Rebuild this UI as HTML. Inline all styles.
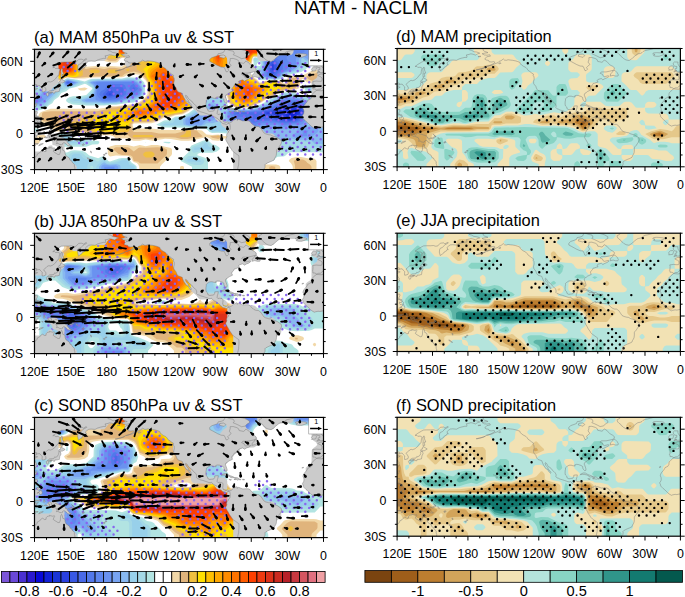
<!DOCTYPE html><html><head><meta charset="utf-8"><style>html,body{margin:0;padding:0;background:#fff;}svg{display:block;font-family:"Liberation Sans", sans-serif;}</style></head><body>
<svg width="685" height="597" viewBox="0 0 685 597">
<defs>
<clipPath id="ca"><rect x="34.5" y="49.3" width="289.00" height="120.30"/></clipPath>
<clipPath id="cb"><rect x="34.5" y="233.3" width="289.00" height="120.30"/></clipPath>
<clipPath id="cc"><rect x="34.5" y="417.4" width="289.00" height="120.20"/></clipPath>
<clipPath id="cd"><rect x="397.1" y="48.5" width="283.30" height="118.30"/></clipPath>
<clipPath id="ce"><rect x="397.1" y="233.2" width="283.30" height="118.30"/></clipPath>
<clipPath id="cf"><rect x="397.1" y="417.3" width="283.30" height="118.90"/></clipPath>
<path id="land" d="M1000 750l0-540 100 0 30 13 35 7 15 15 15 10 5 15 10 15 10 15-5 10 3 7-10 11-5 15-11 7 13 12 21 11-16 4-20-5-10 13-3 5 18 9 15 9 10-3-8-15 13 7 18 2 9-12 13-12-2-15 1-15 11 1 17 6 3 9-1 11-10 15-9 10 13 11 10 8 7 8 13 7 14-3 19 7 24 20 11 18 17 13 2 19 2 15 6 13-18 9-20-2-7 8-16 0 23 17 30 18 20 10 25 1 35 0 23 2 17-6 20 2 5 7 17 17 28 2 10-8 25 13 4-6-29-15-20-22-20-8-5-12-2-20 7-29 17 12 13 9 5 10 18 8 7 13 8-2-11 17 13 12 15 11 20 2 33-3 22 12 20 6 30 7 15-1 2 12-7 9 25 5 15 5 15-3 25-8 10 7 10 5 15 4-10 5-15 5-25 3-20 12-20 5-10 10-50 20-750 30zM1421 459l14 6-7 25 15 2-11 26 1 15-6 11-5-9-4-15 3-20-2-25zM1400 415l12 3 21 2 22 13-10 7-25 14-4-11-2-10-10-1-4-9zM1415 414l5-19-10-20-2-15-2-10-8-1-10-3-18 0-2-11-11 0-6 8-21 0-18-4-3 4 6 4 12 8 18 1 15 1 8 15 5-4 12 5 10 9 5 13-1 11 6 7zM1300 335l10 4 9-9-5-16-8-4-4 5-5 16zM1325 330l22 8-5 5-12-2-5-6zM1201 230l6-10 8 10 5 20-5 3-8-8zM1206 185l16 0 2-15-8-12 1-16 23-3 2-13-9 4-14 9-13-1 3 8-8 14 3 15zM1220 70l15 8 8 6 12 14 10-25-5-10-7-7-11 6-6 15-15-8zM1220 118l15-6 8 13 14-13-7-12-15-5-10 3-5 7zM1172 83l25 31-4-1-18-23zM1090 15l20 3 20 14 20 17 18 20 8-5 16-11-9-7-5-11 0-25 12-2-15-18-10-15-5-13-15 3-45 6-10 29zM1194-55l1 20-7 8 10 27 10 13 17-3 20 3 7 2-10-11-22 1-17-2 5-17 24 5-17-10 11-26-11-2-4 17-7 1 0-27zM1278 22l8-10-5-6 7-3-8-10-5 10 3 12zM1280-33l28-5-8 9-15 1zM1260-31l12-5-7-3zM1240-93l12 7 21 2-22-12-16-7zM1198-85l32 2-1-5-29-1zM1160-83l30 2 0-7-25-2zM1190-95l18-4-3-4-15 5zM1310-13l15 9 15-5 2-16 13-8 20 18 15-6 20-5 20-7 15-5 13-10 0-10 18-3-6-7 12-12 11-15 15-7-9-4-24 5-10 11-15 12-8 1-9-6 0-7-8-3-15 2-15 9-13-2 5 11-7 18-20 9-15 5-13 0-12 12 10 6-10 1-8 6zM1484-55l16 0 15 6 7 7 2-7-8-7-16-7-15 2zM1507-26l23-19-2-4-15 19zM1546-50l13-15-3-4-9 10zM1596-92l12-3-2-4-9 2zM1606-83l9-9-3-3-6 7zM1638-202l12-4 20-17-5-1-23 14zM1665-146l7-4 1-12-7 6zM1773-175l13 2-1-9-11 1zM1788-163l12 1-1-6-11 1zM1130-210l12-10 23 13 20 4 25 8 12 15 1 10 12 5 7 3 8 12 15 11 13-6 5-5 13 2 1 13 8 10 10 3 11 1-1 6 10-3 15-4 15 3 4-4-7-9-7-16 14-11 16-9 10-7 13 1 7 19 1 26 3 14 6 8 6-12 4-21 10-3 8-7 1-15 7-20 13-9 14-9 8-20 12-3 4-12 19-18 0-16 5-15-5-23-5-15-16-15-10-30-50-15-50 5-20 25-25 7-5 23-40 10-60-10-50-14-45-4-5 8 7 25-8 20-13 30-1 15 3 15zM1925 720l5-36 12-9 18-5 10-5-20-3-30-6 20-11 6 0 14-2 25 4 5-12-30-5-10-10-7-10 12-7 20-4 5-11 20-2 20 3 10-6-15-11-20-12-25-10-15-2 20 6 30 6 20 10 30 10 10 12 15 4 20 16 10-10 15-2 15 5 20-3 20-2 25-5 15-5 20-7 5-13 10-10 15-10 20-10 10-10 10-15 15-10 15-12 15-9-2-14 7-10 1-20-5-20 1-16 6-9 12-15 5-13 5-11 9-11 16-5 17-6 2-9 6-15 7-15 11-15 5-10 19-10 6-12 10-13 7-6 3 9-10 12-13 15-5 15-15 15-7 20 4 3 11-8 7-15 15-15 15-10 10-15 12-10 13-13 6-12 1-10-2-10 10-10 12-3 13-7 20-5 20-7 15-5 13-5 12-1 10 3 10-12 10-8 15-7 15-8 10-10 12-10 0-8 8-2 15-13 15-2 15-6 10 9 10 2 8-10 2-10 1-15-3-20-11-10-2-10-10-10-4-10-1-12 5-6-7-7-5-17 10-18 12-20 10-20 15-20 5-10 15-15 15-10 15-11 12-8 1-16 0-20-2-20-1-20-5-20-4-20-3-20-3-80 220 0-2 95 15 20 2 15-2 10 7 7 15 8 15 7 20 8 10 5 10 5 5 15 7 10 6 15 2 20 0 20 5 10 10 10 10 15 10 15 5 10 2 10-4 15-8 5-15 10-10 7-15 5-20 6-20 10-15 2-25 7-15 8-10 15-10 15-7 10-18 13-20 1-20 9-10 10-10 7-10 15-15 6-25 0-20-1-20 8-15 5-13-8 3 10-7 3-13-8-15-5-10-10-5-7-12-5-13 3-8 5-12-4-10 3-12 5-5 15 2 15 1 20-11 8-20 2-12-2-6 7 1 15 5 15 4 20-12 0-18-2-1-13-8-13-18-2-15-2-15 7-3 15-11 10-3 15 1 20 3 15-1 10 9 8 10 7 10 6 8 1 12 0 10-3 10-2 13-2-3 10 15 4 15-1 10-4 13-4 14-9 1-14 7-12 8-8 10 1 2 12-3 10-5 15-6 15 1 10 6 8 13 7 9 8 10 4 20 10-7 13 2 10 8 10 7 8 5 11 15 3 10 5 15 3 0 9-7 4 7 9 15 5 15 4 13-11 17 10 20 8 15 11-5 6-20-5-15-3-10 6-5 14-20 8 10 12 40 0 30 6 30 7 10 10 0 13-15 12-20 10-15 15-13 15-22 13-10-13-10-7-20 5-15 2-5 15-15 10-30 9-25-1 0-18-7-20 15-20-18-15-10-10 8-15-13-13-10 3-5 15-10 20-25 2-30 13-40 22-25 13 0 15 15 15 30 10 20 8 5 15 25 4 20 8 10 18 5 27zM3005 467l25 6 20-6 20 0 5 9-10 19-20 20-13 0-7-15-18-15 1-8zM2795 720l0-20 25-10 30-5 10-17-10-13 20-8 25-12 25-13 30 6 15 17 20 10 0 15-25 15-30 10-20 5 0 20zM2735 635l40-10 15 15-20 13-30-3zM3090 720l0-20-5-10-20-10 0-10 5-10 10-10 15-10 5-10 15-10 10-10 15-7 25-5 10 7 10 5 15 15 15 12 10 8 15 10 20 3 15 7 10 10 15 7 20 4 30 7 25 7 5 20zM2751 219l14 8 15 5 15-1 15-9 15-7 15-5 18-8-3-3-25-1-5 9-20 9-20 4-15 0-14-2zM2856 197l14 2 15-1 20-13 11-1-6-3-15 1-10-4-8 5-12-1-9 2 14 3 3 6zM2816 184l20-2-4-5-12 3zM2928 185l15-1 1-4-16 0zM3375 638l20-4 25 0 25 9 20 9-10 8-20 3-35 2-25-2-10-8 20-6-12-6zM3500 517l35 4 5 14 2 11-7 7-20-1-10-10-5-9 6-10zM3545 501l15 5 25 1 27 2 6 16-13 10-10 10-12 15-5 15 2 11-30 0-12-11 5-15 7-10 20-2-1-8 2-7-14-3-2-10 2-4 12-2-19-2zM3700 520l-90-10-10-13-15-4-2 4-21-9-9-4 5-6 17-6 13-10 0-17-5-11-18 0-25 2-30-4 3-12-1-15-1-13-4-5 5-3 0-14 18 0 7-6 8-4 12 7 18 1 10 8 8 9 7 5 2 10 18 15 30 15 50 0zM3544 359l-9-4-10-12-10-8-10-10-2-15 0-6-10-17-23-10-5-12-12-15-13-15-8-15-2-12 6-13 2-15-3-15-10-15 1-5 7-15-1-7 13-13 10-10 13-10 10-10 12-12 15-13 19-11 11 4 20 4 15-2 15 3 15 3 20 7 20 2 20-20 40-5 0 330-100-10-20-5zM2042 197l3 6 7-6-2-5-6-3zM2034 209l4 1 2-3-4-1zM2018 215l3 2 3-4-4 0zM1885 632l20 3 5-3-20-2zM2060 575l15 5 5-5-15-5zM1870 520l30 5 30 7 20 11-5-3-35-12-30-8zM3420 280l10 6 6-3-11-5z" vector-effect="non-scaling-stroke"/>
</defs>
<rect width="685" height="597" fill="#fff"/>
<text x="361.05" y="13.7" text-anchor="middle" font-size="18.8">NATM - NACLM</text>
<g clip-path="url(#ca)">
<rect x="34.5" y="49.3" width="289.00" height="120.30" fill="#ffffff"/>
<rect x="34.5" y="49.3" width="289.00" height="120.30" fill="#ffffff"/>
<g transform="scale(0.25)">
<path d="M126 185l211 0 0 70 2 8 6 4 42-3 30 3 23-3 48 3 31-30-4-5-27-1-9 6-4 6-5 5-6 2-24 0-23-6-9-7-4-5-4-24 0-23 666 0 0 23-5 6-16 12-6 2-24-1-4 5-6 34-5 6-9 6-2 6 15 11 8 12 15 11 12 13 24-8 47 1 12 1 6 3 6 5 6 1 4-4 8-23 12-3 47-3 48-23 23 3 24 0 0 54-71-3-7-2-17-15-6 5-7 28-4 6-7 3-17 4-30 1-12 3-31 18-28 11-24 16-46 19-31 3-24-2-19-7-9-11-7-24-6-11-30-29-34-23-13-6-12 3-12 5-8 15-3 12-1 28-12 24-2 17-3 6-18 15-24 13-30 4-24 9-23 1-24 15-24 7-71 1-5 5 5 15 71 0 48 6 71 0 30-4 23 2 30 4 18 16 23 2 24-2 24 6 47 0 2 1-2 9-47 0-12 6-12 3-24-2-11-8-12-5-54 13-17 2-30 0-42-7-23-1-48 8-29-5-24 5-24 0-12-3-12-6-47 0-11-9-13-4-53 0-48-5-41 0-17-8-13-4-47 2-24-20-24-1-23-26-24 0 0-10 24 0 9-17 8-5 36-12 190 0 24-3 23-7 24 0 77-10 24-12 12-10 13-16-2-47-5-8-24-23-24-3-24 3-15 8-8 2-119 1-30 4-41 0-30-4-12 5-11 10-54-9-29-18-12-27-24 0 0-86zM311 354l28-4 12 4-12 8-17 0-6-3-5-5zM169 539l4-1 12 7-5 6-13 6-5 6-7 11-5 4-24 0 0-36 24 0 19-3zM462 580l49 0 24 6 24-6 24 5 23-5 24 0 54 12 4 6 0 17-2 6-38 36-8 10 0 23-83 0 0-23-4-9-6-6-12-4-4-4-6-12-7-5-7-3-47-2-24 4-6-5-3-6 0-17 2-6 7-6 22-6zM1166 632l21-4 18 0 30 6 24 1 7 9 0 46-95 0 0-23-1-4-6-10-9-9 3-6 8-6zM1014 644l1-3 6 0 24 12 18 5 41 0 12 3 5 6 0 23-120 0 0-23 13-23zM720 667l5-3 6 0 5 3 0 23-16 0 0-23z" fill="#f2d8a8"/>
<path d="M126 185l205 0 0 70 3 11 5 8 6 2 18-4 24-1 30 5 23-5 18 0 30 5 12-7 11-11 12-7 7-14-4-5-15-3-23 0-11 3-13 11-24 1-6-2-10-5-7-8-8-21 0-23 655 0 0 23-6 6-13 10-6 2-24-1-6 7-7 29-4 6-13 11-1 6 8 10 12 13 17 11 18 16 6 0 18-9 47 1 12 3 12 12 6 1 7-6 11-20 6-5 23 1 6 7 3 11-6 12-10 12-16 4-24 1-18 4-12 5-17 13-24 8-24 18-24 8-23 12-30 3-24-2-11-5-12-11-4-6-5-23-6-12-9-7-18-18-36-23-11-5-12-1-18 6-6 6-3 7-4 18 0 23-5 14-8 9-2 6-3 17-4 6-12 10-21 13-9 3-24 3-24 7-23 1-24 16-30 6-65 1-10 10 4 23 6 6 71 0 30 6 65 0 24-6 12-7 18-3 33 4 4 6 19 17-9 3-53 8-24 0-24-6-24-1-35 1-36 6-23-3-24 3-24 0-11-5-13-11-47 2-24-6-47-1-54-8-41 0-16-5-14-12-41 0-6-2-21-21-27-2-7-9 0-6 3-18 4-3 30-4 184 0 30-6 23-9 24-1 24-4 23-1 30-5 24-10 29-27 3-5-5-47-9-15-18-20-6-3-24-6-35 9-12 10-119 1-71 6-30-4-12 4-11 8-48-5-33-19-14-29-24 0 0-82zM1255 296l4-3 47 0 0 38-29-1-18-3-24-9-11-11 11-6 20-5zM840 545l33-4 15 4-4 6-11 5-24-5-9-6zM457 592l7-3 47 0 7 3 17 14 18-14 6-2 24 1 47-2 24 2 14 7 0 17-3 6-35 33-65 0-6-1-6-6-18-3-5-17-7-5-12-2-23 0-15-5-20-17 4-6zM1185 638l27 0 11 6 6 7 12 8 5 8 0 23-65 0-1-29-5-17 10-6zM1077 667l10-3 14 3 0 23-24 0 0-23z" fill="#e0b47c"/>
<path d="M126 185l200 0-1 76 1 11 5 12 0 17-11 6-22 3-30-4-12 4-11 6-48-4-24-13-10-9-7-18-6-9-24 0 0-78zM425 185l636 0 0 23-10 10-12 6-18-2-6 1-3 3-5 6-4 17-5 11-19 18-1 6 14 18 6 6 17 10 14 12 10 7 9-1 15-8 47 1 7 1 5 9 6 6 12 5 12-5 6-15 6-6 18 0 5 3 2 3-16 12-5 12-34 2-24 6-12 7-5 8-33 11-10 12-9 6-21 6-22 12-30 4-28-5-19-18-4-28-3-12-5-5-12-3-12-16-12-5-35-19-12-3-18 3-6 2-10 11-4 24-1 23-4 11-12 12-5 23-11 12-24 14-6 3-24 3-24 6-23 1-24 15-24 5-23 3-48 0-12 8-4 6-2 23-6 6-23 0-24 6-24-4-47 0-15-2-56-17-24-1-6-3-9-8 3-6 6-6 24-1 6-3 17-19 6-2 18 0 30-7 47-17 24 0 24-8 23-1 48-11 12-6 12-13 11-7 6-7 4-8-7-47-3-5-23-34-24-13 0-41-4-5-26-5-29-1-18 5-6 5-24 0-8-4-7-24 0-23zM368 278l20 0 14 6-9 8-24 1-6-2-7-7 12-6zM440 278l24 0 10 6-10 9-24 0-6-2-6-7 12-6zM505 278l6-5 9 5-5 6-4 1-5-1-1-6zM746 522l18 0 0 23-15 4-18 0-14-4 20-8 6-6 3-9zM530 545l5-5 6 0 65 0 12 5-12 4-47 0-24 0-5-4zM866 545l10 0-3 3-7-3zM579 609l4-2 23-1 6 3 6 6 0 6-6 6-6 3-23 0-10-9 0-6 6-6z" fill="#f0c040"/>
<path d="M126 185l194 0-1 70-5 46-10 6-12 1-24-4-23 8-48-3-24-12-7-7-10-23-6-8-24 0 0-74zM442 185l113 0 0 23-2 8-4 4-8 3-53 1-14 2-10 3-6 0-8-3-5-6-3-12 0-23zM596 185l463 0 0 23-14 12-6 2-24-1-5 5-5 6-7 22-25 24 0 6 23 29 19 9 12 11 12 7 12-1 7-3 5-6 39 0 15 18 8 6-28 5-19 18-21 7-6 4-7 12-29 9-23 14-30 2-11-2-7-4-18-19-3-17 0-29-2-12-15-6-9-6-24 0-24-12-11-4-12-2-24 3-6 4-6 11-4 24-2 26-6 11-11 9-6 23-6 7-18 9-11 8-49 9-23 1-12 5-12 8-30 8-17 2-48 1-12 6-6 6-3 6-3 11-23 0-6 3-7 9-11 4-71-1-14-3-4-6-7-6-29-7-7-4 7-10 6-3 24-1 17-15 25-6 10-6 5-6 12-5 26-1 24-8 23-3 54-14 8-4 14-11 12-6 6-6 5-17-9-47-14-23-4-16-10-13 23-23 0-70z" fill="#ffe000"/>
<path d="M126 185l188 0-2 93-2 12-6 11-12 4-24-3-23 6-42-1-6-1-12-7-12-5-9-10-6-18-8-13-24 0 0-68zM449 185l98 0 0 23-6 7-12 5-65 3-6-3-6-6-3-6 0-23zM620 185l436 0 0 23-11 9-6 3-24-1-5 5-7 8-5 16-5 7-25 21-7 2-1 6 8 2 6 5 18 26 6 4 17 6 12 11 12 5 30 1 8 10-20 21-12 8-7 11-6 6-17 5-23 14-24 3-12-5-8-5-11-12-6-12-3-11 0-23 2-18 2-6-3-11-7-12-1 0-6 8-6 2-36 8-30-14-17-2-24 2-10 8-5 11-3 24-1 23-2 6-3 4-16 13-6 23-7 6-44 18-28 5-23 0-36 16-29 7-54 1-14 5-10 11-23-6-24 0-6-3-6-7 2-6 20-18 14-6 90-23 14-11 14-7 5-5 4-23-2-12-7-35-14-23-2-23 2-6 5-6 23-17 0-70z" fill="#ffc000"/>
<path d="M126 185l183 0-2 93-7 18-8 5-24-2-23 4-42 0-6-1-12-6-12-4-6-8-6-18-11-21-24 0 0-60zM456 185l83 0 0 23-10 8-18 4-29-1-18-3-8-8 0-23zM661 185l392 0 0 23-8 7-6 3-18-1-10 3-7 8-6 15-6 9-12 6-12 10-24 2-6 4-7 10-21 12-8 11-17 9-12 3-24-11-23-2-24 1-6 3-8 9-4 9-3 49-2 6-19 12-10 22-6 6-37 17-23 7-36 2-13 3-25 12-27 6-54 1-18 9-9-4-2-6-1-18 42-16 18-4 24-2 13-13 16-10 5-7 3-23-5-35-3-12-15-23 0-11 3-12 6-7 34-22 5-18 16-29 0-23zM954 296l14-5 9 10 9 17 6 7 23 8 12 9 24 6 10 6-7 11-15 10-12 16-35 23-24 2-6-3-21-19-7-11-1-6 0-23 5-15 10-9 1-23 1-6 4-5z" fill="#ffa800"/>
<path d="M126 185l177 0-1 93-4 11-6 5-47 4-48 0-24-9-4-5-12-35-7-12-24 0 0-52zM463 185l69 0 0 23-9 6-12 3-23 0-16-3-9-6 0-23zM851 185l43 0 0 47-3 29 0 40-3 6-15 7-15-7-4-6 0-40-3-29 0-47zM923 185l127 0 0 23-11 8-24 0-5 3-7 7-11 22-12 5-12 8-30-12-7-6-4-9-3-14-1-35zM699 214l8-6 18 1 6 4 6 11 8 31 4 6 11 6 6 5 6 12 12 6 6 6 3 5-2 6-7 9-2 9-4 54-6 5-12 4-12 18-29 21-30 13-12 3-23 0-18 3-30 13-41 7-18-1-24-7-5-6 7-5 10-4 24-7 24 2 5-3 10-12 22-17 3-6 1-23-3-41-4-11-11-10-5-8 2-11 3-7 12-11 12-8 22-9 47-47zM961 301l7-4 4 4 4 6 4 13 8 10 39 17 26 7-8 9-11 8-9 12-19 17-14 9-24 1-24-21-6-12 0-23 6-12 8-6 4-6 1-23 4-6z" fill="#ff8c00"/>
<path d="M126 185l171 0 0 93-2 6-9 6-18 3-65 0-30-6-4-9-9-35-10-18-24 0 0-40zM470 185l56 0 0 23-15 7-23 0-12-3-6-4 0-23zM857 185l31 0 0 47-3 12-6 17 0 40-6 7-6-7 0-40-10-29 0-47zM927 185l121 0 0 23-9 6-24 0-5 3-10 9-8 18-24 9-18-10-18-16-5-19 0-23zM723 249l8 5 6 13 6 5 12 5 6 13 6 6 11 5 3 6-4 23-2 47-3 2-16 4-10 5-6 6-3 6-25 23-9 6-20 8-29 1-30 4-18 11-23 1-24 8-14-4-12-6 5-5 21-7 24 5 11-2 6-6 7-14 11-8 8-9 3-6 0-17-1-53-4-12-5-5-13-6 2-6 10-6 12-16 42-10 35-18 16-2zM965 307l3-3 2 3 3 18 2 5 5 5 18 5 23 11 24 3-18 9-6 14-23 23-6 4-24-1-3-3-5-12-16-7-2-4 0-23 2-4 12-4 7-10 2-29z" fill="#ff7400"/>
<path d="M150 185l142 0 0 93-3 6-9 4-12 3-23-2-48-1-24-4-2-6-7-41-7-17-7-12 0-23zM477 185l43 0 0 23-9 4-23 0-11-4 0-23zM864 185l18 0 0 47-9 19-6-8-3-11 0-47zM931 185l114 0 0 23-6 4-24 0-5 2-9 6-9 19-24 6-24-15-9-10-4-12 0-23zM649 290l5-2 6 1 6 3 11 17 16 10 8 14 36 11 16 10-10 6-12 5-6 12-3 23-22 23-10 6-13 4-47 2-14-6 2-6 6-6 14-17 0-93 4-11 7-6zM981 348l11-3 19 9 0 23-19 18-12-6-5-12 0-23 6-6zM551 447l8-3 6 1 5 2 3 5-14 5-13-5 5-5z" fill="#ff5c00"/>
<path d="M166 185l120 0 0 93-4 6-14 4-23-4-48-1-24-4-2-42-5-29 0-23zM484 185l30 0 0 23-9 2-21-2 0-23zM870 185l6 0 0 47-3 6-3-6 0-47zM935 185l106 0 0 23-31 3-12 9-6 15-24 2-24-13-6-7-3-9 0-23zM654 301l6 2 9 16 14 8 9 15 24 12 2 5 1 18-3 11-5 12-4 5-13 7-5 5-2 6-10 4-41 1-6-2-1-3 17-11 4-12 0-93 4-6zM987 354l5-3 7 3 0 23-7 6-5-6 0-23z" fill="#ff4000"/>
<path d="M252 185l27 0 0 93-5 6-12 0-10-6 0-93zM939 185l72 0 0 23-12 6-5 6-2 7-24 0-24-9-2-4-3-6 0-23zM692 365l9-5 6 3 4 8 2 6-2 6-4 8-6 4-10-7-4-5-1-6 6-12z" fill="#ee3a10"/>
<path d="M264 185l9 0 0 93-5 2-4-2 0-93zM943 185l56 0 0 23-7 7-24 0-24-4-1-3 0-23zM699 377l2-3 4 3-4 4-2-4z" fill="#dd3018"/>
<path d="M1071 185l235 0 0 88-24 0-12-2-11-6-24 0-13 13-17 10-23 6-42 8-6 5-6 9-6 2-83 2-13-13-2-6 0-29-3-6-6-6-2-23 1-5 7-3 18 3 12-6 12-8 8-10 0-23zM1039 245l-11 10-2 6 1 2 12 1 3-3 1-6-4-10zM126 284l0-4 24 0 3 21 9 12 23 8 48 9 12 6 11-16 12-7 42 6 29 7 18-8 12-3 119-1 23-5 42 2 6 1 18 18 3 24 0 23-16 17-29 16-24 2-47 7-24 0-23 3-72 0-53-4-18-6-8-6-2-6 5-6 10-6 13-3 24 0 29-5 24-24 0-4-24-15-6-2-35 13-26 6-13 11-20 7-11 16-17 12-8 13-12 7-10 9-8 5-29 9-24 0 0-159zM822 325l4-1 11 6 6 8 23 16 31 31 6 10 9 28 9 6 23 5 48 0 23-5 36-15 30-17 23-11 24-13 12-4 36 2 35 11 24 3 71 0 0 224-142 0-12 4-12 11-6 2-24 1-7 5-10 12-6 0-6-6-6-17-8-6-22-6-30 1-5-2-6-5-7-11-17-12-6-12-12-12-5-11-13-8-71-6-24 1-11-4-12-12-6-1-71-4-95-1-29-11 29-16 6-2 17 0 24-14 30-3 24-12 23-17 6-6 3-6 1-17 7-23 0-29 2-6 5-11 7-7 13-5zM1233 342l73 1 0 28-71 0-6-2-6-4-6-11 6-9 10-3zM126 516l0-2 24 0 8 8-8 4-24 0 0-10zM231 539l14-4 23-1 12 5 12 12 6 2 47 0 24 9 24 2 5 4-5 9-24 1-24 9-100 0-6-3-6-6-9-27-1-6 8-6zM811 563l15-4 12 7 11 11 13 3 10 6 7 6-1 6-11 8-18 5-47 0-11 4-2 6 31 10 9 7 3 4 0 48-64 0 0-23-45-23 0-6 32-30 5-18 6-8 45-19zM581 568l4 0-2 2-2-2zM652 568l8-1 24 1-7 6-17-2-8-4zM284 603l14-2 30 2 14 6 15 13 36 11 12-6 12-1 17 18 6 2 36-12 12-2 23 0 7 6 8 12 15 10 6 7 0 23-315 0 2-46 4-23 3-6 4-3 5-2 18 0 16-7z" fill="#b2e4e2"/>
<path d="M1074 185l232 0 0 85-24 0-12-4-11-8-24-3-10 6-18 17-8 6-23 8-36 7-6 3-8 11-10 4-23 1-48-2-6-3-6-6-2-6 0-17 2-7 6-5 7-11 1-6-5-18 4-5 18-12 10-12 0-23zM1019 232l6 0 8 5-12 11-6-5 0-8 4-3zM507 313l28-1 18 4 6 3 11 11 5 12 2 12-1 23-5 7-12 10-24 13-24 1-47 8-24 0-23 3-72-1-29-6-24-1-11-5-3-6 14-8 24-1 29-6 12-8 12-14 4-9-4-6-12-7-11-11 6-5 11-6 30-3 95 0 19-3zM261 319l7-4 6 0 36 7 25 8-37 16-34 8-8 6-12 5-7 6-8 12-14 12-12 14-24 20-6 3-23 4-24 0 0-76 24 0 5-6 5-24 7-4 6-1 24 1 18 3 4 1 14 9 12 4 9-18 7-6zM815 330l11-3 6 3 6 10 21 14 3 5 11 9 18 20 6 4 4 8 5 23 3 4 6 4 20 4 33 2 24-1 29-7 36-15 25-14 58-28 24 1 71 18 71 0 0 208-142 0-30 6-24-10-17-3-24 6-24 0-30 6-29-28-23-31-19-11-23-5-72-1-11-6-6-9-6-4-24 2-77-6-65 0-6 0-15-6 15-10 29-3 10-10 8-5 24-2 12-4 23-11 26-19 6-12 1-17 5-29 0-23 4-10 6-4 7-10zM1231 348l4-2 71 1 0 17-71 0-6-4-6-6 8-6zM245 539l23 0 6 2 18 18 47 1 11 3 9 5-3 6-11 6-6 0-94-1-6-5-3-6-3-23 12-6zM810 568l16-4 7 4 10 13 21 11-1 6-14 6-47 1-24 6-6-1-4-7-2-5 1-6 6-6 23-8 14-10zM291 609l31 0 11 6 12 11 30 9 12 10 6 1 9-8 9-4 6-1 11 12 12 5 24-5 24-9 23 0 12 18 14 7 6 6 0 23-170 0 0-23-4-5-6 2-2 3 0 23-119 0 0-29 3-11 5-11 18-8 12-16 11-6zM750 627l5-3 23 1 30 10 5 3 5 6-4 9-6 5-6 2-24 0-29-9-12-7 1-6 12-11z" fill="#a4d8e6"/>
<path d="M1076 185l230 0 0 82-24 0-14-6-9-9-30-2-11 5-23 23-9 6-16 5-30 6-6 4-12 13-6 2-29 2-42-5-6-4-1-6 0-17 12-23 0-6-3-18 3-5 17-12 8-9 1-26zM265 319l9-2 36 7 13 6-31 15-18 4-18 1-3-2 0-18 4-5 8-6zM392 319l96 0 23-4 30 1 17 9 10 11 6 18-2 23-13 13-24 13-24 0-17 6-30 5-47 2-30-2-42 0-11-3-18-7-18 0-6-4 24-2 31-10 11-5 11-12 7-17-7-11-18-13 12-8 29-3zM187 330l16 0 18 16 12 3 17 1 2 4-19 8-4 3-3 12-46 46-7 4-47 2 0-57 24 0 16-18 7-15 14-9zM823 330l4 0 5 16 20 8 3 12 6 5 14 6 4 11 5 6 13 5 5 30 7 5 6 1 53 4 24-1 23-4 42-16 33-18 50-24 24 0 53 15 18 7 71 0 0 190-47 0-6-1-6-4-12-16-95-3-12 4-12 9-53 10-18 0-24 10-6 0-29-29-18-23-12-9-12-5-23-7-72 0-4-2-3-12-4-4-12-4-18 4-12 1-47-2-24-5-65 0-8-1 8-4 17 0 12-3 7-5 5-12 30-3 31-14 28-19 8-16 3-69 1-4 12-3 4-5 5-12zM1231 354l4-3 71 0 0 6-71 0-4-3zM243 545l25-1 4 1 8 17 12 4 47 1 7 1-7 5-89 0-5-2-2-3 0-23zM817 574l9-5 8 17 16 6-1 3-4 3-43 0-24 2-2-2 1-6 1-1 18-2 12-4 6-5 3-6zM297 615l19 0 9 6 3 6 6 6 11 4 18 2 9 5-15 8-6 7-2 8 0 23-79 0 0-23 10-17 8-29 9-6zM751 638l4-2 23 1 18 2 9 5-3 3-6 1-41-2-6-2 2-6zM407 644l10-4 11 10 12 4 30-5 18-8 23 0 6 17 6 4 12 3 3 2 0 23-153 0 0-23 4-6 18-17z" fill="#98d0ea"/>
<path d="M1078 185l228 0 0 79-24 0-7-3-16-15-36-4-12-11-6 6 0 18-3 6-18 17-9 6-35 8-7 4-11 12-12 5-23 2-36-6-5-2-2-6 0-17 9-23-2-24 3-5 15-10 7-8 2-6 0-23zM268 319l6-1 28 7 12 5-22 12-24 5-10-5-3-12 4-5 9-6zM508 319l27-1 12 5 16 13 6 12 2 6-3 23-9 9-24 13-24 0-18 7-29 5-47 2-30-3-42 0-14-4-5-6 33-12 7-5 8-12 6-17-7-12-16-12 9-5 27-4 95 0 20-2zM188 348l9-6 16 12 4 23-44 44-47 2 0-42 24 0 6-4 17-20 15-9zM1136 383l4-2 24 1 48 12 23 11 71 0 0 171-47 0-12-12-12-4-48 0-29-8-18 0-18 3-22 8-9 5-20 6-26 3-24 14-6 0-48-52-17-10-23-7-6-5-12-5-6-7-1-6-2-47 1-5 6-6 14-2 71 1 29-5 54-21 24-14 37-17zM1235 492l-5 7 5 3 7-3-7-7zM836 412l13-5 12 5 4 5 3 12 1 23 4 13 6 5 2 6-5 5-15 9-12 3-23 0-8 6-16 5-47-1-20-4-2-6 0-17 16-9 17-5 24-14 12-13 18 0 6-2 6-16 4-5zM414 650l3-1 11 7 12 2 24-2 12 3 4 2 2 6 0 23-86 0 0-23 10-11 8-6z" fill="#88b8f0"/>
<path d="M1081 185l225 0 0 75-24 0-7-5-5-9-5-4-6-3-24 0-24-14-6 1-8 6-2 5 0 18-3 6-18 17-10 6-30 7-14 16-10 4-23 2-30-5-4-1-3-6 0-17 7-23-2-24 3-5 16-12 5-6 2-6 0-23zM262 325l6-5 6 0 34 10-22 11-18 3-6-3-3-5-2-6 5-5zM382 325l153-3 16 8 14 17 2 7-3 23-5 5-24 11-24 0-12 7-11 4-24 4-47 2-30-4-42 0-8-6 26-6 6-4 5-7 9-29-8-15-13-9 7-3 13-2zM197 359l6 7 5 11-20 17-15 18-23 5-24 0 0-30 24 0 6-2 6-4 11-13 24-9zM1135 388l5-1 18 0 29 5 24 6 24 13 71 0 0 58-24 0-20 7-3 5-24-1-8 7-7 12 9 11 6 2 24-9 6 3 7 10 2 6-4 7-28 22-7 2-48 0-11-4-6-4 3-6 5-5 11-6 5-6-7-7-5-1-18 0-24 4-30-4-47 1-14 7-8 23-2 23-12 12-6 4-6 1-23-24-18-22-18-11-17-6-27-23-1-23-5-24 3-5 6-4 6-1 71 0 35-6 50-19 31-17 27-12zM848 417l1 0 6 5 3 7 0 23 3 24-12 7-23 1-6 2-12 13-6 2-47 0-10-2-3-6 0-17 12-6 30-8 18-7 24-1 8-13 6-18 8-6zM410 661l7-3 23 4 24-1 9 6 0 23-68 0 0-23 5-6z" fill="#78a4f2"/>
<path d="M1083 185l223 0 0 70-24 0 0-18-6-5-41 0 0-12-6-2-24 1-12 6-8 7-2 5 2 18-21 23-33 12-7 6-8 11-6 2-23 2-27-4-4-6 0-17 4-23-1-24 3-5 13-8 6-10 2-6 0-23zM264 325l4-3 6 0 28 8-22 10-12 2-6-5-3-7 5-5zM370 330l23-4 142-1 10 5 14 14 5 10-5 23-24 10-24 0-21 13-26 6-53 0-29-6 0-23 4-23-5-16-11-8zM126 394l0-1 47 0 1 7-8 6-16 5-24 0 0-17zM1135 394l5-1 18 0 29 3 24 7 24 14 71 0 0 41-24 0-23 9-24 4-9 5-15 20-6 3-43 0-22 10-12-2-18-8-66 0-5 3-6 20-3 46-9 9-6 1-12-15-11-9-16-20-25-12-13-12-16-11-1-23-9-24 5-5 27-4 54 0 35-5 48-17 29-17 25-10zM755 476l41 0 0 17-41 0 0-17zM1211 522l42 0-18 0-6 6 0 17-18 0 0-23zM417 667l41 0 0 23-41 0 0-23z" fill="#6a92f0"/>
<path d="M1086 185l68 0 0 23-8 24 5 11 17 12-4 8-12 8-5 7-22 12-15 17-17 2-24-2-7-6 1-64 4-5 11-6 4-6 4-12 0-23zM1170 185l48 0 0 23-7 3-24 5-9-2-8-6 0-23zM267 325l7-2 22 7-22 9-6 0-7-9 6-5zM384 330l9-1 142-1 26 26-2 8-6 7-9 8-9 4-24-1-23 15-24 7-47 1-12-3-12-12-3-5-2-6 2-29-3-12-3-6zM126 400l0-1 28 1-4 3-24 0 0-3zM1134 400l24-1 29 1 18 7 30 16 71 0 0 21-24 0-6 8-6 3-11 5-30 7-15 9-9 11-15 6-32 3-18 5-24-7-29-3-42 0-9 2-11 6-3 23-1 46-6 3-5-15-6-4-12-5-6-16-6-4-17-5-7-13-18-10-1-23-16-18-2-6 8-4 11-2 60-1 41-5 48-16 29-17 18-7z" fill="#5e86ee"/>
<path d="M1090 185l11 0 0 23 6 24 3 4 13 7 5 6 3 12 0 17-13 12-8 12-14 5-9 1-17-7-2-17 1-29 1-18 13-11 7-18 0-23zM264 330l4-4 6-1 16 5-16 7-6-1-4-6zM437 336l51 0 6 2 6 4 5 12 0 23-17 11-30 9-18 2-23-3-16-13-4-6 2-5 6-8 12-6 4-4 6-12 10-6zM533 336l2 0 10 12 8 6-18 18-12-6-6-12 6-12 10-6zM1135 406l29 1 23-2 24 11 24 16 18 4 8 5 3 6-4 5-25 7-23 11-13 13-12 6-47 5-53-10-42 0-12 2-18 6-9-5-8-14-6-5-48-1-15-15 15-4 48 0 47-4 24-9 25-6 47-23z" fill="#5278ea"/>
<path d="M1085 232l8-5 6 10 18 18 2 6 0 17-3 6-17 17-6 3-6 0-6-3-6-17 0-29 3-12 7-11zM266 330l2-2 6-1 10 3-10 4-6 0-2-4zM440 348l48 0 5 6 0 23-5 3-24 4-12 5-12 3-12-2-11-5-7-8 30-29zM535 348l6 6-6 5-6-5 6-6zM1137 412l27 6 12-5 11-1 24 11 24 21 5 3-4 5-25 12-18 17-11 5-42 3-30-5-23-7-72 2-8-15-9-7-6-1-48-1-3-3 98-3 24-9 30-6 30-17 14-5z" fill="#4a6ae8"/>
<path d="M1087 243l6 0 12 12 2 6 0 17-2 6-12 12-6 0-6-12-1-6 1-23 6-12zM268 330l10 0-4 2-6-2zM433 365l7-5 6 2 6 5 5 10-8 6-9 3-11-3-7-6 11-12zM1124 423l10-5 6 0 18 9 6 0 18-9 5 0 20 11 17 18-1 5-18 10-12 14-11 5-24 4-48-5-11-4-12-8-18 0-12-3-6-6-3-7 15-8 26-3 15-4 20-14z" fill="#3858e4"/>
<path d="M1092 255l3 6 0 17-2 6-7-6 1-19 5-4zM434 377l6-4 4 4-4 2-6-2zM1130 429l4-3 6-1 12 8 12 1 23-10 25 23-1 5-12 8-12 14-5 3-24 4-24-4-21-1-17-18-9-2-18 0-8-4 8-3 47-6 6-3 6-5 2-6z" fill="#2a40e0"/>
<path d="M1181 435l6-1 13 13 0 5-17 18-9 6-10 2-16-2-5-6 0-18 3-5 6-4 29-8z" fill="#1a35d8"/>
<path d="M1166 447l21-1 2 6-13 8-7 10-5 4-8-4 0-18 10-5z" fill="#1020d8"/>
</g>
<path d="M67.6 63.3h0M75.2 63.3h0M259.3 63.3h0M267.0 63.3h0M274.7 63.3h0M282.3 63.3h0M290.0 63.3h0M297.7 63.3h0M305.3 63.3h0M63.7 67.1h0M71.4 67.1h0M79.1 67.1h0M255.5 67.1h0M263.1 67.1h0M270.8 67.1h0M278.5 67.1h0M286.2 67.1h0M293.8 67.1h0M301.5 67.1h0M309.2 67.1h0M67.6 70.9h0M75.2 70.9h0M251.6 70.9h0M259.3 70.9h0M267.0 70.9h0M274.7 70.9h0M282.3 70.9h0M290.0 70.9h0M297.7 70.9h0M305.3 70.9h0M163.4 74.7h0M171.1 74.7h0M178.8 74.7h0M186.4 74.7h0M194.1 74.7h0M232.5 74.7h0M240.1 74.7h0M247.8 74.7h0M255.5 74.7h0M263.1 74.7h0M270.8 74.7h0M278.5 74.7h0M286.2 74.7h0M293.8 74.7h0M301.5 74.7h0M309.2 74.7h0M136.6 78.5h0M159.6 78.5h0M167.3 78.5h0M174.9 78.5h0M182.6 78.5h0M190.3 78.5h0M198.0 78.5h0M228.6 78.5h0M236.3 78.5h0M244.0 78.5h0M251.6 78.5h0M259.3 78.5h0M267.0 78.5h0M274.7 78.5h0M282.3 78.5h0M290.0 78.5h0M297.7 78.5h0M305.3 78.5h0M132.8 82.3h0M140.4 82.3h0M155.8 82.3h0M163.4 82.3h0M171.1 82.3h0M178.8 82.3h0M186.4 82.3h0M194.1 82.3h0M201.8 82.3h0M232.5 82.3h0M240.1 82.3h0M247.8 82.3h0M255.5 82.3h0M263.1 82.3h0M270.8 82.3h0M278.5 82.3h0M286.2 82.3h0M293.8 82.3h0M301.5 82.3h0M309.2 82.3h0M36.9 86.1h0M113.6 86.1h0M121.3 86.1h0M128.9 86.1h0M136.6 86.1h0M144.3 86.1h0M151.9 86.1h0M159.6 86.1h0M167.3 86.1h0M174.9 86.1h0M182.6 86.1h0M190.3 86.1h0M198.0 86.1h0M228.6 86.1h0M236.3 86.1h0M244.0 86.1h0M251.6 86.1h0M259.3 86.1h0M267.0 86.1h0M274.7 86.1h0M282.3 86.1h0M290.0 86.1h0M297.7 86.1h0M305.3 86.1h0M40.7 89.9h0M109.7 89.9h0M117.4 89.9h0M125.1 89.9h0M132.8 89.9h0M140.4 89.9h0M148.1 89.9h0M155.8 89.9h0M163.4 89.9h0M171.1 89.9h0M178.8 89.9h0M186.4 89.9h0M194.1 89.9h0M201.8 89.9h0M232.5 89.9h0M240.1 89.9h0M247.8 89.9h0M255.5 89.9h0M263.1 89.9h0M270.8 89.9h0M278.5 89.9h0M286.2 89.9h0M293.8 89.9h0M301.5 89.9h0M309.2 89.9h0M36.9 93.7h0M44.6 93.7h0M113.6 93.7h0M121.3 93.7h0M128.9 93.7h0M136.6 93.7h0M144.3 93.7h0M151.9 93.7h0M159.6 93.7h0M167.3 93.7h0M174.9 93.7h0M182.6 93.7h0M190.3 93.7h0M198.0 93.7h0M228.6 93.7h0M236.3 93.7h0M244.0 93.7h0M251.6 93.7h0M259.3 93.7h0M267.0 93.7h0M274.7 93.7h0M282.3 93.7h0M290.0 93.7h0M297.7 93.7h0M305.3 93.7h0M40.7 97.5h0M117.4 97.5h0M125.1 97.5h0M132.8 97.5h0M140.4 97.5h0M148.1 97.5h0M155.8 97.5h0M163.4 97.5h0M171.1 97.5h0M178.8 97.5h0M186.4 97.5h0M194.1 97.5h0M209.5 97.5h0M217.1 97.5h0M224.8 97.5h0M232.5 97.5h0M240.1 97.5h0M247.8 97.5h0M255.5 97.5h0M263.1 97.5h0M270.8 97.5h0M278.5 97.5h0M286.2 97.5h0M293.8 97.5h0M301.5 97.5h0M309.2 97.5h0M36.9 101.3h0M44.6 101.3h0M121.3 101.3h0M128.9 101.3h0M136.6 101.3h0M144.3 101.3h0M151.9 101.3h0M159.6 101.3h0M167.3 101.3h0M174.9 101.3h0M182.6 101.3h0M190.3 101.3h0M205.6 101.3h0M213.3 101.3h0M221.0 101.3h0M228.6 101.3h0M236.3 101.3h0M244.0 101.3h0M251.6 101.3h0M259.3 101.3h0M267.0 101.3h0M274.7 101.3h0M282.3 101.3h0M290.0 101.3h0M297.7 101.3h0M305.3 101.3h0M40.7 105.1h0M125.1 105.1h0M132.8 105.1h0M140.4 105.1h0M148.1 105.1h0M155.8 105.1h0M163.4 105.1h0M171.1 105.1h0M178.8 105.1h0M186.4 105.1h0M209.5 105.1h0M217.1 105.1h0M224.8 105.1h0M232.5 105.1h0M240.1 105.1h0M247.8 105.1h0M255.5 105.1h0M263.1 105.1h0M270.8 105.1h0M278.5 105.1h0M286.2 105.1h0M293.8 105.1h0M301.5 105.1h0M309.2 105.1h0M36.9 108.9h0M121.3 108.9h0M128.9 108.9h0M136.6 108.9h0M144.3 108.9h0M151.9 108.9h0M159.6 108.9h0M167.3 108.9h0M174.9 108.9h0M182.6 108.9h0M205.6 108.9h0M213.3 108.9h0M221.0 108.9h0M228.6 108.9h0M236.3 108.9h0M244.0 108.9h0M251.6 108.9h0M259.3 108.9h0M267.0 108.9h0M274.7 108.9h0M282.3 108.9h0M290.0 108.9h0M297.7 108.9h0M305.3 108.9h0M313.0 108.9h0M63.7 112.7h0M71.4 112.7h0M79.1 112.7h0M86.7 112.7h0M94.4 112.7h0M102.1 112.7h0M109.7 112.7h0M117.4 112.7h0M125.1 112.7h0M132.8 112.7h0M140.4 112.7h0M148.1 112.7h0M155.8 112.7h0M163.4 112.7h0M209.5 112.7h0M217.1 112.7h0M224.8 112.7h0M232.5 112.7h0M240.1 112.7h0M247.8 112.7h0M255.5 112.7h0M263.1 112.7h0M270.8 112.7h0M278.5 112.7h0M286.2 112.7h0M293.8 112.7h0M301.5 112.7h0M309.2 112.7h0M316.8 112.7h0M59.9 116.5h0M67.6 116.5h0M75.2 116.5h0M82.9 116.5h0M90.6 116.5h0M98.2 116.5h0M105.9 116.5h0M113.6 116.5h0M121.3 116.5h0M128.9 116.5h0M136.6 116.5h0M144.3 116.5h0M151.9 116.5h0M159.6 116.5h0M205.6 116.5h0M213.3 116.5h0M221.0 116.5h0M228.6 116.5h0M236.3 116.5h0M244.0 116.5h0M251.6 116.5h0M259.3 116.5h0M267.0 116.5h0M274.7 116.5h0M282.3 116.5h0M290.0 116.5h0M297.7 116.5h0M305.3 116.5h0M313.0 116.5h0M320.7 116.5h0M63.7 120.3h0M71.4 120.3h0M79.1 120.3h0M86.7 120.3h0M94.4 120.3h0M102.1 120.3h0M109.7 120.3h0M117.4 120.3h0M125.1 120.3h0M132.8 120.3h0M140.4 120.3h0M148.1 120.3h0M155.8 120.3h0M209.5 120.3h0M217.1 120.3h0M224.8 120.3h0M232.5 120.3h0M240.1 120.3h0M247.8 120.3h0M255.5 120.3h0M263.1 120.3h0M270.8 120.3h0M278.5 120.3h0M286.2 120.3h0M293.8 120.3h0M301.5 120.3h0M309.2 120.3h0M316.8 120.3h0M59.9 124.1h0M67.6 124.1h0M75.2 124.1h0M82.9 124.1h0M90.6 124.1h0M98.2 124.1h0M105.9 124.1h0M251.6 124.1h0M259.3 124.1h0M267.0 124.1h0M274.7 124.1h0M282.3 124.1h0M290.0 124.1h0M297.7 124.1h0M305.3 124.1h0M313.0 124.1h0M320.7 124.1h0M63.7 127.9h0M71.4 127.9h0M79.1 127.9h0M86.7 127.9h0M94.4 127.9h0M102.1 127.9h0M255.5 127.9h0M263.1 127.9h0M270.8 127.9h0M278.5 127.9h0M286.2 127.9h0M293.8 127.9h0M301.5 127.9h0M309.2 127.9h0M316.8 127.9h0M67.6 131.7h0M75.2 131.7h0M82.9 131.7h0M90.6 131.7h0M98.2 131.7h0M251.6 131.7h0M259.3 131.7h0M267.0 131.7h0M274.7 131.7h0M282.3 131.7h0M290.0 131.7h0M297.7 131.7h0M305.3 131.7h0M313.0 131.7h0M320.7 131.7h0M71.4 135.5h0M79.1 135.5h0M86.7 135.5h0M94.4 135.5h0M255.5 135.5h0M263.1 135.5h0M270.8 135.5h0M278.5 135.5h0M286.2 135.5h0M293.8 135.5h0M301.5 135.5h0M309.2 135.5h0M316.8 135.5h0M75.2 139.3h0M82.9 139.3h0M90.6 139.3h0M251.6 139.3h0M259.3 139.3h0M267.0 139.3h0M274.7 139.3h0M282.3 139.3h0M290.0 139.3h0M297.7 139.3h0M305.3 139.3h0M313.0 139.3h0M320.7 139.3h0M79.1 143.1h0M86.7 143.1h0M255.5 143.1h0M263.1 143.1h0M270.8 143.1h0M278.5 143.1h0M286.2 143.1h0M293.8 143.1h0M301.5 143.1h0M309.2 143.1h0M316.8 143.1h0M274.7 146.9h0M282.3 146.9h0M290.0 146.9h0M297.7 146.9h0M305.3 146.9h0M313.0 146.9h0M320.7 146.9h0M278.5 150.7h0M286.2 150.7h0M293.8 150.7h0M301.5 150.7h0M309.2 150.7h0M316.8 150.7h0M282.3 154.5h0M290.0 154.5h0M297.7 154.5h0M305.3 154.5h0M313.0 154.5h0M320.7 154.5h0" stroke="#8866ee" stroke-width="2.50" stroke-linecap="round" fill="none"/>
<path transform="scale(0.25)" d="M126 185l349 0 0 23-3 6-8 7-24 0-6 3-12 16-5 4-72 1-6 2-17 21-8-2-14-17-8-4-47 1-9 9-2 6 0 64-1 7-6 7-12 8-12 16-6 3-24-1-7-6-8-11-7-6-25 0 0-157zM499 185l482 0 0 47 5 8 13 9 5 6 1 6-1 47-6 7-6 3-48 0-6 4-10 14-13 10-6 7 0 24-3 6-9 7-71 0-6 3-7 7-1 23 2 6 6 6 6 3 47 0 6 4 6 10 0 34 107 0 6 3 12 16 5 4 24 1 6 2 18 21 24 1 6 2 5 5 6 10 18 14 3 9 0 18-2 6-19 15-9 14-14 10-9 13-16 11-3 6 0 23-120 0-1-94-1-4-4-6-16-12-2-6 0-46-6-8-12-8-6-7 0-12-12-1-6-3-12-16-6-5-47 0-7-4-11-14-12-9-12-15-17-14-3-6 0-23-5-6-15-12-4-5 0-24-3-5-16-12-8-12-17-14-12-15-12-9-12-15-6-3-95 0-6 4-13 17-5 3-4-3-6-5-2-6 0-70zM843 224l-6 8-1 23 2 6 6 5 5 3 48 0 10-8 2-6-1-23-11-11-48 0-6 3zM1029 185l145 0 0 23-4 7-6 5-48 1-6 2-17 20-6 2-42 0-7-2-6-6-3-5 0-47zM1252 249l7-4 47 0 0 265-47 0-9-5-9-14-12-8-6-7-1-24 2-5 17-14 5-10 0-93 7-9 12-8 4-6 1-6 0-17-2-6-20-17-1-6 5-6zM126 464l0-2 24 0 10 8 2 6 0 23-6 7-6 4-24 0 0-46zM191 539l6-4 24-1 9 5 9 13 17 15 2 7 0 41 2 6 20 17 8 12 15 11 4 6 0 23-181 0 0-84 47 0 6-3 14-17 4-3 6-1 6 0 3 16 9 7 6-2 5-5 1-6-5-6-7-4-11-2-1-12-6-7-14-10-2-6 4-6z" fill="#cbcbcb"/>
<use href="#land" transform="translate(-110.000 133.510) scale(0.120417 -0.120300)" fill="#cbcbcb" stroke="#777" stroke-width="0.45"/>
<path d="M37.5 57.4L39.7 52.5M49.9 56.7L53.4 52.6M62.9 57.4L68.2 51.6M74.9 57.7L79.7 52.2M116.7 57.2L117.6 54.2M246.6 57.1L247.2 51.9M295.8 55.5L300.0 55.9M42.2 65.6L45.1 63.0M53.3 65.4L59.7 63.4M99.2 64.4L97.9 65.8M110.0 63.4L107.5 65.3M124.3 64.0L120.9 64.2M138.6 63.9L133.3 64.1M151.3 64.4L147.5 64.5M160.6 62.8L160.8 67.1M174.7 64.0L174.1 66.3M191.1 64.7L186.6 64.4M203.9 63.8L199.0 64.0M213.6 65.3L211.8 65.6M226.5 64.7L228.3 67.2M239.3 63.1L240.7 66.9M251.3 67.4L252.5 65.4M296.0 66.3L288.9 65.7M302.3 64.0L308.2 65.9M35.8 77.7L39.3 74.4M48.0 76.5L52.1 73.9M61.7 77.9L67.2 73.9M93.0 73.9L90.6 76.2M107.5 73.7L102.1 78.4M118.6 75.1L112.4 77.8M133.8 73.9L128.5 75.4M143.6 73.9L139.7 77.4M156.7 72.6L156.2 79.3M168.0 71.5L168.2 77.0M183.3 75.1L179.8 76.8M197.2 75.2L194.9 77.2M217.5 73.8L220.9 77.0M230.6 71.9L234.0 76.4M242.5 73.1L248.2 76.9M262.8 77.9L257.6 71.4M276.0 77.5L270.0 74.3M313.5 74.6L309.3 75.0M41.9 86.9L45.9 83.4M54.5 88.1L59.6 85.2M67.9 85.7L71.4 84.4M96.3 87.9L97.4 86.6M110.6 85.6L108.0 87.0M149.1 82.6L149.2 90.5M162.7 81.5L163.3 88.9M173.3 84.5L174.5 89.2M199.8 84.4L202.8 86.2M211.7 83.2L215.8 86.2M223.9 83.0L229.0 88.1M235.6 84.2L242.3 88.1M269.2 87.0L261.0 86.2M321.0 86.1L312.9 86.2M34.4 98.7L38.9 96.7M61.4 96.8L67.3 94.4M77.0 97.3L80.1 97.5M90.0 97.2L93.1 95.0M103.6 97.8L105.3 97.0M116.6 97.0L118.0 95.5M127.3 97.7L131.8 93.4M139.4 97.8L142.7 97.6M154.4 93.0L156.2 100.2M165.4 94.3L168.9 99.8M210.4 97.0L207.8 98.1M221.8 94.4L220.8 97.4M233.4 93.2L232.9 98.0M245.8 96.3L244.7 97.5M263.1 95.7L257.9 95.7M328.5 96.9L320.6 97.1M41.6 107.6L45.7 107.9M57.5 108.3L59.0 107.4M68.4 106.8L71.4 106.7M82.2 105.7L83.8 107.4M95.9 104.8L97.3 106.7M106.6 108.3L110.1 106.2M120.3 111.2L125.6 105.6M131.5 109.9L137.1 104.3M146.7 104.3L151.0 110.2M157.6 104.0L163.5 109.2M171.1 106.7L176.3 109.1M191.6 107.3L184.5 108.6M205.4 105.9L198.4 107.6M322.9 105.6L315.6 106.2M127.3 119.8L133.9 115.2M139.4 118.5L145.6 116.7M150.7 116.4L156.9 119.8M164.8 116.3L169.9 119.3M184.6 116.4L179.8 118.5M198.2 114.6L191.4 119.2M211.0 115.4L203.9 118.7M222.0 113.5L221.4 118.8M235.8 116.8L230.6 119.5M250.8 117.1L245.4 119.7M264.3 115.1L258.0 118.5M315.6 117.0L309.3 116.9M327.2 116.9L321.9 117.2M133.3 129.4L140.3 126.5M145.3 128.0L150.6 127.9M158.3 127.9L163.4 128.2M172.9 128.2L175.5 128.1M215.6 126.7L210.4 128.5M227.3 126.8L227.5 129.3M254.9 127.4L252.4 130.1M268.8 126.1L262.3 127.6M281.6 127.7L273.8 127.8M297.5 127.1L289.5 127.0M305.9 125.9L301.5 129.1M320.2 127.5L314.9 127.2M126.2 139.8L129.8 139.6M155.5 138.5L155.6 140.1M193.8 137.8L194.3 140.9M205.3 137.9L207.1 140.5M221.5 134.8L221.7 140.1M232.2 135.3L234.0 139.3M245.9 135.0L245.5 139.3M260.2 137.5L256.4 141.2M276.7 139.0L271.1 139.0M287.6 139.2L282.7 140.2M300.2 136.4L296.9 139.7M311.4 137.2L309.9 138.6M42.2 150.5L45.6 148.0M55.3 150.2L59.7 147.4M67.0 148.6L72.0 147.7M82.8 149.4L84.9 149.4M96.6 148.8L99.6 148.7M107.9 148.5L112.2 150.8M121.7 148.0L125.9 151.0M161.5 147.1L161.8 150.5M174.8 146.8L177.3 149.1M186.4 149.2L189.3 149.9M201.4 148.5L202.7 151.3M213.2 146.2L213.8 149.6M227.5 147.4L227.3 151.9M239.9 146.7L239.9 151.2M251.2 148.7L252.3 150.6M266.2 146.9L265.6 148.7M282.4 148.6L278.9 149.0M292.8 148.1L289.3 148.8M306.5 149.3L303.3 149.6M320.2 149.4L317.5 149.4M37.6 161.6L39.7 159.0M48.8 160.7L51.2 158.3M62.5 159.9L64.8 157.4M79.0 159.8L74.1 159.8M92.4 160.5L89.8 160.8M103.4 157.3L105.2 159.1M128.5 157.8L129.2 159.3M154.4 157.8L155.3 159.5M166.2 157.4L167.8 159.9M179.1 158.1L181.7 158.8M193.7 158.3L196.7 159.1M207.3 157.9L208.8 160.5M218.2 157.4L220.5 160.9M231.8 158.4L233.7 161.5M299.2 159.6L297.4 159.5M312.4 159.0L310.2 159.0M303.7 81.2L295.6 81.5M198.9 120.2L191.0 122.8" stroke="#000" stroke-width="1.7" stroke-linecap="round" fill="none"/><path d="M256.9 49.5L261.7 55.7M267.2 53.5L275.9 54.0M279.5 54.3L287.7 54.2M67.9 67.5L74.0 62.2M79.3 69.5L84.5 64.4M264.5 69.9L268.2 63.2M277.2 69.2L281.3 62.5M291.2 76.7L284.3 75.4M303.3 76.0L296.1 76.1M284.8 85.6L276.1 85.1M297.6 85.3L288.8 85.9M311.4 86.3L302.7 86.8M276.9 96.1L268.2 97.4M291.1 95.2L282.1 97.5M304.8 95.9L296.1 96.1M315.2 96.3L307.3 96.0M219.0 106.9L212.0 107.9M232.1 106.0L225.2 108.1M243.7 106.1L236.3 108.7M257.7 106.2L250.1 107.8M270.6 106.8L263.2 108.9M286.1 106.0L276.7 109.1M296.6 105.9L287.9 108.1M308.9 106.8L300.7 106.9M32.4 118.2L41.1 118.8M47.2 119.4L55.6 117.9M59.0 118.9L66.5 115.8M71.4 117.9L78.5 115.6M84.4 118.2L91.7 116.3M98.1 118.0L105.1 115.9M111.2 120.6L117.5 116.4M278.5 116.8L271.2 117.0M289.5 117.8L281.2 118.3M302.7 117.2L295.0 117.3M37.0 130.7L50.8 127.2M49.0 133.1L64.2 126.5M60.4 130.7L78.3 128.5M71.1 126.9L88.2 127.9M86.8 127.4L101.5 127.1M100.0 129.7L114.2 128.6M115.2 127.6L127.0 127.5M193.7 128.5L184.1 129.4M206.4 127.5L196.0 127.4M30.9 139.0L40.0 138.9M46.2 141.3L54.5 138.8M57.4 139.4L68.8 139.3M69.3 138.8L80.7 139.5M82.5 138.8L94.1 138.5M94.5 137.8L106.0 138.0M111.9 139.6L119.4 139.4M273.3 49.4L281.0 49.1M276.7 81.3L269.3 81.5M291.1 80.7L282.5 80.8M283.0 91.8L275.2 92.7M295.7 91.5L288.4 91.3M310.6 92.1L302.3 92.4M279.4 100.3L270.8 103.6M289.5 101.0L281.8 104.1M302.5 101.2L294.3 103.7M285.5 112.1L277.5 112.9M298.3 110.4L289.8 112.0M29.5 122.9L41.2 123.7M45.4 123.7L55.6 120.6M56.1 125.5L68.8 120.8M68.9 124.4L83.1 123.7M82.5 123.0L92.5 122.6M97.3 123.0L106.2 122.2M110.5 124.1L118.5 122.2M38.7 133.8L50.1 132.4M51.7 135.9L61.7 132.9M64.1 133.3L76.1 131.9M74.7 133.7L88.2 134.2M88.7 133.9L100.5 133.0M103.8 133.5L113.9 132.8M116.1 134.0L124.8 133.7M26.7 126.0L37.8 126.6M41.4 126.1L52.4 123.7M52.0 131.1L66.6 124.1M63.2 126.3L77.4 124.3M77.3 125.0L90.8 124.9M91.7 124.2L103.7 124.2M104.0 125.1L116.4 124.7M59.6 136.0L73.0 135.1M72.0 135.2L85.7 134.8M87.5 136.2L98.3 136.0" stroke="#000" stroke-width="2.0" stroke-linecap="round" fill="none"/><path d="M263.1 57.5L260.4 56.0L262.3 54.5ZM278.7 54.2L275.4 55.4L275.5 52.6ZM290.2 54.2L287.2 55.5L287.2 52.9ZM75.8 60.6L74.4 63.5L72.8 61.6ZM86.0 62.9L85.0 65.5L83.4 63.9ZM269.3 61.2L269.0 64.2L267.0 63.0ZM282.5 60.4L282.1 63.5L280.0 62.2ZM282.3 75.0L284.9 74.4L284.5 76.5ZM294.1 76.2L296.6 75.0L296.7 77.2ZM273.4 85.0L276.6 83.8L276.5 86.5ZM286.1 86.1L289.2 84.5L289.4 87.3ZM300.0 87.0L303.1 85.4L303.3 88.2ZM265.5 97.8L268.5 96.0L268.9 98.7ZM279.2 98.2L282.2 95.9L282.9 98.8ZM293.4 96.1L296.6 94.7L296.6 97.4ZM304.9 95.9L307.8 94.7L307.7 97.2ZM209.9 108.2L212.3 106.7L212.6 108.9ZM223.2 108.7L225.4 106.9L226.0 109.0ZM234.0 109.4L236.3 107.3L237.2 109.7ZM247.8 108.3L250.3 106.6L250.9 108.9ZM261.0 109.5L263.3 107.6L264.0 109.9ZM273.7 110.1L276.7 107.4L277.6 110.4ZM285.2 108.8L288.0 106.6L288.7 109.4ZM298.2 106.9L301.2 105.6L301.2 108.2ZM43.8 118.9L40.5 120.1L40.7 117.4ZM58.2 117.5L55.4 119.3L54.9 116.7ZM68.7 114.9L66.5 117.2L65.5 114.9ZM80.6 114.9L78.4 116.9L77.7 114.6ZM93.8 115.7L91.5 117.6L90.9 115.3ZM107.2 115.3L105.0 117.2L104.3 115.0ZM119.3 115.1L117.7 117.6L116.4 115.7ZM269.0 117.1L271.6 115.8L271.7 118.1ZM278.7 118.4L281.6 117.0L281.8 119.5ZM292.8 117.3L295.5 116.1L295.5 118.5ZM55.4 126.1L50.8 129.6L49.7 125.1ZM69.4 124.2L64.8 129.1L62.7 124.2ZM84.2 127.8L78.1 131.3L77.4 125.9ZM94.1 128.2L87.5 130.5L87.8 125.1ZM106.5 127.0L101.0 129.4L100.9 124.7ZM119.0 128.3L113.9 131.0L113.6 126.4ZM130.9 127.4L126.5 129.3L126.5 125.6ZM181.1 129.6L184.5 127.8L184.7 130.8ZM192.7 127.4L196.6 125.8L196.5 129.1ZM42.9 138.8L39.6 140.3L39.5 137.4ZM57.1 138.0L54.4 140.3L53.7 137.6ZM72.6 139.2L68.4 141.1L68.3 137.4ZM84.5 139.7L80.1 141.3L80.4 137.6ZM97.9 138.4L93.7 140.3L93.6 136.6ZM109.8 138.0L105.5 139.8L105.6 136.1ZM121.6 139.4L118.9 140.6L118.9 138.3ZM283.3 49.0L280.5 50.3L280.4 47.9ZM267.2 81.5L269.8 80.3L269.9 82.6ZM279.8 80.8L283.0 79.4L283.0 82.1ZM272.9 92.9L275.6 91.4L275.8 93.8ZM286.3 91.2L288.9 90.2L288.9 92.5ZM299.7 92.5L302.7 91.1L302.8 93.7ZM268.1 104.6L270.7 102.1L271.8 104.8ZM279.4 105.0L281.7 102.7L282.7 105.1ZM291.7 104.5L294.4 102.3L295.1 104.9ZM275.1 113.1L277.9 111.6L278.2 114.1ZM287.2 112.5L290.0 110.6L290.5 113.2ZM45.1 123.9L40.6 125.5L40.8 121.8ZM58.9 119.6L55.6 122.4L54.7 119.1ZM73.1 119.2L69.1 123.0L67.5 118.9ZM87.9 123.5L82.7 126.0L82.4 121.5ZM95.6 122.5L92.0 124.2L91.9 121.1ZM109.0 121.9L105.9 123.6L105.6 120.8ZM120.9 121.6L118.3 123.6L117.7 121.1ZM53.8 131.9L49.8 134.3L49.4 130.6ZM64.9 131.9L61.7 134.6L60.7 131.4ZM80.0 131.4L75.8 133.8L75.3 130.0ZM92.7 134.3L87.6 136.3L87.8 132.0ZM104.4 132.7L100.2 134.9L99.9 131.1ZM117.2 132.6L113.5 134.4L113.3 131.2ZM127.5 133.7L124.3 135.1L124.3 132.4ZM41.4 126.8L37.2 128.3L37.4 124.8ZM56.0 122.8L52.4 125.5L51.6 122.0ZM71.7 121.7L67.3 126.7L65.0 122.0ZM82.3 123.7L77.3 126.7L76.6 122.1ZM95.4 124.9L90.3 127.1L90.3 122.8ZM107.8 124.3L103.2 126.2L103.3 122.3ZM120.5 124.6L115.9 126.7L115.8 122.8ZM77.5 134.7L72.6 137.2L72.3 132.9ZM90.3 134.6L85.2 137.0L85.1 132.6ZM101.8 135.9L97.9 137.7L97.8 134.3Z" fill="#000" stroke="#000" stroke-width="0.6" stroke-linejoin="round"/><path d="M39.1 53.8L39.5 52.8M52.4 53.7L53.1 52.9M67.2 52.8L68.0 51.9M78.6 53.4L79.4 52.5M117.4 54.9L117.5 54.6M247.0 53.3L247.2 52.3M298.9 55.8L299.6 55.8M44.4 63.7L44.8 63.3M58.2 63.9L59.4 63.5M98.1 65.6L98.1 65.5M108.1 64.9L107.8 65.1M121.7 64.2L121.3 64.2M134.7 64.0L133.7 64.1M148.4 64.5L147.9 64.5M160.7 66.0L160.7 66.7M174.2 65.9L174.2 66.0M187.8 64.5L187.0 64.5M200.3 63.9L199.4 64.0M212.1 65.5L212.2 65.5M227.9 66.6L228.1 66.8M240.4 65.9L240.6 66.5M252.3 65.8L252.3 65.7M290.5 65.8L289.3 65.7M306.7 65.4L307.9 65.8M38.4 75.3L39.0 74.6M51.0 74.6L51.8 74.1M65.9 74.8L66.9 74.1M91.2 75.6L90.9 75.9M103.3 77.4L102.4 78.2M113.9 77.2L112.8 77.7M130.0 75.0L128.9 75.3M140.7 76.4L140.0 77.1M156.3 77.7L156.3 78.9M168.2 75.4L168.2 76.6M180.7 76.4L180.2 76.6M195.4 76.8L195.2 77.0M220.0 76.1L220.6 76.7M233.1 75.1L233.8 76.1M246.8 76.0L247.8 76.7M258.6 72.7L257.8 71.7M271.4 75.0L270.4 74.5M310.4 74.9L309.7 75.0M44.8 84.4L45.6 83.7M58.2 86.0L59.3 85.4M70.5 84.7L71.0 84.5M97.2 86.7L97.1 86.9M108.6 86.7L108.4 86.8M149.2 88.9L149.2 90.1M163.2 87.3L163.2 88.5M174.2 87.9L174.4 88.8M202.1 85.8L202.5 86.0M214.6 85.4L215.4 86.0M227.9 87.0L228.7 87.8M240.9 87.3L242.0 87.9M262.6 86.4L261.4 86.3M314.5 86.2L313.3 86.2M37.7 97.3L38.6 96.9M65.8 95.0L67.0 94.6M79.4 97.5L79.7 97.5M92.3 95.5L92.8 95.2M105.1 97.1L104.9 97.2M117.8 95.8L117.7 95.8M130.6 94.5L131.5 93.7M141.9 97.7L142.3 97.7M155.8 98.7L156.1 99.8M168.0 98.4L168.7 99.5M208.3 97.8L208.2 97.9M221.1 96.7L221.0 97.0M233.0 96.7L233.0 97.6M244.8 97.3L245.0 97.2M259.3 95.7L258.3 95.7M322.2 97.1L321.0 97.1M44.6 107.8L45.3 107.8M58.8 107.5L58.7 107.6M70.7 106.7L71.0 106.7M83.5 107.1L83.5 107.1M97.0 106.3L97.1 106.4M109.2 106.7L109.8 106.4M124.5 106.7L125.3 105.9M136.0 105.4L136.8 104.6M150.0 108.9L150.7 109.9M162.3 108.1L163.2 108.9M174.8 108.4L175.9 108.9M186.1 108.3L184.9 108.5M199.9 107.2L198.8 107.5M317.2 106.1L316.0 106.1M132.6 116.1L133.6 115.4M144.1 117.1L145.3 116.8M155.5 119.0L156.6 119.6M168.6 118.5L169.6 119.1M181.1 118.0L180.1 118.4M192.7 118.3L191.7 119.0M205.3 118.1L204.2 118.6M221.6 117.3L221.5 118.4M232.1 118.8L231.0 119.3M246.8 119.0L245.8 119.5M259.4 117.7L258.3 118.3M310.9 116.9L309.7 116.9M323.3 117.1L322.3 117.2M138.8 127.1L140.0 126.6M149.1 127.9L150.2 127.9M162.0 128.1L163.0 128.2M175.0 128.1L175.1 128.1M211.9 128.0L210.8 128.4M227.5 128.8L227.5 128.9M253.0 129.4L252.7 129.8M263.9 127.3L262.7 127.5M275.4 127.8L274.2 127.8M291.1 127.0L289.9 127.0M302.7 128.2L301.9 128.9M316.3 127.3L315.3 127.3M128.9 139.7L129.4 139.6M155.5 139.9L155.5 139.7M194.2 140.2L194.2 140.5M206.7 139.9L206.9 140.2M221.7 138.6L221.7 139.7M233.5 138.2L233.8 138.9M245.6 138.2L245.5 138.9M257.5 140.1L256.7 140.9M272.7 139.0L271.5 139.0M284.0 139.9L283.0 140.1M297.8 138.8L297.2 139.4M310.1 138.4L310.2 138.4M44.7 148.6L45.3 148.2M58.5 148.2L59.4 147.6M70.6 147.9L71.6 147.8M84.6 149.4L84.5 149.4M98.9 148.7L99.2 148.7M111.0 150.2L111.9 150.6M124.8 150.2L125.6 150.8M161.8 149.7L161.8 150.1M176.7 148.5L177.0 148.8M188.7 149.8L189.0 149.8M202.4 150.7L202.6 151.0M213.6 148.8L213.7 149.2M227.3 150.7L227.3 151.5M239.9 150.0L239.9 150.8M252.1 150.3L252.1 150.2M265.7 148.5L265.7 148.4M279.7 148.9L279.3 149.0M290.1 148.6L289.6 148.7M304.0 149.5L303.7 149.6M318.0 149.4L317.9 149.4M39.2 159.6L39.5 159.3M50.6 158.9L50.9 158.6M64.3 158.0L64.5 157.7M75.4 159.8L74.5 159.8M90.3 160.7L90.2 160.7M104.8 158.8L104.9 158.8M129.1 159.1L129.0 158.9M155.2 159.2L155.1 159.1M167.4 159.3L167.6 159.5M181.2 158.6L181.3 158.7M196.0 158.9L196.3 159.0M208.5 159.9L208.6 160.2M219.9 160.0L220.3 160.6M233.3 160.8L233.5 161.2M297.6 159.5L297.8 159.5M310.6 159.0L310.6 159.0M297.2 81.4L296.0 81.5M192.5 122.3L191.4 122.7" stroke="#000" stroke-width="2.8" stroke-linecap="round" fill="none"/>
</g>
<rect x="308.8" y="49.60" width="14.7" height="16.30" fill="#fff" stroke="#777" stroke-width="0.5"/>
<text x="316.2" y="56.10" text-anchor="middle" font-size="7.2">1</text>
<path d="M310.1 60.40H319.0" stroke="#000" stroke-width="1.5"/>
<path d="M322.0 60.40L318.0 58.70L318.0 62.10Z" fill="#000"/>
<text x="34.10" y="42.50" font-size="16.6">(a) MAM 850hPa uv &amp; SST</text>
<rect x="34.50" y="49.30" width="289.00" height="120.30" fill="none" stroke="#000" stroke-width="1.2"/>
<path d="M30.20 169.60H34.50M323.50 169.60H327.80M32.30 157.57H34.50M323.50 157.57H325.70M32.30 145.54H34.50M323.50 145.54H325.70M30.20 133.51H34.50M323.50 133.51H327.80M32.30 121.48H34.50M323.50 121.48H325.70M32.30 109.45H34.50M323.50 109.45H325.70M30.20 97.42H34.50M323.50 97.42H327.80M32.30 85.39H34.50M323.50 85.39H325.70M32.30 73.36H34.50M323.50 73.36H325.70M30.20 61.33H34.50M323.50 61.33H327.80M32.30 49.30H34.50M323.50 49.30H325.70M34.50 169.60V173.90M46.54 169.60V171.80M58.58 169.60V171.80M70.62 169.60V173.90M82.67 169.60V171.80M94.71 169.60V171.80M106.75 169.60V173.90M118.79 169.60V171.80M130.83 169.60V171.80M142.88 169.60V173.90M154.92 169.60V171.80M166.96 169.60V171.80M179.00 169.60V173.90M191.04 169.60V171.80M203.08 169.60V171.80M215.12 169.60V173.90M227.17 169.60V171.80M239.21 169.60V171.80M251.25 169.60V173.90M263.29 169.60V171.80M275.33 169.60V171.80M287.38 169.60V173.90M299.42 169.60V171.80M311.46 169.60V171.80M323.50 169.60V173.90" stroke="#000" stroke-width="1" fill="none"/>
<text x="22.90" y="65.83" text-anchor="end" font-size="12.4">60N</text>
<text x="22.90" y="101.92" text-anchor="end" font-size="12.4">30N</text>
<text x="22.90" y="138.01" text-anchor="end" font-size="12.4">0</text>
<text x="22.90" y="174.10" text-anchor="end" font-size="12.4">30S</text>
<text x="34.50" y="191.60" text-anchor="middle" font-size="12.4">120E</text>
<text x="70.62" y="191.60" text-anchor="middle" font-size="12.4">150E</text>
<text x="106.75" y="191.60" text-anchor="middle" font-size="12.4">180</text>
<text x="142.88" y="191.60" text-anchor="middle" font-size="12.4">150W</text>
<text x="179.00" y="191.60" text-anchor="middle" font-size="12.4">120W</text>
<text x="215.12" y="191.60" text-anchor="middle" font-size="12.4">90W</text>
<text x="251.25" y="191.60" text-anchor="middle" font-size="12.4">60W</text>
<text x="287.38" y="191.60" text-anchor="middle" font-size="12.4">30W</text>
<text x="323.50" y="191.60" text-anchor="middle" font-size="12.4">0</text>
<g clip-path="url(#cb)">
<rect x="34.5" y="233.3" width="289.00" height="120.30" fill="#ffffff"/>
<rect x="34.5" y="233.3" width="289.00" height="120.30" fill="#ffffff"/>
<g transform="scale(0.25)">
<path d="M256 921l474 0 0 23 3 24 3 5 13 19 33 34 10 17-2 23-2 70-4 16-8 19-20 17-31 12-18 0-53-5-30 2-41 7-24-3-13 5-4 6 17 6 24-4 53 5 24-1 47-5 48 3 28-4 11-6 2-5 6-3 4 8 11 6 9 0 23-14 18-1 6 0 30 10 24 10 8 6 5 12 16 6 5 5 4 12 3 3 12 4 5 5 4 11 11 12 10 16 17 11 6 8 1 6-5 11-14 12-11 35-7 11 0 23-301 0 0-23-10-11-26-21-6-2-24-1-24-10-23-14-48-8-6-8-3-24-9-23-6-5-35-1-30-5-39-12-28-17-51-19-36-10-22-12-20-5-23-1-6-2-4-4 0-5 8-6 14-4 29-2 30 5 47-8 24-9 42-6 29-10 24 0 24-8 23-3 18-13 6-13 6-4 18-5 7-7-1-24-10-11-10-18-10-9-24 11-94 0-30 4-65 0-24 4-30-1-47 10-24-3-14-10-2-6 0-17 4-6 12-7 48-4 8-6 3-6 0-70zM949 921l135 0 0 23-3 9-6 7-12 4-24 3-6 4-13 20-5 16-11 11-12 4-12-7-12-3-3-4-7-23-8-17-1-47zM1164 1345l18-4 11 0 18 6 4 4 1 6-11 7-18 4-29-11-2-6 8-6zM1253 1374l6-3 4 3 2 6-6 6-8-6 2-6z" fill="#f2d8a8"/>
<path d="M266 921l461 0 0 23 6 29 16 23 34 36 6 11-3 93-8 21-23 21-24 11-48 4-29-2-71 8-24-1-18 5-5 3-3 6 11 5 15 5 24-5 23 3 48 1 53-5 48 2 47-6 24 3 14-3 9-6 24-4 36 12 15 9 11 12 19 11 7 12 7 7 12 7 27 38 19 12 5 6 0 6-4 8-17 15-8 29-4 8-9 9 0 23-249 0 0-23-9-10-6-3-18 0-13-10-34-19-34-4-14-12-12-7-17-3-48-4-2-3-4-24-10-23-8-7-29-1-30-6-25-9-16-15-18-4-48-18-31-9-27-18-13-3-30-3-2-5 8-2 42 2 24-2 29-6 24-10 24-5 24-2 23-10 24 0 47-12 12-6 24-21 18-9 8-10-3-24-12-11-13-23-10-7-24 11-47-2-77 5-65-2-24 7-36 1-41 5-24-2-7-5-1-6 4-11 4-5 48-9 18-15 3-6 0-70zM677 1332l-5 2 5 2 8-2-8-2zM952 921l126 0 0 23-3 7-12 8-32 9-7 5-9 16-17 18-6 3-18-3-6-1-2-4-12-34-2-47zM1181 1351l9 0 2 6-5 1-7-1 1-6z" fill="#e0b47c"/>
<path d="M298 921l425 0 0 23 4 24 3 5 15 24 33 33 9 13-4 93-5 14-35 25-18 7-42 6-29 0-107 8-15 4-6 6-1 6 10 7 24 6 24-4 23 2 48 0 53-5 48 3 47-6 24 3 17-2 30-9 30 9 13 7 13 12 21 14 18 20 9 6 27 35 17 11 7 7 0 6-2 5-21 18-4 23-3 7-17 16 0 23-193 0 0-23-4-3-6-3-23-6-13-11-11-7-30-2-28-14-1-6 38-17-9-6-24-3-23 4-71-3-12-2-12-6-24-1-2-13-11-23-11-10-23 0-30-6-15-7-3-9-6-8-6-6-10-6-25-1-24-6-32-10-6-6 0-18 3-1 35-14 24-5 24-1 9-8 14-5 36-2 35-10 60-38 9-14-4-24-4-5-13-9-12-23-12-7-24 11-23-3-24 0-24 3-53 1-48-5-17 0-6 1-12 7-12 4-24 0-47 3-24-1 0-7 6-2 24-2 18-4 10-14 28-23 11-23 4-24 0-23zM956 921l116 0 0 23-4 6-10 6-35 12-31 31-18 2-6-1-10-32-2-47z" fill="#f0c040"/>
<path d="M312 921l407 0 0 23 4 24 20 31 16 15 9 12 10 8 6 9-2 70-2 23-2 7-6 5-17 6-24 18-18 6-36 6-148 7-6 3-5 6-2 12 1 4 9 7 33 6 24-4 23 1 101-5 48 2 47-4 41 3 6-1 24-9 25 5 11 6 40 29 25 26 30 36 17 10 4 4 1 6-5 6-16 11-5 6-3 23-4 6-13 8-7 9 0 23-113 0 0-23-9-6-25-6-24-1-24-5-11-5-18-15-18-4-24-1-10-3 2-6 26-7 8-5 5-5-15-6-34-5-35 1-48-6-23 0-24-14-24-1-12-23-12-11-29-1-18-5-13-5 0-23-3-6-8-6-23-7-48-2-9-2-5-6 0-18 8-4 30-4 24-1 6-2 5-5 4-7 8-6 48-1 32-10 15-14 17-4 7-4 21-19 10-17-13-33-6-5-12-5-9-21-15-8-24 12-29-3-18 0-24 3-47 0-54-9-29 2-18 6-18 0-6-2-3-7 3-6 30-11 6-5 3-7 4-23 1-47zM960 921l107 0 0 23-10 8-42 16-23 20-18 6-6-1-6-25-2-47z" fill="#ffe000"/>
<path d="M394 921l322 0 0 29 2 18 2 5 11 13 12 20 12 7 11 18 12 7 3 5-2 70-2 23-5 5-17 2-18 17-17 11-25 7-18 3-23 0-24 3-47-1-24 3-12-3 2-24 42-40 5-6 2-6 4-17-10-12-9-26-6-5-18-5-3-16-3-6-18-14-2 8-6 6-16 7-23-4-24 0-24 4-23 0-53-7-7-6 5-6 12-6 19-4 8-7-5-23-2-47zM624 1088l-4 2 10 2 14-2-8-3-12 1zM964 921l97 0 0 23-16 10-41 12-12 9-18 4-6-4-1-7-3-24 0-23zM507 1159l4-1 7 1 3 6-10 9-10-9 6-6zM484 1200l4-2 6 4 4 10-10 10-6-4-6-6 2-6 6-6zM873 1217l24 4 40 25 36 35 8 12 11 9 10 14 21 12 0 6-2 2-6 6-11 5-9 10-1 17-2 7-12 2-12 7-95 0-24-6-23-11-24-6-24-1-11-9-3-6 0-17-15-6-60-9-35 1-48-10-23 0-18-8-30-3-12-23-12-10-23 0-29-8 5-13 6-5 18-3 23 0 24-6 24 1 24-3 23 0 101-5 48 1 47-3 30 3 17 4 12-7 12-5z" fill="#ffc000"/>
<path d="M401 921l311 0 0 35 3 17 4 8 11 10 7 18 18 11 2 12 3 3 12 5 5 3 1 36-6 45-17 5-15 19-20 17-19 8-24 4-47 3-24-3-23 0-12-4-7-8 1-6 3-6 9-7 20-10 9-9 8-20 4-5 36-8 6-4 0-24-6-2-6 11-6 3-36 7-12-16-11-32-14-5-3-6-7-21-12-14-1-23-11-6-2 6-1 29-5 17-6 6-10 4-29-5-18 0-30 5-23 0-21-4-5-6 30-17 3-6-13-24-4-23 0-23zM968 921l87 0 0 23-16 9-47 8-6-1-12-4-4-6-2-6 0-23zM870 1223l3-1 24 3 35 21 37 35 7 12 16 15 6 9 6 4 16 7 1 6-6 4-11 4-12 8-71 0-10 18-14 6-48 0-6-2-26-15-27-10-6-5-6-12-6-3-47-6-24-5-47 0-42-11-29-2-48-9-9-19-9-8-6-3-23 0-21-6 9-10 12-5 23 0 24-7 24 0 24-4 23 1 29-4 72-2 48 1 47-3 24 2 23 8 21-12z" fill="#ffa800"/>
<path d="M407 921l129 0 0 23-6 12-2 35-6 23-11 8-8-2-15-8-6-1-18 0-17 9-7 1-23 1-11-2-5-6 21-14 4-9-4-12-10-17-4-12-1-29zM565 921l37 0 0 70 4 4 8-4 0-70 94 0 2 58 3 8 12 7 0 10-30 20-12 4-6 5-2 10 2 3 30 8 48 2 17 5 1 5-1 9-15 26-4 12-8 11-4 12-10 11-21 18-27 8-53 3-24-5-23-1-9-5-1-6 10-9 23-6 6-5 8-26 4-4 6-4 24-3 9-7 5-5 0-24-2-7-6-5-6 1-12 13-12 7-18 2-6-1-3-4-6-11-8-24-16-17-2-6-6-23 0-70zM701 1082l-3 8 3 1 6 1 9-2-9-11-6 3zM992 921l58 0 0 23-11 6-24 2-12-2-11-6 0-23zM797 1229l29 1 23 7 9-2 15-8 24 1 30 18 15 12 23 23 9 17 23 24 20 6 0 6-2 1-11 2-12 5-71 0-18 20-6 4-48 0-11-6-12-10-30-10-11-12-13-6-41-4-30-6-47 0-24-8-47-5-42-8-6-2-10-19-8-6-6-2-23 0-13-4 13-9 23 0 24-8 24 0 24-5 23 0 24-5 167-2z" fill="#ff8c00"/>
<path d="M414 921l105 0 0 23 4 18 0 29-7 23-5 4-6-2-17-16-6-1-18 0-6 2-6 3-6 10-6 3-18-1-7-2 13-6 5-6 2-11-5-23-13-16-3-8 0-23zM578 921l12 0 0 70 4 8 12 3 15-5 5-6 0-70 76 0-1 40-28 41-13 41-9 6-15 16-6 4-18 0-6-1-14-36-10-12-3-6-1-23 0-70zM1009 921l34 0 0 23-4 2-18 1-12-3 0-23zM676 1066l1-3 6-2 9 5-6 24 3 2 12 6 24 2 8 7 3 6-4 23-5 6-20 19-7 4-23 5-47 1-24-7-17 0-6-3 0-2 23-3 16-14 4-6 1-17 3-7 24-2 12-9 10-11 0-24zM624 1235l12-2 184-1 29 7 12-2 12-5 24 0 12 8 12 5 17 13 23 23 4 12 8 11 7 15 6 5 13 4-3 6-4 0-71 0-24 24-48 0-10-7-13-13-24-4-12-9-12-6-47-4-30-7-47-1-24-7-83-12-12-4-6-14-12-9-6-2-28-1 5-3 23 0 24-9 24 0 24-6 23 0 18-5z" fill="#ff7400"/>
<path d="M429 921l52 0 0 23 5 6 25 1 7 17 1 23-8 20-23-23-12-6-8-14-4-4-24-6-11-14 0-23zM627 1002l3-1 6 0 10 7 4 12 0 17-2 6-18 17-18 0-6-3-8-25-6-12 0-6 8-4 27-8zM675 1101l2-2 6-1 29 9 7 4 2 2 1 6 0 17-22 23-13 6-10 2-41 1-14-3-6-6 18-17 8-14 18-12 15-15zM622 1241l14-5 18-1 166 0 29 6 24-4 24 0 6 4 18 7 6 4 30 29 0 18-1 3-6 5-29 11-6 16-18 17-24-3-24 0-23-20-24-3-12-8-12-3-47-3-30-7-41-1-30-7-71-9-18-6-6-6-6-11-12-6 18-7 24 0 24-7 23 0 16-3z" fill="#ff5c00"/>
<path d="M451 921l18 0 0 23-5 7-13-7 0-23zM482 968l6-5 23 1 3 9 0 18-3 8-11-17-15-9-3-5zM612 1014l18-2 6 4 2 4 0 17-2 6-6 4-18 0-6-3-4-24 4-4 6-2zM675 1113l8-5 26 5 1 23-22 23-11 4-41-1-8-3 14-8 4-3 5-12 24-23zM639 1241l21-3 160 0 29 5 48 0 12 5 12 3 6 4 11 14 16 12-1 6-3 7-6 5-31 5-3 6 2 18-3 6-12 11-12-3-12-5-24-1-17-12-39-14-62-3-24-6-41-2-30-6-30-3-23-6-24-1-6-2-6-11-12-6-6-6 6-2 24 0 24-8 29-1 27-6z" fill="#ff4000"/>
<path d="M675 1124l8-3 6 3 6 6 2 6-14 16-6 3-11-7-3-6 0-6 12-12zM636 1246l12-4 12-1 166 0 47 8 24 0 24 5 5 4 6 12 12 6 6 5-2 6-4 5-23 2-24 6-24 0-4 4-8 13-12 7-29-10-18-10-6-1-24-3-41 0-18-3-36-1-35-7-36-2-12-4-23-13-6-12 18-6 35-1 12-2 6-3zM887 1316l10-4 6 9 2 7-2 6-6 5-14-5-4-6 8-12z" fill="#ee3a10"/>
<path d="M676 1136l1-2 8 2-8 5-1-5zM645 1246l15-3 166 1 35 5 12 6 48 2 2 1 1 12 4 5 18 6-2 4-71 3-9 11-15 12-23-2-21-10-33-11-41 0-18 3-30 1-29-7-42-2-11-2-6-11-12-7-5-5 5-2 47-1 15-9zM893 1328l4-3 2 3-2 4-4-4z" fill="#dd3018"/>
<path d="M655 1246l165 0 29 3 12 3 9 6 0 23-15 18-6 4-6 0-17-3-12-5-18-5-18-10-6 0-41 0-24 8-30-1-35-11-6-6-3-12 9-6 13-6z" fill="#cc2a20"/>
<path d="M647 1252l13-3 160 0 29 2 16 7-1 23-15 15-11-2-18-7-18-2-18-8-12-2-41 0-30 9-24-1-31-13-7-12 8-6z" fill="#b82028"/>
<path d="M654 1252l172-1 23 2 11 5-2 23-9 9-11-3-12-8-24-1-24-8-47 0-30 8-18 0-29-9-6-5-4-6 10-6z" fill="#c83840"/>
<path d="M649 1258l11-4 166 0 23 1 7 3-4 23-3 3-6-2-7-7-10-4-24-1-30-5-41 0-30 5-18 0-23-4-6-2-5-6z" fill="#d45560"/>
<path d="M653 1258l24-1 174 1-2 8-6 1-17-5-54-2-89 2-23-1-7-3z" fill="#e27080"/>
<path d="M737 921l204 0 1 47 13 23 1 6-3 11-9 6-9 18-14 6-12 19-34 9-4 6-5 18 0 46 7 8 7-8 4-17 7-11 6-5 9 10 8 23 1 25 6 8 11 6 5 8 0 5-3 6-6 6-7 3-30-8-18-9-24-4-11 4-12 9-13-12-20-12-3-6 0-6 4-23 1-70 4-23-6-11-9-13-35-35-8-11-2-5-2-18 0-29zM1175 921l131 0 0 44-71 0-42-6-11-6-7-9 0-23zM1039 979l6-1 4 1 6 6 3 6-1 6-3 5-9 7-7-1-8-11 0-6 9-12zM1281 991l25-1 0 90-24 0-23-4-11-10-5-11-2-18 6-18 9-11 25-17zM126 1002l0-2 24 0 6 3 5 5 3 6 5 29 14 12 14 8 24 6 16-8 31-11 54 0 23 3 72-8 94 0 24-11 6 6 14 26-4 12-4 4-12 4-4 4-7 23-7 6-6 5-23 2-24 7-30 2-41 12-24 3-24 7-29 1-24 6-43-16-28-26-18 0-30 9-4 5-7 12-6 5-6 2-24 0 0-153zM339 1086l-3 4 3 1 8-1-2-3-6-1zM126 1183l0-5 24 0 13 10 28 9 21 15 9 2 24-7 35 9 50 19 38 11 10 6 15 13 24 6 23 8 71 2 8 23 2 24 2 6 4 5 8 5 18 5 36 15 19 10 6 6-22 23 0 23-435 0 0-139-1-6-6-6-24 0 0-92zM363 1366l-12 14 6 9 6 4 6-1 12-12 0-6-4-6-8-5-6 3zM440 1290l-7 14 1 8 6 10 24 0 18 13 6 2 3-3 2-6-5-12-7-6-5-11-6-6-6-3-24 0zM1282 1194l24 0 0 120-47 0-12 6-12 3-48 2-29-2-24-9-18 0-29 10-6 4-4 6-2 17 2 6 4 2 6 2 34 2 19 8 24 5 6 4 6 9 11 7 7 7 0 23-181 0 2-47 6-7 12-7 4-8 1-12 0-17-2-6-4-6-17-8-3-4-2-12-7-11 7-28 5-10 6-6 30-17 12-3 18-1 101 0 17 4 12 6 18-5 41-19 12-8zM615 1206l15-3 24-2 21 5 2 6-23 3-24 0-22-3 7-6z" fill="#b2e4e2"/>
<path d="M740 921l197 0 0 47 16 23-2 11-12 12-7 12-16 11-7 12-6 6-6 2-24 0-5 4-4 5-5 24 0 46 2 6 5 6 7 3 6-3 5-6 7-16 6-9 9 19 1 23 2 6 4 6 16 12 0 5-5 6-3 2-24-4-10-4-14-10-18-3-12 0-17 7-12-8-12-3-7-6-1-6 2-23 1-70 7-23-20-29-19-17-21-24-3-5-1-47zM1189 921l117 0 0 40-71 0-30-7-9-4-7-6 0-23zM1035 991l4-5 6 0 5 5-1 6-4 4-6 1-3-5-1-6zM1281 1002l25 0 0 69-24 0-15-5-8-4-9-13-2-6 1-6 5-11 11-12 16-12zM126 1008l25 0 6 6 2 6 2 23 4 6 27 17 0 47-7 6-18 9-10 14-7 6-24 0 0-140zM535 1037l5 6 11 23-4 8-12 8-8 8-8 23-8 7-23 1-24 8-24 1-12 2-35 11-24 2-24 8-29 1-18 4-6 0-11-5-19-8-11-9-18-17-12-18-6-5-5-6 17-11 8-13 21-10 12-4 54 1 23 4 24-5 53-5 89 1 24-11zM339 1079l-10 11 10 5 6-1 6-4-6-11-6 0zM126 1194l0-2 24 0 29 10 18 10 24 6 24-5 29 4 41 18 48 14 12 7 18 16 24 3 14 6-5 23 0 6 6 18 8 8 24 1 24 7 6-4 5-6 1-6-6-24 6-10 11-5 5 15 2 30 5 8 6 4 16 5 19 12 25 8 11 9-17 16-49 1-5 6 0 23-156 0 0-23 22-23 2-6 0-17-4-7-24-2-6 3-26 29 0 46-173 0-1-145-13-13-24 0 0-74zM464 1372l-3 2 0 6 3 1 24 0 23 3 5-4-5-8-47 0zM630 1206l30 0 4 6-10 1-32-1 8-6zM1068 1223l25-2 65 0 24 2 11 4 18 13 11 6 7 13 18 12 5 10 0 23-5 6-6 4-12 3-42 2-23-2-12-5-12-10-12-6-6-6-4-9-8-2-3 2-9 23-29 19-24 8-12-19-18-8-1-23 7-15 6-8 12-10 8-13 10-8 11-4zM1099 1374l11-5 6 0 10 5 5 6 0 46-60 0 0-23 4-10 6-5 12-7 6-7z" fill="#a4d8e6"/>
<path d="M743 921l190 0 0 47 3 5 11 12 4 6-1 7-23 28-12 7-12 16-6 4-12-1-12-5-12 6-7 13-2 24 0 46 3 14 6 5 6 2 6 1 12-3 6-7 6-17 2 5 3 35 7 8 12 4 0 6-24-1-6-5-6-11-12-5-24-1-23 2-24-4-3-5 1-93 2-7 6-4 6-12-4-6-8-4-18-24-12-9-25-27-3-5-1-47zM1203 921l103 0 0 36-71 0-12-2-20-11 0-23zM126 1014l24 0 3 6 1 23 4 12 4 3 18 8 0 47-18 8-4 3-4 12-4 5-24 0 0-127zM1280 1014l2-2 24 0 0 43-24 0-23-7-3-5 3-9 11-7 10-13zM530 1043l5-2 2 2 10 23-4 6-14 10-6 8-9 23-3 2-23 1-24 9-24 1-23 3-24 10-24 1-24 9-29 1-18 3-6 0-11-5-19-12-22-23-6-23 8-12 3-12 11-8 12-4 48 2 29 6 24-6 65-7 54 0 23 2 12-3 7-5zM339 1072l-17 18 17 8 6 0 10-8-9-18-7 0zM126 1206l0-2 24 0 23 2 23 11 25 5 24-4 23 1 12 4 23 12 42 12 18 7 7 4 11 12 12 9 26 2 1 6-1 23 3 24 6 9 12 5 48 3 12-4 5-7 2-6-1-24 1-6 4-3 3 33 3 12 6 4 19 7 5 9 6 4 30 5 5 5-5 4-48 0-5-4-5-12-8-6-6-2-47 0-7 3-8 5-3 6 2 6 16 6 24 0 17 6 8 5 4 6 0 23-132 0 0-23 22-23 2-6-1-23-3-7-12-7-24-1-12 4-5 5-6 12-12 7-6 6-3 10 0 46-154 0-1-145-20-20-24 0 0-55zM1072 1229l21-3 65 0 29 6 5 3 6 11 13 7 5 5 5 12 14 7 4 4 1 23-10 6-19 4-24 0-22-4-11-6-8-9-21-20-9-4-6 0-21 10-8 10-6 13-6 6-6 3-18-1-15-8 19-34 7-18 3-17 13-6zM1107 1380l3-3 6 0 3 3 0 46-36 0 0-23 4-4 13-7 7-12z" fill="#98d0ea"/>
<path d="M746 921l183 0 0 47 6 11 9 6 4 6 0 6-4 5-10 6-7 12-17 12-7 11-6 6-17-6-3-6 0-40-5-6-10 6-3 11-14 24-7 5-12 5-8-10-16-6-12-18-17-11-8-12-16-14-2-3-1-47zM1215 921l91 0 0 32-71 0-6-1-14-8 0-23zM532 1049l3-2 8 19-20 18-12 25-23 2-24 10-47 3-30 9-18 0-24 12-47 3-6-1-18-11-23-23-2-47 8-5 11-5 48 3 8 2 13 5-21 19-18 1-8 4 8 3 18 0 18 7 11 2 10-7 4-5-3-12-8-12 13-5 79-9 48 0 23 2 21-5zM126 1217l0-2 47 0 18 7 24 3 47-2 12 1 24 13 47 14 17 7 23 23 0 6-4 7-17 10-7 14-16 10-11 17-8 4-24 0-6 3-3 5-8 35-6 11 0 23-43 0 0-23-5-46 4-29-7-24-3-2-19-3-11-6-9-12-9-5-23-23-24 0 0-36zM1077 1235l16-3 65 0 16 3 0 23 2 3 17 14 8 12 15 12 5 5-16 4-18 0-11-3-3-1-28-29-11-8-18-5-23 3-9-1-7-6 0-23zM412 1386l5-3 17 0 29 9 25 0 6 2 12 9 0 23-110 0 0-23 16-17z" fill="#88b8f0"/>
<path d="M749 921l176 0 1 52 6 12 12 4 1 8-14 5-10 19-13 5-5 6-6 13-7-2-3-6 0-40-2-6-10-6-14 0-12 3-11 7-22 19-14 4-8-16-4-3-12-2-5-6-5-12-13-6-5-5-1-47zM1224 921l82 0 0 28-71 0-11-5 0-23zM434 1055l54-1 23 4 24-2 4 10-17 12-11 21-23 6-24 12-42 1-35 5-18 0-6 3-9 10-9 4-47 3-6-1-8-6-23-23 0-23-5-9-3-15 15-8 48 4 11 4-11 10-24 6-12 8 6 5 6 3 24 1 18 5 11 1 12-4 4-6 1-11-4-18 20-5 56-6zM126 1229l0-5 47 0 18 4 30 2 47-4 9 3 21 12 54 17 23 23-2 6-14 12-37 39-6 2-24 1-10 10-8 17-6 6-9 6-9 9-5-1-8-31 3-12 8-11-1-6-8-9-6-15-6-6-18-8-12-10-24-13-18-21-5-2-24 0 0-15zM410 1397l7-4 23 0 24 4 24 0 9 6 0 23-92 0 0-23 5-6z" fill="#78a4f2"/>
<path d="M755 921l166 0 0 93-24 0 0-35-36-3-7-3-5-4-6-1-88 0 0-47zM1235 921l71 0 0 23-71 0 0-23zM267 1061l7-2 43 7-25 10-18 11-6 1-6-8-5-14 10-5zM415 1061l25-4 48 0 35 5 9 4-9 4-6 6-6 14-23 8-24 15-95 0-6 2-21 21-44 1-6-3-21-21 3-8 42 0 29 4 18 0 6-2-1-41 25-4 22-1zM175 1235l70-1 23-5 6 2 18 12 50 15 9 12 14 11-22 23-27 26-42 2-29-19-4-9-2-11-6-4-12-2-15-12-31-17 0-23zM417 1403l65 0 0 23-65 0 0-23z" fill="#6a92f0"/>
<path d="M865 921l16 0 0 47-8 4-8-4 0-47zM431 1061l57-2 30 7-23 24-31 16-24 1-12-3-11-5-10-9-8-12-12-8-4-4 34-2 14-3zM261 1066l7-4 6 0 27 4-27 14-6 0-7-14zM288 1113l16-2 43 2-2 6-6 3-41 0-6-3-4-6zM261 1235l7-2 6 2 12 10 41 13 7 11 16 12-5 6-11 8-12 16-12 8-18 4-18-6-20-13-1-23-3-7-5-8-24 6-6-5-18-5-7-4 7-7 48-1 16-15z" fill="#5e86ee"/>
<path d="M265 1066l9-2 13 2-13 8-6-1-3-7zM421 1066l19-4 48 0 17 4-24 24-17 9-18 1-12-2-13-8 0-24zM263 1246l5-4 12 6 33 10 0 46-5 6-10 5-6 1-11-6-17-17-12-35 11-12z" fill="#5278ea"/>
<path d="M273 1066l2 0-2 0zM433 1066l7-1 52 1-4 5-13 7-6 12-5 3-6 0-18 0-7-3 0-24zM264 1258l4-4 6-1 27 5 0 46-3 3-6 1-4-4-7-11-13-9-4-26z" fill="#4a6ae8"/>
</g>
<path d="M102.1 234.3h0M109.7 234.3h0M117.4 234.3h0M98.2 238.1h0M105.9 238.1h0M113.6 238.1h0M102.1 241.9h0M109.7 241.9h0M117.4 241.9h0M98.2 245.7h0M105.9 245.7h0M113.6 245.7h0M167.3 245.7h0M102.1 249.5h0M109.7 249.5h0M117.4 249.5h0M163.4 249.5h0M171.1 249.5h0M98.2 253.3h0M105.9 253.3h0M113.6 253.3h0M159.6 253.3h0M167.3 253.3h0M174.9 253.3h0M102.1 257.1h0M109.7 257.1h0M117.4 257.1h0M155.8 257.1h0M163.4 257.1h0M171.1 257.1h0M178.8 257.1h0M98.2 260.9h0M105.9 260.9h0M113.6 260.9h0M121.3 260.9h0M128.9 260.9h0M151.9 260.9h0M159.6 260.9h0M167.3 260.9h0M174.9 260.9h0M102.1 264.7h0M109.7 264.7h0M117.4 264.7h0M125.1 264.7h0M148.1 264.7h0M155.8 264.7h0M163.4 264.7h0M171.1 264.7h0M178.8 264.7h0M98.2 268.5h0M105.9 268.5h0M113.6 268.5h0M121.3 268.5h0M128.9 268.5h0M144.3 268.5h0M151.9 268.5h0M159.6 268.5h0M167.3 268.5h0M174.9 268.5h0M102.1 272.3h0M109.7 272.3h0M117.4 272.3h0M132.8 272.3h0M140.4 272.3h0M148.1 272.3h0M155.8 272.3h0M163.4 272.3h0M171.1 272.3h0M178.8 272.3h0M98.2 276.1h0M105.9 276.1h0M113.6 276.1h0M136.6 276.1h0M144.3 276.1h0M151.9 276.1h0M159.6 276.1h0M167.3 276.1h0M174.9 276.1h0M94.4 279.9h0M102.1 279.9h0M109.7 279.9h0M117.4 279.9h0M132.8 279.9h0M140.4 279.9h0M148.1 279.9h0M155.8 279.9h0M163.4 279.9h0M171.1 279.9h0M178.8 279.9h0M75.2 283.7h0M82.9 283.7h0M90.6 283.7h0M98.2 283.7h0M105.9 283.7h0M113.6 283.7h0M121.3 283.7h0M128.9 283.7h0M136.6 283.7h0M144.3 283.7h0M151.9 283.7h0M159.6 283.7h0M167.3 283.7h0M174.9 283.7h0M221.0 283.7h0M71.4 287.5h0M79.1 287.5h0M86.7 287.5h0M94.4 287.5h0M102.1 287.5h0M109.7 287.5h0M117.4 287.5h0M125.1 287.5h0M132.8 287.5h0M140.4 287.5h0M148.1 287.5h0M155.8 287.5h0M163.4 287.5h0M171.1 287.5h0M178.8 287.5h0M217.1 287.5h0M224.8 287.5h0M75.2 291.3h0M82.9 291.3h0M90.6 291.3h0M98.2 291.3h0M105.9 291.3h0M113.6 291.3h0M121.3 291.3h0M128.9 291.3h0M136.6 291.3h0M144.3 291.3h0M151.9 291.3h0M159.6 291.3h0M167.3 291.3h0M174.9 291.3h0M221.0 291.3h0M228.6 291.3h0M86.7 295.1h0M94.4 295.1h0M102.1 295.1h0M109.7 295.1h0M117.4 295.1h0M125.1 295.1h0M132.8 295.1h0M140.4 295.1h0M148.1 295.1h0M155.8 295.1h0M163.4 295.1h0M171.1 295.1h0M178.8 295.1h0M217.1 295.1h0M224.8 295.1h0M232.5 295.1h0M240.1 295.1h0M247.8 295.1h0M255.5 295.1h0M263.1 295.1h0M270.8 295.1h0M278.5 295.1h0M286.2 295.1h0M293.8 295.1h0M82.9 298.9h0M90.6 298.9h0M98.2 298.9h0M105.9 298.9h0M113.6 298.9h0M121.3 298.9h0M128.9 298.9h0M136.6 298.9h0M144.3 298.9h0M151.9 298.9h0M159.6 298.9h0M167.3 298.9h0M174.9 298.9h0M221.0 298.9h0M228.6 298.9h0M236.3 298.9h0M244.0 298.9h0M251.6 298.9h0M259.3 298.9h0M267.0 298.9h0M274.7 298.9h0M282.3 298.9h0M290.0 298.9h0M297.7 298.9h0M86.7 302.7h0M94.4 302.7h0M102.1 302.7h0M109.7 302.7h0M117.4 302.7h0M125.1 302.7h0M132.8 302.7h0M140.4 302.7h0M148.1 302.7h0M155.8 302.7h0M163.4 302.7h0M171.1 302.7h0M178.8 302.7h0M217.1 302.7h0M224.8 302.7h0M232.5 302.7h0M240.1 302.7h0M247.8 302.7h0M255.5 302.7h0M263.1 302.7h0M270.8 302.7h0M278.5 302.7h0M286.2 302.7h0M293.8 302.7h0M301.5 302.7h0M36.9 306.5h0M44.6 306.5h0M52.2 306.5h0M59.9 306.5h0M67.6 306.5h0M75.2 306.5h0M128.9 306.5h0M136.6 306.5h0M144.3 306.5h0M151.9 306.5h0M159.6 306.5h0M167.3 306.5h0M174.9 306.5h0M182.6 306.5h0M190.3 306.5h0M198.0 306.5h0M205.6 306.5h0M213.3 306.5h0M251.6 306.5h0M259.3 306.5h0M267.0 306.5h0M274.7 306.5h0M282.3 306.5h0M290.0 306.5h0M297.7 306.5h0M305.3 306.5h0M40.7 310.3h0M48.4 310.3h0M56.1 310.3h0M63.7 310.3h0M71.4 310.3h0M79.1 310.3h0M132.8 310.3h0M140.4 310.3h0M148.1 310.3h0M155.8 310.3h0M163.4 310.3h0M171.1 310.3h0M178.8 310.3h0M186.4 310.3h0M194.1 310.3h0M201.8 310.3h0M209.5 310.3h0M255.5 310.3h0M263.1 310.3h0M270.8 310.3h0M278.5 310.3h0M286.2 310.3h0M293.8 310.3h0M301.5 310.3h0M309.2 310.3h0M36.9 314.1h0M44.6 314.1h0M52.2 314.1h0M59.9 314.1h0M67.6 314.1h0M75.2 314.1h0M82.9 314.1h0M136.6 314.1h0M144.3 314.1h0M151.9 314.1h0M159.6 314.1h0M167.3 314.1h0M174.9 314.1h0M182.6 314.1h0M190.3 314.1h0M198.0 314.1h0M205.6 314.1h0M213.3 314.1h0M259.3 314.1h0M267.0 314.1h0M274.7 314.1h0M282.3 314.1h0M290.0 314.1h0M297.7 314.1h0M305.3 314.1h0M48.4 317.9h0M56.1 317.9h0M63.7 317.9h0M71.4 317.9h0M79.1 317.9h0M86.7 317.9h0M94.4 317.9h0M140.4 317.9h0M148.1 317.9h0M155.8 317.9h0M163.4 317.9h0M171.1 317.9h0M178.8 317.9h0M186.4 317.9h0M194.1 317.9h0M201.8 317.9h0M209.5 317.9h0M217.1 317.9h0M263.1 317.9h0M270.8 317.9h0M278.5 317.9h0M286.2 317.9h0M293.8 317.9h0M301.5 317.9h0M309.2 317.9h0M52.2 321.7h0M59.9 321.7h0M67.6 321.7h0M75.2 321.7h0M82.9 321.7h0M90.6 321.7h0M98.2 321.7h0M144.3 321.7h0M151.9 321.7h0M159.6 321.7h0M167.3 321.7h0M174.9 321.7h0M182.6 321.7h0M190.3 321.7h0M198.0 321.7h0M205.6 321.7h0M213.3 321.7h0M221.0 321.7h0M267.0 321.7h0M274.7 321.7h0M282.3 321.7h0M290.0 321.7h0M297.7 321.7h0M305.3 321.7h0M48.4 325.5h0M56.1 325.5h0M63.7 325.5h0M71.4 325.5h0M79.1 325.5h0M86.7 325.5h0M94.4 325.5h0M102.1 325.5h0M148.1 325.5h0M155.8 325.5h0M163.4 325.5h0M171.1 325.5h0M178.8 325.5h0M186.4 325.5h0M194.1 325.5h0M201.8 325.5h0M209.5 325.5h0M217.1 325.5h0M224.8 325.5h0M270.8 325.5h0M278.5 325.5h0M286.2 325.5h0M293.8 325.5h0M301.5 325.5h0M309.2 325.5h0M52.2 329.3h0M59.9 329.3h0M67.6 329.3h0M75.2 329.3h0M82.9 329.3h0M90.6 329.3h0M98.2 329.3h0M151.9 329.3h0M159.6 329.3h0M167.3 329.3h0M174.9 329.3h0M182.6 329.3h0M190.3 329.3h0M198.0 329.3h0M205.6 329.3h0M213.3 329.3h0M221.0 329.3h0M274.7 329.3h0M282.3 329.3h0M290.0 329.3h0M297.7 329.3h0M305.3 329.3h0M63.7 333.1h0M71.4 333.1h0M79.1 333.1h0M178.8 333.1h0M186.4 333.1h0M194.1 333.1h0M201.8 333.1h0M209.5 333.1h0M217.1 333.1h0M224.8 333.1h0M59.9 336.9h0M67.6 336.9h0M75.2 336.9h0M182.6 336.9h0M190.3 336.9h0M198.0 336.9h0M205.6 336.9h0M213.3 336.9h0M221.0 336.9h0M63.7 340.7h0M71.4 340.7h0M186.4 340.7h0M194.1 340.7h0M201.8 340.7h0M209.5 340.7h0M217.1 340.7h0M224.8 340.7h0M98.2 344.5h0M105.9 344.5h0M113.6 344.5h0M121.3 344.5h0M182.6 344.5h0M190.3 344.5h0M198.0 344.5h0M205.6 344.5h0M213.3 344.5h0M221.0 344.5h0M102.1 348.3h0M109.7 348.3h0M117.4 348.3h0M125.1 348.3h0M186.4 348.3h0M194.1 348.3h0M201.8 348.3h0M209.5 348.3h0M217.1 348.3h0M224.8 348.3h0M98.2 352.1h0M105.9 352.1h0M113.6 352.1h0M121.3 352.1h0M128.9 352.1h0M182.6 352.1h0M190.3 352.1h0M198.0 352.1h0M205.6 352.1h0M213.3 352.1h0M221.0 352.1h0" stroke="#8866ee" stroke-width="2.50" stroke-linecap="round" fill="none"/>
<path transform="scale(0.25)" d="M126 921l325 0 0 23-5 8-14 10-10 14-5 4-48 1-8 4-14 17-8 3-41 0-6-1-18-20-6-3-23 1-9 9 0 6 20 17 1 6-5 6-13 9-4 8 5 6 15 12 3 5-4 6-15 11-12 16-6 3-95 0 0-181zM499 921l506 0 0 23-1 3-22 21 4 8 13 9 11 15 17 14 0 6-17 15-10 14-8 5-48 0-6 4-10 14-13 10-6 7 0 24-3 6-9 7-71 0-6 3-7 7-1 23 2 6 6 6 6 3 47 0 4 3 6 6 2 15 12 0 9 8 3 6 0 10 106 0 4 1 7 6 8 12 15 11 8 12 6 5 24 1 6 2 5 5 6 10 18 14 3 9 0 18-2 6-19 15-9 14-14 10-9 13-16 11-3 6 0 23-120 0 0-92-2-6-5-6-11-8-6-10 0-81-12-1-6-4-6-6 0-12-6-2-77 0-6-3-12-15-18-15-2-6-1-23-3-4-17-13-8-12-15-12-8-11-17-13-3-5 0-23-3-6-17-14-12-15-12-9-11-14-7-4-119 0-9-8-3-5 0-47zM843 960l-6 8 2 5 16 13 13 16 5 3 24 0 10-8 2-6-1-23-11-11-48 0-6 3zM1029 921l169 0 0 23-5 8-6 4-71 1-6 2-17 20-6 2-42 0-7-2-6-6-3-5 0-47zM1276 985l6-4 24 0 0 24-36 0 1-14 5-6zM1253 1008l6-3 6 0 5 3 0 21 36 0 0 217-47 0-9-5-9-14-12-8-6-7 0-76 6-7 12-8 5-8 0-47 7-9 12-8 4-6 1-6 0-5-11-3-7-3-5-6 1-6 5-6zM191 1275l6-4 24-1 9 5 9 13 17 15 2 7 0 41 2 6 20 17 8 12 15 11 4 6 0 23-181 0 0-84 47 0 6-3 14-17 4-3 6-1 6 0 3 16 9 7 6-2 5-5 1-6-5-6-7-4-11-2-1-12-6-7-14-10-2-6 4-6z" fill="#cbcbcb"/>
<use href="#land" transform="translate(-110.000 317.510) scale(0.120417 -0.120300)" fill="#cbcbcb" stroke="#777" stroke-width="0.45"/>
<path d="M36.6 236.5L40.4 240.4M129.3 240.4L131.1 238.5M168.8 239.0L166.3 238.8M204.3 238.5L211.6 238.4M214.9 237.6L222.4 239.9M230.6 236.7L236.4 242.1M243.3 235.7L248.3 240.7M261.1 238.9L255.7 239.0M274.8 237.8L268.9 237.6M289.2 238.8L281.3 238.7M301.8 237.7L298.5 237.5M55.0 246.5L58.2 249.7M73.5 247.1L70.8 248.7M112.9 248.8L104.7 248.3M126.0 248.7L119.1 247.7M134.0 246.2L136.9 249.4M149.1 245.3L149.1 251.1M177.1 247.5L175.7 249.3M188.3 249.4L185.9 249.7M199.5 247.5L200.3 250.4M212.1 246.2L217.1 249.2M223.1 247.9L228.8 251.1M239.3 248.0L239.1 249.8M308.0 249.6L303.5 249.6M41.8 259.4L36.6 258.8M49.7 256.8L52.3 260.1M66.7 258.8L63.1 260.4M131.7 255.6L130.2 261.3M141.1 255.8L141.7 263.3M156.4 257.3L156.5 262.7M168.1 256.6L168.2 259.8M194.5 259.4L196.1 261.5M204.4 257.6L207.0 260.4M218.7 258.7L219.8 260.0M230.9 257.8L233.6 258.8M247.6 257.8L244.1 260.2M290.1 260.7L283.9 259.1M299.8 262.3L297.8 258.4M311.6 259.9L310.8 258.4M57.5 268.6L57.8 270.0M73.1 268.8L68.5 269.7M84.4 268.1L81.2 272.4M112.3 270.1L110.9 269.0M136.7 266.1L136.6 272.6M147.8 267.9L150.3 273.2M162.9 266.9L163.1 271.6M187.9 268.3L188.7 269.9M201.0 267.7L202.0 270.6M213.5 267.9L214.1 269.4M239.2 268.4L240.1 270.1M291.1 271.6L292.8 267.5M305.0 272.7L304.7 267.3M38.6 280.0L40.3 280.1M49.2 278.7L50.7 279.7M76.9 279.1L76.7 281.8M88.6 281.2L91.5 282.0M99.7 282.8L105.5 280.7M114.9 284.1L120.2 279.5M127.3 283.1L131.7 280.1M141.2 279.9L145.1 281.5M152.7 278.5L156.6 280.6M166.7 280.6L169.4 280.5M195.3 278.6L195.4 280.5M207.0 278.3L206.3 280.4M233.0 281.0L235.6 281.3M242.7 279.0L247.0 281.4M255.3 279.6L260.7 279.4M268.0 281.7L273.3 280.8M281.2 281.2L286.6 278.2M296.1 283.2L298.9 278.0M312.4 282.6L312.5 280.2M41.5 291.6L47.4 291.4M55.2 291.1L58.7 290.6M70.3 290.5L72.7 289.7M82.0 292.1L86.9 291.4M93.5 292.4L99.0 290.4M106.9 292.2L111.6 288.8M118.1 293.5L124.4 290.3M132.7 292.8L138.8 288.7M146.1 291.8L153.8 291.1M157.8 292.7L165.1 289.7M172.4 291.6L177.9 289.6M188.7 292.0L187.1 292.2M202.9 290.4L201.7 291.5M226.2 290.7L228.3 290.9M237.7 291.5L242.6 291.6M250.7 291.6L256.0 291.2M261.9 293.0L267.3 290.8M275.1 293.0L281.9 289.8M288.7 294.0L294.4 290.6M304.4 294.6L307.0 289.9M315.9 291.5L317.3 291.3M136.8 302.6L145.1 301.1M152.6 302.5L160.6 300.3M164.7 303.2L172.4 300.1M196.5 299.5L191.6 302.1M207.2 299.9L206.2 303.5M232.1 301.0L233.1 302.6M243.5 303.4L247.9 301.5M255.5 301.9L260.0 300.1M269.8 304.2L276.4 301.5M283.2 302.1L289.4 300.2M294.3 300.8L300.4 300.4M307.3 301.8L313.3 302.2M322.8 302.4L326.7 302.5M170.4 312.0L178.3 312.3M217.4 312.6L211.2 312.7M230.3 313.1L226.6 312.8M264.5 312.4L268.2 312.6M276.5 311.3L281.9 311.4M289.4 313.0L294.8 312.9M301.2 311.0L306.7 310.8M39.6 322.1L34.9 322.2M180.3 319.8L184.3 324.8M192.7 319.7L196.1 326.9M206.1 320.3L211.2 326.3M222.6 321.7L216.8 322.8M230.8 321.9L234.3 321.6M246.3 321.5L246.2 324.9M259.9 320.6L259.8 323.6M271.9 320.7L273.7 322.8M281.1 321.7L286.5 321.3M297.5 322.6L300.2 324.1M310.6 320.6L312.1 323.0M322.7 321.2L324.8 323.4M34.5 332.3L32.8 332.3M56.3 333.5L59.6 332.7M67.2 334.4L72.5 332.0M79.7 333.6L87.2 331.8M106.5 333.4L113.3 333.5M131.9 334.1L140.2 333.5M145.6 333.8L154.0 333.6M169.7 332.6L177.9 333.1M186.1 330.9L191.0 337.0M196.8 330.2L202.2 335.9M212.6 331.8L216.9 336.0M226.0 331.1L227.0 333.8M240.1 331.6L240.7 334.7M251.7 331.0L251.7 334.4M264.4 330.6L265.6 333.4M275.7 331.2L279.0 334.3M289.6 332.3L293.5 335.7M61.9 345.6L63.9 343.5M75.6 345.4L80.1 342.3M85.9 343.2L93.8 343.4M97.8 343.9L105.6 344.3M112.7 344.1L120.1 344.0M126.5 342.8L134.4 342.4M136.7 343.6L144.6 343.7M151.2 343.0L159.1 343.4M162.7 343.8L170.6 343.4M218.8 340.2L223.7 344.9M233.1 342.7L234.9 343.9M271.5 342.6L274.5 345.3M281.9 342.3L285.7 346.2M298.4 343.1L300.2 344.6M114.1 253.3L105.8 253.7" stroke="#000" stroke-width="1.7" stroke-linecap="round" fill="none"/><path d="M87.9 250.2L79.9 250.2M103.1 249.1L95.7 249.4M257.7 247.8L250.6 248.7M271.2 249.7L262.9 250.0M283.8 249.9L275.4 249.8M298.5 248.9L290.1 249.4M83.4 259.8L74.9 260.0M96.0 257.8L89.2 260.0M110.3 260.1L101.5 260.4M120.3 259.8L112.5 261.0M264.9 258.7L257.4 258.3M277.5 259.9L270.2 259.6M30.1 302.5L40.5 302.7M44.9 300.1L54.1 300.5M57.3 302.1L67.6 302.8M73.1 302.4L81.7 302.5M84.9 301.0L92.6 300.9M97.3 300.5L104.5 300.3M110.4 301.9L117.7 300.4M124.2 300.3L131.1 300.9M35.7 310.9L50.5 311.7M47.8 312.1L62.6 311.3M60.3 312.8L74.9 311.7M74.8 313.6L89.0 312.6M88.0 313.2L102.4 312.2M101.6 311.3L116.2 312.3M114.3 311.1L126.3 311.3M128.8 312.2L137.9 312.4M144.3 313.2L153.1 313.1M155.5 312.6L164.2 312.1M193.3 311.9L184.8 311.8M206.1 311.7L198.1 311.6M45.7 321.5L53.4 322.0M57.0 323.2L68.5 322.9M71.0 321.5L82.6 321.3M84.7 323.2L93.8 322.5M96.0 323.3L105.1 322.9M110.3 322.4L119.6 322.0M122.3 322.4L131.3 322.4M137.2 321.3L146.0 321.7M149.4 323.2L158.2 322.7M163.0 322.1L171.8 321.4M91.1 332.0L98.4 332.1M119.8 332.9L126.9 332.6M156.8 331.9L164.0 332.4M176.5 341.8L183.5 343.5M188.6 341.4L195.7 343.7M203.1 339.1L208.6 344.4M102.8 253.0L95.6 253.4M28.6 307.4L41.3 308.2M42.8 307.5L53.5 308.0M58.5 306.4L68.3 305.6M71.2 307.1L81.2 306.7M81.3 308.1L93.3 307.8M94.2 307.4L106.0 307.2M109.6 306.8L119.3 305.4M123.6 307.8L130.7 307.2M51.5 316.6L63.2 317.0M65.0 318.2L75.9 317.7M75.9 317.2L86.2 316.9M89.1 317.1L99.1 317.0M103.6 317.9L112.5 317.7M115.4 317.2L125.5 316.5M130.8 318.2L137.8 318.0M144.7 316.8L152.3 316.3M155.5 316.1L163.5 316.2M188.6 348.2L197.0 347.9M204.4 346.6L210.8 351.7M27.8 309.8L40.7 310.4M38.3 309.7L51.0 309.0M55.0 308.1L65.9 308.4M64.4 310.2L77.6 310.1M80.2 308.1L92.8 308.8M92.0 310.0L102.8 309.9M103.9 310.6L117.4 309.7M59.0 320.9L70.8 320.4M72.9 318.5L82.9 318.9" stroke="#000" stroke-width="2.0" stroke-linecap="round" fill="none"/><path d="M77.5 250.2L80.4 248.9L80.4 251.4ZM93.6 249.5L96.2 248.2L96.3 250.5ZM248.6 249.0L251.0 247.6L251.3 249.7ZM260.3 250.1L263.3 248.7L263.4 251.3ZM272.8 249.7L275.9 248.4L275.8 251.1ZM287.6 249.6L290.6 248.1L290.7 250.7ZM72.3 260.1L75.4 258.6L75.5 261.3ZM87.2 260.7L89.3 258.8L90.0 260.9ZM98.8 260.5L102.0 259.0L102.1 261.7ZM110.1 261.3L112.8 259.7L113.1 262.1ZM255.2 258.2L257.9 257.1L257.8 259.5ZM268.1 259.5L270.7 258.5L270.6 260.8ZM43.9 302.8L40.0 304.4L40.1 301.1ZM57.0 300.7L53.6 302.0L53.7 299.1ZM70.9 303.0L67.0 304.4L67.2 301.1ZM84.4 302.5L81.2 303.8L81.2 301.1ZM94.8 300.8L92.1 302.1L92.0 299.7ZM106.7 300.3L104.1 301.5L104.0 299.2ZM119.8 300.0L117.4 301.7L117.0 299.4ZM133.2 301.0L130.6 301.9L130.7 299.7ZM55.6 311.9L49.9 314.0L50.2 309.3ZM67.7 311.0L62.3 313.7L62.0 309.0ZM80.0 311.4L74.6 314.1L74.3 309.4ZM93.8 312.3L88.7 314.9L88.3 310.3ZM107.3 311.8L102.1 314.5L101.7 309.9ZM121.2 312.6L115.5 314.6L115.9 309.9ZM130.2 311.3L125.7 313.2L125.8 309.4ZM140.8 312.4L137.4 313.8L137.5 310.9ZM155.8 313.1L152.6 314.5L152.6 311.8ZM167.0 311.9L163.8 313.5L163.7 310.7ZM182.2 311.7L185.4 310.4L185.3 313.1ZM195.7 311.5L198.6 310.3L198.6 312.8ZM55.8 322.2L52.9 323.2L53.0 320.8ZM72.2 322.8L68.0 324.8L67.9 321.1ZM86.4 321.2L82.2 323.1L82.1 319.4ZM96.7 322.3L93.4 324.0L93.2 321.1ZM107.9 322.7L104.6 324.3L104.5 321.5ZM122.6 321.9L119.2 323.5L119.1 320.6ZM134.1 322.4L130.8 323.8L130.8 321.0ZM148.7 321.8L145.4 323.1L145.6 320.3ZM160.9 322.5L157.7 324.1L157.6 321.3ZM174.5 321.2L171.4 322.9L171.2 320.1ZM100.5 332.2L97.8 333.3L97.9 331.0ZM129.0 332.5L126.4 333.7L126.4 331.5ZM166.1 332.5L163.4 333.5L163.5 331.2ZM185.5 344.0L182.7 344.4L183.2 342.3ZM197.7 344.4L194.8 344.6L195.5 342.4ZM210.3 345.9L207.5 344.9L209.1 343.1ZM93.5 253.5L96.0 252.2L96.2 254.4ZM45.5 308.4L40.6 310.1L40.9 306.1ZM57.0 308.2L53.0 309.7L53.1 306.3ZM71.5 305.4L68.0 307.2L67.7 304.1ZM84.4 306.6L80.8 308.3L80.7 305.1ZM97.3 307.8L92.9 309.8L92.8 305.9ZM109.8 307.2L105.5 309.1L105.4 305.4ZM122.4 305.0L119.0 307.0L118.6 304.0ZM132.8 307.1L130.3 308.4L130.1 306.2ZM67.0 317.2L62.6 318.9L62.7 315.2ZM79.5 317.5L75.5 319.4L75.3 316.0ZM89.5 316.8L85.8 318.6L85.7 315.3ZM102.3 317.0L98.6 318.6L98.6 315.5ZM115.3 317.7L112.1 319.2L112.0 316.3ZM128.8 316.3L125.2 318.1L124.9 314.9ZM139.9 318.0L137.4 319.1L137.3 317.0ZM154.6 316.2L151.9 317.5L151.7 315.2ZM165.9 316.2L163.0 317.4L163.0 314.9ZM199.6 347.8L196.5 349.2L196.5 346.6ZM212.7 353.3L209.6 352.4L211.2 350.4ZM45.0 310.6L40.1 312.4L40.3 308.3ZM55.2 308.8L50.6 311.1L50.4 307.0ZM69.4 308.5L65.3 310.1L65.4 306.7ZM82.1 310.1L77.1 312.3L77.1 308.0ZM97.0 309.1L92.2 310.8L92.4 306.8ZM106.3 309.8L102.3 311.6L102.3 308.1ZM121.9 309.4L117.0 311.9L116.7 307.6ZM74.8 320.2L70.4 322.3L70.2 318.5ZM86.0 319.0L82.3 320.4L82.4 317.3Z" fill="#000" stroke="#000" stroke-width="0.6" stroke-linejoin="round"/><path d="M39.3 239.3L40.1 240.1M130.7 238.9L130.8 238.8M166.8 238.9L166.7 238.9M210.0 238.4L211.2 238.4M220.9 239.4L222.0 239.8M235.2 241.0L236.1 241.8M247.1 239.6L248.0 240.4M257.2 239.0L256.1 239.0M270.5 237.6L269.3 237.6M282.9 238.7L281.7 238.7M299.3 237.6L298.9 237.5M57.3 248.9L57.9 249.5M71.4 248.4L71.1 248.5M106.3 248.4L105.1 248.3M120.7 247.9L119.5 247.7M136.1 248.6L136.6 249.1M149.1 249.5L149.1 250.7M175.9 249.0L175.9 249.0M186.4 249.6L186.3 249.6M200.1 249.8L200.2 250.0M215.7 248.4L216.8 249.0M227.4 250.3L228.4 250.9M239.1 249.6L239.1 249.4M304.7 249.6L303.9 249.6M38.0 258.9L36.9 258.8M51.6 259.2L52.1 259.8M64.0 260.0L63.5 260.3M130.6 259.7L130.3 260.9M141.5 261.7L141.6 262.9M156.5 261.2L156.5 262.3M168.1 259.1L168.2 259.4M195.8 261.1L195.9 261.2M206.4 259.7L206.8 260.1M219.6 259.9L219.5 259.7M233.0 258.6L233.2 258.7M245.0 259.6L244.4 260.0M285.5 259.5L284.3 259.2M298.3 259.4L298.0 258.8M310.9 258.5L311.0 258.7M57.8 269.9L57.7 269.6M69.8 269.4L68.9 269.6M82.1 271.2L81.4 272.1M111.1 269.2L111.2 269.3M136.7 271.0L136.6 272.2M149.6 271.8L150.1 272.8M163.1 270.3L163.1 271.2M188.6 269.7L188.6 269.6M201.8 270.0L201.9 270.3M214.1 269.2L214.0 269.0M240.0 269.9L239.9 269.8M292.4 268.6L292.7 267.9M304.8 268.8L304.8 267.7M40.1 280.1L39.9 280.1M50.5 279.6L50.4 279.5M76.7 281.3L76.7 281.4M90.9 281.8L91.1 281.9M104.0 281.3L105.1 280.9M119.0 280.6L119.9 279.8M130.5 280.9L131.4 280.3M144.1 281.1L144.8 281.4M155.6 280.1L156.3 280.4M168.8 280.5L169.0 280.5M195.4 280.2L195.4 280.1M206.4 280.0L206.4 280.0M235.1 281.3L235.2 281.3M245.9 280.7L246.7 281.2M259.2 279.4L260.3 279.4M271.8 281.1L272.9 280.9M285.2 279.0L286.2 278.4M298.2 279.4L298.7 278.4M312.5 280.6L312.5 280.6M45.8 291.5L47.0 291.4M57.9 290.7L58.3 290.6M72.2 289.8L72.3 289.8M85.6 291.6L86.5 291.5M97.5 290.9L98.6 290.5M110.3 289.7L111.3 289.0M123.0 291.1L124.0 290.5M137.4 289.6L138.4 288.9M152.2 291.2L153.4 291.1M163.6 290.3L164.7 289.8M176.4 290.2L177.5 289.7M187.2 292.2L187.5 292.2M201.9 291.4L202.0 291.2M228.0 290.8L228.0 290.8M241.3 291.5L242.2 291.5M254.6 291.3L255.6 291.2M265.8 291.4L267.0 290.9M280.5 290.5L281.5 289.9M293.0 291.4L294.0 290.8M306.3 291.2L306.8 290.3M317.2 291.3L316.9 291.4M143.5 301.4L144.7 301.2M159.0 300.8L160.2 300.4M170.9 300.7L172.0 300.2M192.9 301.4L191.9 301.9M206.5 302.6L206.3 303.1M232.9 302.4L232.9 302.3M246.7 302.0L247.6 301.7M258.8 300.6L259.7 300.3M274.9 302.1L276.0 301.6M287.9 300.7L289.0 300.3M298.8 300.5L300.0 300.4M311.7 302.1L312.9 302.2M325.8 302.5L326.3 302.5M176.7 312.3L177.9 312.3M212.8 312.7L211.6 312.7M227.5 312.9L227.0 312.8M267.3 312.5L267.8 312.5M280.4 311.4L281.5 311.4M293.3 313.0L294.4 312.9M305.2 310.9L306.3 310.9M36.2 322.2L35.3 322.2M183.3 323.6L184.1 324.5M195.4 325.4L195.9 326.5M210.1 325.1L210.9 326.0M218.4 322.5L217.2 322.7M233.4 321.7L233.9 321.7M246.2 324.1L246.2 324.5M259.9 323.0L259.9 323.2M273.3 322.3L273.4 322.5M285.0 321.4L286.1 321.4M299.6 323.8L299.9 323.9M311.8 322.5L311.9 322.7M324.4 322.9L324.6 323.1M33.0 332.3L33.2 332.3M58.8 332.9L59.2 332.8M71.1 332.7L72.2 332.2M85.7 332.2L86.9 331.9M111.7 333.5L112.9 333.5M138.6 333.6L139.8 333.5M152.4 333.6L153.6 333.6M176.3 333.0L177.5 333.1M190.0 335.7L190.7 336.7M201.1 334.7L201.9 335.6M215.7 334.9L216.6 335.7M226.8 333.2L226.8 333.4M240.6 334.0L240.6 334.3M251.7 333.6L251.7 334.0M265.4 332.8L265.5 333.0M278.1 333.5L278.7 334.0M292.4 334.8L293.2 335.5M63.5 343.9L63.6 343.8M78.8 343.1L79.7 342.5M92.2 343.4L93.4 343.4M104.0 344.2L105.2 344.3M118.5 344.0L119.7 344.0M132.8 342.5L134.0 342.4M143.0 343.7L144.2 343.7M157.5 343.3L158.7 343.4M169.0 343.5L170.2 343.4M222.5 343.8L223.4 344.6M234.6 343.7L234.5 343.7M273.8 344.6L274.2 345.0M284.6 345.1L285.4 345.9M299.9 344.3L299.9 344.3M107.4 253.6L106.2 253.7" stroke="#000" stroke-width="2.8" stroke-linecap="round" fill="none"/>
</g>
<rect x="308.8" y="233.60" width="14.7" height="16.30" fill="#fff" stroke="#777" stroke-width="0.5"/>
<text x="316.2" y="240.10" text-anchor="middle" font-size="7.2">1</text>
<path d="M310.1 244.40H319.0" stroke="#000" stroke-width="1.5"/>
<path d="M322.0 244.40L318.0 242.70L318.0 246.10Z" fill="#000"/>
<text x="34.10" y="226.50" font-size="16.6">(b) JJA 850hPa uv &amp; SST</text>
<rect x="34.50" y="233.30" width="289.00" height="120.30" fill="none" stroke="#000" stroke-width="1.2"/>
<path d="M30.20 353.60H34.50M323.50 353.60H327.80M32.30 341.57H34.50M323.50 341.57H325.70M32.30 329.54H34.50M323.50 329.54H325.70M30.20 317.51H34.50M323.50 317.51H327.80M32.30 305.48H34.50M323.50 305.48H325.70M32.30 293.45H34.50M323.50 293.45H325.70M30.20 281.42H34.50M323.50 281.42H327.80M32.30 269.39H34.50M323.50 269.39H325.70M32.30 257.36H34.50M323.50 257.36H325.70M30.20 245.33H34.50M323.50 245.33H327.80M32.30 233.30H34.50M323.50 233.30H325.70M34.50 353.60V357.90M46.54 353.60V355.80M58.58 353.60V355.80M70.62 353.60V357.90M82.67 353.60V355.80M94.71 353.60V355.80M106.75 353.60V357.90M118.79 353.60V355.80M130.83 353.60V355.80M142.88 353.60V357.90M154.92 353.60V355.80M166.96 353.60V355.80M179.00 353.60V357.90M191.04 353.60V355.80M203.08 353.60V355.80M215.12 353.60V357.90M227.17 353.60V355.80M239.21 353.60V355.80M251.25 353.60V357.90M263.29 353.60V355.80M275.33 353.60V355.80M287.38 353.60V357.90M299.42 353.60V355.80M311.46 353.60V355.80M323.50 353.60V357.90" stroke="#000" stroke-width="1" fill="none"/>
<text x="22.90" y="249.83" text-anchor="end" font-size="12.4">60N</text>
<text x="22.90" y="285.92" text-anchor="end" font-size="12.4">30N</text>
<text x="22.90" y="322.01" text-anchor="end" font-size="12.4">0</text>
<text x="22.90" y="358.10" text-anchor="end" font-size="12.4">30S</text>
<text x="34.50" y="375.60" text-anchor="middle" font-size="12.4">120E</text>
<text x="70.62" y="375.60" text-anchor="middle" font-size="12.4">150E</text>
<text x="106.75" y="375.60" text-anchor="middle" font-size="12.4">180</text>
<text x="142.88" y="375.60" text-anchor="middle" font-size="12.4">150W</text>
<text x="179.00" y="375.60" text-anchor="middle" font-size="12.4">120W</text>
<text x="215.12" y="375.60" text-anchor="middle" font-size="12.4">90W</text>
<text x="251.25" y="375.60" text-anchor="middle" font-size="12.4">60W</text>
<text x="287.38" y="375.60" text-anchor="middle" font-size="12.4">30W</text>
<text x="323.50" y="375.60" text-anchor="middle" font-size="12.4">0</text>
<g clip-path="url(#cc)">
<rect x="34.5" y="417.4" width="289.00" height="120.20" fill="#ffffff"/>
<rect x="34.5" y="417.4" width="289.00" height="120.20" fill="#ffffff"/>
<g transform="scale(0.25)">
<path d="M286 1658l448 0 0 46 3 13 6 10 12 14 8 15 15 12 7 11-3 24 0 92 2 12 6 7 18 5 18 9 23-5 6 4 12 3 30 1 12 4 12 16 9 3 6 5 6 12 14 4 6 4 6 18 12 8 12 21 11 9 8 11 18 18 1 6-3 11-12 14-12 33-6 11 0 23-301 0 0-23-22-23-23-12-21-21-24-8-23-11-42-6-12-3-9-9-9-14-23 5-24-1-77-4-42-4-6-4-17-16-30-10-3-4 9-5 89-13 17-5 6-23-8-23 5-6 51-14 18-10 12-3 23 5 12-3 5-4 4-18 3-7 24-5 47 0 24-3 11-8 3-12 10-1 23-1 6-2 7-7-7-7-6-2-37 9-4 7-18 5-12 2-12-2-11-5-7-7-17-8-18-40-6-7-12-7-12-4-94 0-42 6-7 2-8 6-3 5 0 24-4 17-2 6-12 9-23 5-48-1-6-4-6-9 6-6 12-6 6-11 0-24-6-9-6-1-8 5-10 13-5 5-24 0-24-4-12-11-29-21 5-6 12-3 77-1 12-3 18-8 6-8 0-69zM731 1930l-30 8-8 4 9 6 55 0 10-6-7-8-9-4-20 0zM1061 1721l2-4 6 2 3 8-3 8-6 1-3-3-2-6 3-6zM1140 2081l24-5 89 0 12 1 17 5 24 0 0 40-24 0-6 6-10 11 0 23-137 0 0-23-7-9-15-14 2-6 13-11 12-14 6-4z" fill="#f2d8a8"/>
<path d="M292 1658l39 0 0 69 14 15 42 0 6-1 8-8 2-6 0-69 326 0 0 46 3 17 5 16 18 16 5 10 18 10 3 6-3 24-1 98-5 9-17 0-24 6-24 10-24 6-11 10 12 6 23 2 42 1 25-3 14-6 0-17 8-3 6 0 4 3 4 5 10 5 6 0 23-7 12 3 30 3 12 3 18 18 7 4 9 12 22 12 8 17 12 12 12 17 34 35 1 6-3 5-12 18-10 29-12 17 0 23-273 0 0-23-15-9-22-20-25-11-17-18-7-5-41-13-54-8-12-8-12-19-47 6-107-10-12-2-11-12-12-7-29-9 100-17 17-6 10-23-1-6-8-17 6-4 47-13 24-14 23 8 27-1 8-6-11-10 0-14 24-2 47 0 24-5 12-6 12-11 6-2 17 0 12-3 6-5 4-11-4-12-12-7-17 8-60 15-47-19-12-32-6-10-6-5-24-9-47-1-53 1-48 4-6 3-6 6-3 11-1 24-2 5-14 18-15 5-42 0-6-2-2-3 14-8 4-15 1-24-5-9-6-4-6-2-8 4-15 15-42-1-6-2-7-6-17-9-11-9 6-6 5-1 83-2 18-4 12-7 6-9 0-69zM1157 2087l7-2 95 1 11 7 0 17-2 6-19 17-3 6 0 23-96 0 0-23-23-23 3-6 17-17 10-6z" fill="#e0b47c"/>
<path d="M442 1658l184 0 0 69 4 3 10-3 3-11 11-23 6 3 6 14 4 11 7 35 6 10 66 0 11 7 12 3 5 3-5 11-89 0-11 15-24 11-18 5-18 2-6 1-12-4-35-16-12-37-6-7-16-10 19-17 3-6 0-17-4-6-8-1-3 1-15 15-12 4-17 3-19-5-11-7-13-16-3-17 0-23zM292 1739l6-3 18 0 6 2 12 11 3 7-1 23-2 7-6 6-12 6-10 16-8 5-6-2-3-9-2-34-3-6-7-6-9-2-7 2-16 10-42 0-30-12-5-4 5-4 6-1 66 0 17-2 21-4 9-6zM651 1861l9-5 53 1 18 6 8 9 1 6 0 17-6 6-27 13-30 3-12 8-17 17 13 6 46 4 48 1 48-5 23-6 23-9 30 2 18 3 6 4 30 29 21 12 11 17 10 12 12 17 34 35 0 6-15 23-8 25-17 21 0 23-241 0 0-23-33-17-24-18-27-11-14-15-11-8-42-10-54-7-12-9-12-20-23 2-24 5-24-4-29-1-30-3-30-6-6-3-8-8-9-6-21-6 32-4 60-13 18-6 15-23 0-6-4-17 42-13 18-14 23 12 24 0 12-2 19-7 17-15 29-8 29-12 10-5zM1162 2104l2 0 6 4 3 8-9 9-6-2-7-7 3-6 8-6z" fill="#f0c040"/>
<path d="M447 1658l108 0 0 23-2 8-6 5-12 3-47 21-12-6-24-18-5-13 0-23zM572 1658l42 0 0 69 8 6 8 2 18-1 6-3 6 3 15 34 2 11-5 16-6 8-30 13-30 3-12-4-11-10-19-8-5-10-5-25-3-6 0-6 17-17 4-6 0-69zM285 1750l13-2 18 0 6 3 3 5-2 23-18 12-7 14-3-2-2-24-4-17-3-3-11-3 10-6zM178 1756l85 0-18 4-24 0-24-1-19-3zM648 1872l12-4 47 1 6 3 3 6 0 17-9 7-30 3-29 14-26 23 13 6 72 6 48 1 59-5 12-2 23-10 24-1 24 5 31 29 22 13 36 48 31 32 0 6-17 23-8 26-10 3-6 6-3 11 0 23-64 0 0-23-12-7-12 7 0 23-121 0 0-23-57-29-18-11-29-12-18-17-6-3-47-9-54-7-12-10-12-20-23 0-24 8-24-5-23-1-24-3-36-7-6-4-12-11-8-4 32-8 36-6 26-9 13-17 9-6 4-6 0-17 31-10 6-5 12 6 11 2 36-1 29-4 12-6 12-12 30-8 18-15z" fill="#ffe000"/>
<path d="M452 1658l95 0 0 23-6 7-18 10-35 12-24-14-9-9-3-6 0-23zM605 1733l25 6 18 3 6 3 15 23 3 11-6 15-8 9-28 11-24 1-12-6-11-10-13-8-7-12 2-15 4-8 20-19 16-4zM652 1890l2-2 6 0 6 7-6 7-6 1-6-2-2-6 6-5zM532 1936l3-2 10 8 14 6 47-1 125 11 77-3 18-2 35-13 12-2 12 3 12 5 27 25 14 7 14 10 32 47 29 29 0 6-19 23-2 9-71 1-6 7-12 8-24 6-6 2-6 6-7 7 0 23-48 0 0-23-10-6-47-12-36-13-18-13-29-11-12-8-7-6-13-6-105-15-12-11-12-20-23-1-24 9-24-6-23 0-30-5-18-3-12-6-11-12 5-2 18-5 36-6 23-8 5-2 13-14 12-6 6-2 50-1 12-6 6-6z" fill="#ffc000"/>
<path d="M458 1658l81 0 0 23-10 9-12 6-29 7-12-5-15-11-3-6 0-23zM595 1745l11-6 30 6 12 5 12 13 6 11 1 5-7 14-10 10-20 7-24 1-12-7-17-16-8-9 4-11 22-23zM863 1942l10-2 21 8 25 23 13 6 16 11 33 47 28 29 0 6-17 18-71 0-12 14-12 8-12-2-12-5-6 3-20 22-9 4-12 2-48-23-23-1-30-6-21-17-27-7-23-17-60-9-35-3-24-4-12-12-12-19-23 0-24 8-24-7-23-1-42-8-12-4-11-10 17-5 38-6 15-5 19-7 11-10 12-6 24 0 47-6 24 3 47-1 125 9 47-2 24 2 24-2 37-16z" fill="#ffa800"/>
<path d="M463 1658l69 0 0 23-9 8-12 6-23 3-12-6-13-11 0-23zM599 1750l7-5 24 3 9 2 18 18 4 6 1 5-8 13-12 11-12 4-24 0-30-28 1-5 4-6 18-18zM857 1948l16-6 14 6 28 23 17 8 13 9 6 6 9 18 26 34 19 18 0 6-13 13-71 0-9 4-15 15-12-5-12-12-24-1-7 9-1 23-7 6-8 4-12-6-12-10-12-5-12-2-29-1-24-5-18-17-30-6-12-10-11-5-60-8-35-2-24-4-9-10-15-21-23 0-24 7-24-7-53-7-18-5-11-8 11-3 48-8 32-12 15-10 24 0 47-8 30 3 41-2 125 8 47-1 24 3 24-2 23-9 8-5z" fill="#ff8c00"/>
<path d="M470 1658l56 0 0 23-15 10-23 3-18-13 0-23zM602 1756l4-4 24 0 8 4 16 16 3 7-24 24-27 0-12-14-12-10 2-5 18-18zM864 1948l9-3 8 3 16 11 13 12 17 7 17 12 37 56 20 18 0 6-9 8-77 1-7 2-11 13-7-7-5-8-6-4-6-3-24 0-15 15-4 6 0 17-2 6-2 2-6-4-6-10-7-5-23-4-53-2-6-4-6-12-6-4-12-3-18-1-23-13-30-2-30-5-41-2-24-4-24-31-23 0-24 7-24-9-53-7-23-9 53-8 27-9 20-10 24 0 23-7 24-2 48 2 23-3 95 4 30 3 47 0 24 4 18-1 6 0 23-9 15-10z" fill="#ff7400"/>
<path d="M477 1658l43 0 0 23-9 6-23 2-11-8 0-23zM606 1762l6-2 18 0 15 14 3 5-18 17-18 0-6-2-14-15 3-5 11-12zM872 1948l2 0 23 15 8 8 26 12 14 11 17 34 12 13 5 11 17 12 0 6-4 3-71 0-15-3-9-10-48 0-23 23-6 1-65 0-12-4-5-5-6-11-7-4-42 0-23-10-30 1-24-4-47-2-18-3-6-1-18-25-6-5-29 0-18 5-24-9-23-5-24-2-20-6 44-5 47-17 24-1 23-7 72 0 29-4 89 3 30 4 47-1 24 5 24 0 23-9 23-14z" fill="#ff5c00"/>
<path d="M484 1658l30 0 0 23-3 2-23 1-4-3 0-23zM606 1774l6-2 18 0 6 7-6 5-18 0-6-2-2-3 2-5zM873 1954l30 18 24 10 16 12 11 23 5 18 10 6 6 17 5 4 8 2-14 4-53 0-7-4-8-12-9-4-48 0-11 5-12 18-6 1-65 0-6-3-6-11-5-6-7-3-48-1-23-3-30 4-24-5-47-1-24-5-18-24-6-5-29 0-18 3-24-9-23-6-24-1-8-2 32-2 47-16 24-2 23-6 72 0 23-5 95 2 30 4 41 0 30 5 24-1 23-6 24-13z" fill="#ff4000"/>
<path d="M864 1965l9-5 12 7 36 14 17 11 12 25-1 12-5 7-47 0-6 3-18 2-213 0-30 5-24-5-47 0-24-5-17-24-7-5-47 1-43-14 43-14 47-8 72 0 29-6 89 1 30 5 41 0 30 4 18 0 31-5 13-6z" fill="#ee3a10"/>
<path d="M599 1971l13-2 89 0 30 6 41 0 30 4 18 0 29-5 24-7 8 4 40 11 9 6 8 6 1 12 7 11-2 7-47 0-6 8-18 6-213 0-30 5-24-5-47 0-24-4-15-22-9-7-47-1-31-10 37-12 41-7 72 0 16-4z" fill="#dd3018"/>
<path d="M588 1977l24-5 89 0 30 6 41 0 30 3 18 0 23-3 30-6 48 12 14 10-3 16-5 5-30 1-11 13-13 6-213 0-30 5-24-5-47 0-24-4-13-19-11-8-41-2-25-8 34-11 32-5 77-1z" fill="#cc2a20"/>
<path d="M605 1977l96-1 30 5 41 0 48 2 53-7 48 10 11 8-3 12-7 6-25 0-12 13-12 7-213 0-30 4-24-4-47 0-24-3-12-19-6-6-6-2-35-2-19-6 31-11 23-2 72 0 22-4z" fill="#b82028"/>
<path d="M593 1983l19-3 89 0 30 4 89 2 53-6 48 8 9 6-3 8-6 6-24 0-15 15-9 5-213 1-30 3-24-3-47 0-24-3-12-20-6-4-6-2-29-1-16-5 22-8 23-2 82-1z" fill="#c83840"/>
<path d="M487 1988l24-1 72 0 29-3 89 0 30 3 89 1 53-4 48 6 6 4-6 10-24 0-4 2-20 19-213 1-30 2-24-2-71-2-9-18-8-6-30-2-16-4 15-6z" fill="#d45560"/>
<path d="M605 1988l215 3 53-3 48 3 4 3-4 6-24 0-6 2-6 4-6 11-6 5-213 1-30 1-95-3-6-17-6-5-12-2-23 0-10-3 10-3 117-3z" fill="#e27080"/>
<path d="M484 1994l128-2 261 0 49 2-1 2-24 0-16 4-4 6-4 13-243 1-95-2-1-12-5-9-12-2-33-1z" fill="#f0a0a4"/>
<path d="M126 1658l148 0 0 69-5 6-7 4-17 6-72 0-23 6-24 0 0-91zM742 1658l331 0 0 23-16 12-27 11-8 6-7 9-9 26-8 10-6 3-17-8-31-1-7 7-5 8-15 10-8 14-12 7-6 6-1 71 3 6 16 10 4 7 0 6-4 18-6 4-30 4-8-2-16-13-23 3-24-7-10-7-2-6 0-121-6-12-12-12-13-23-10-10-5-7-2-6 0-46zM1145 1658l161 0 0 44-119 0-23-4-12-6-4-5-3-6 0-23zM126 1768l0-5 24 0 22 16 24 24 10 23 0 23-22 23 7 6 12 3 24-2 13-7 10-9 18-6 48 0 29-5 29-26 1-29 6-17 18-8 18-4 47-2 47 2 12 6 12 10 4 7 14 35-6 19-3 4-9 4-6 10-6 17-6 7-6 3-23-3-101 29-20 3-6 6 2 6 6 7 18 0 6 4 2 6-1 17-3 6-22 4-53 4-24 7-12 8 12 12 28 11 14 16 11 6 96 2 23 1 24 7 23-9 6 12 6 6 48 12 12 11 6 3 17 3 11 6 3 6 20 17 8 10 11 7 5 6 0 23-338 0 0-23-4-4-6-1-5 5 0 23-185 0 0-394zM267 1779l3 0 1 18-1 6-2 1-4-1 3-24zM1282 1930l24 0 0 96-24 0-23 24-149 1-23 5-12 8-12 11-18 8-6-7-2-12-4-8-18-15-2-12-3-5-17-7-3-23 11-23 14-8 24-1 24-22 6 1 7 7 11 4 77 1 12 3 11 6 24 1 9 8 15 6 24 1 6-7 6-23 11-18zM1033 2110l6-2 6 2 7 6 11 6 6 6 4 11 0 23-60 0 0-23 3-23 5-5 12-1z" fill="#b2e4e2"/>
<path d="M126 1658l142 0 0 69-6 7-17 7-72 0-23 5-24 0 0-88zM746 1658l314 0 0 23-9 7-36 18-15 33-6 6-2 1-48-2-6 3-11 13-13 8-11 15-17 14-3 6 0 69 2 6 5 6 15 11 1 6-10 18-23 6-10-6-8-10-6-3-23 2-24-4-6-5-2-4 0-121-4-13-12-12-16-28-14-11-2-6 0-46zM1154 1658l152 0 0 40-119 0-11-2-12-5-10-10 0-23zM126 1774l0-5 24 0 37 34 5 23 0 23-23 23 4 7 6 3 18 5 24 1 16-4 8-3 11-11 12-6 48 0 33-9 32-29 0-23 6-14 8-10 16-6 53-4 24 3 23 0 12 7 12 12 6 12 5 23-17 29-8 23-5 6-5 3-23-3-24 7-24 5-23 8-54 12-6 3-3 6 2 11 7 13 12 6 6 6 2 4-3 6-64 5-24 7-16 11 10 12 6 5 18 6 18 19 17 12 42 0 13 4 5 4 3 8 1 23 2 6 17 11 6 12 18 11 4 6 1 6 0 23-125 0 0-23-10-12-6 0-13 12 0 23-147 0 0-118-1-3-5-5-24 0 0-262zM1057 1959l6-5 6 0 24 6 71 1 23 13 24 1 35 13 12 12 11 6 7 11-17 19-72 2-53-3-10-6-6-12-8-2-7 2-11 24-8 5-21 13-18 3-6-5-6-9-9-7 1-24 4-23 28-35zM502 2052l9-3 6 9 6 3 33 9 27 26 7 3 7 5 5 12 0 46-85 0 0-69-3-6-3-3-23 0-6-1-6-4-6-9 0-6 6-5 26-7z" fill="#a4d8e6"/>
<path d="M126 1658l138 0 0 69-4 6-15 6-72 0-23 4-24 0 0-85zM751 1658l298 0 0 23-16 11-18 9-11 21-12 15-18 3-30-1-12 3-4 3-7 12-14 5-10 19-12 3-6 6-3 13 1 75 6 12 14 5 2 6-2 3-12 7-4 8-8 2-3-2-3-9-6-6-12-4-23 1-24-2-3-4 1-116-3-17-6-17-7-6-6-3-9-20-3-3-11-4-4-5 0-46zM1162 1658l144 0 0 36-124-1-12-5-8-7 0-23zM455 1774l9-1 24 3 23 0 24 22 2 5 2 23-9 17-13 35-6 5-23-1-24 6-24 4-23 7-24 2-36 13-8 5-3 6 2 17 3 11 5 6 11 6-1 6-50 2-30 9-14 12 8 12 7 6 21 11 14 17 23 20 42 0 6 2 4 8 0 17 3 12 5 5 12 6 11 18 12 5 5 6 0 23-106 0 0-23-17-19-6 0-22 19 0 23-126 0-1-122-5-10-6-4-6-2-24 0 0-249 24 0 4 4 5 12 14 7 5 5 2 46-7 7-10 5-4 5-2 6 4 6 12 13 6 2 42 2 24-3 8-2 7-6 8-12 48-1 35-12 24-19 12-14 0-23 6-9 14-15 10-3 23 0 15-2zM1067 1965l97 3 18 13 29 2 24 8 5 3 7 13 12 6 4 4-4 7-48 0-24 6-29-6-18 0-6-3-9-9-9-5-23-1-6 2-9 9-5 24-4 4-6 3-18-1-7-6 1-10 17-43 3-17 4-5 4-1zM485 2064l26-4 12 6 12 1 7 3 5 8 15 9 9 14 14 9 5 6 0 46-61 0-1-75-5-9-6-4-6-2-23 0-4-2 1-6z" fill="#98d0ea"/>
<path d="M126 1658l134 0 0 69-5 6-10 4-72 0-23 3-24 0 0-82zM853 1658l39 0-1 51-6 11-6 3-6 2-6-1-6-3-6-8-2-9 0-46zM924 1658l116 0 0 23-7 6-18 10-5 5-11 19-7 8-12 5-12 3-30-4-9-6-5-40 0-29zM1170 1658l136 0 0 32-119 0-9-3-8-6 0-23zM445 1779l19-2 24 6 23 0 20 20 0 23-6 11-8 35-3 6-3 2-23-1-24 6-30 4-17 5-24 1-18 8-24 8-12 6-41 0-5 2-1 6 13 5 5 6 4 12 0 17-3 6-25 8-20 15 14 18 25 17 17 21 17 18 18 10 8 15 16 9 4 8 1 6-5 11-12 6-24 1-23-22-6 0-18 15-20 12 0 23-74 0-1-69 2-12 4-11 12-12 11-17-5-7-30-1-6-4-9-12-20-9-12-23-24 0 0-30 24 0 12-23 14-7 9-17 6-3 12-2 65 0 6-4 6-13 6-5 12-2 18 0 18-10 25-8 21-18 16-17 0-23 10-12 11-9 28-3zM239 2017l-1 6 7 4 6-10-6-3-6 3zM126 1884l0-5 24 0 17 16 2 6-3 6-4 6-6 3-30 1 0-33zM1115 1983l43-1 18 7 35 2 11 3-5 7-12 8-7 8-11 4-14-4-9-10-24-1-12-5-27-7 4-6 10-5z" fill="#88b8f0"/>
<path d="M126 1658l130 0 0 69-6 6-5 2-72 0-23 2-24 0 0-79zM863 1658l19 0 0 46-3 6-6 5-7-5-3-6 0-46zM930 1658l103 0 0 23-23 15-18 26-24 10-12-2-9-3-3-3-12-31-2-12 0-23zM1178 1658l128 0 0 27-119 0-9-4 0-23zM448 1785l16-3 24 10 23 0 10 11 0 23-7 46-3 5-23-1-24 6-30 3-17 3-24 1-12 4-12 8-30 7-46-1-7-5 1-7 5-5 30-3 15-15 25-6 7-3 33-31 3-6 0-23 6-7 7-5 30-6zM126 1890l0-2 24 0 7 7 0 6-7 7-24 0 0-18zM199 1913l75 0 5 6 6 11 13 9 6 8 0 18-3 6-21 7-24 16-2 6-4 3-17 5-12 6-24 2-19-10-11-8-15-27 15-29 32-29zM264 2012l4-3 17 14 13 7 6 5 12 18 18 22 16 12 7 12 16 11 2 6-6 6-24 2-10-8-9-12-4-3-6 1-18 17-23 9-21 11 0 23-39 0-2-52 1-23 38-46 12-29z" fill="#78a4f2"/>
<path d="M126 1658l126 0 0 69-7 5-119 2 0-76zM936 1658l91 0 0 23-21 11-14 24-24 8-11-8-17-24-4-11 0-23zM1187 1658l119 0 0 23-119 0 0-23zM455 1791l9-1 24 12 20 1 3 5 0 41-1 17-2 6-20 1-24 6-47 4-48 0-6 1 0 11-18 0 0-17 18 0 30-28 18-1 4-12 2-35 17-8 21-3zM197 1925l6-2 65 1 2 12 4 8 18 4 2 17-4 6-34 13-11 10-18 0-6 2-12 8-12 3-22-13-14-23 12-23 14-12 10-11zM273 2035l1-2 18 0 10 8 8 17 8 12 3 17-29 26-24-3-41 0 0-17 18 0 5-6 0-17 18 0 3-29 2-6z" fill="#6a92f0"/>
<path d="M126 1658l121 0 0 69-2 2-119 1 0-72zM942 1658l78 0 0 23-17 6-6 5-5 17-24 2-12-18-12-6-2-6 0-23zM431 1803l9-4 18-1 6 0 8 5 23 23 0 23-22 23-9 3-71 1-6-2-2-2 8-6 24-1 7-4 4-5 3-7 0-46zM195 1942l2-3 6-1 42 0 6 4 11 16 12 7 2 6-26 5-17 9-18 4-18 9-7-4-5-9-12-8-3-6 3-8 12-8 10-13zM290 2041l3 0 5 5 5 24 0 17-5 8-6 1-4-3-1-6 0-41 3-5z" fill="#5e86ee"/>
<path d="M451 1814l7-5 6 0 17 17 0 23-17 18-12-4-5-8-2-6 0-23 6-12zM218 1954l9-1 6 4 6 8 0 6-8 6-10 3-12-4-4-5 1-6 3-6 9-5z" fill="#5278ea"/>
<path d="M457 1826l7-5 5 5 0 23-5 6-7-6 0-23zM217 1971l4-6 6 6-6 2-4-2z" fill="#4a6ae8"/>
</g>
<path d="M148.1 431.9h0M155.8 431.9h0M163.4 431.9h0M144.3 435.7h0M151.9 435.7h0M159.6 435.7h0M148.1 439.5h0M155.8 439.5h0M163.4 439.5h0M113.6 443.3h0M121.3 443.3h0M144.3 443.3h0M151.9 443.3h0M159.6 443.3h0M109.7 447.1h0M117.4 447.1h0M125.1 447.1h0M148.1 447.1h0M155.8 447.1h0M163.4 447.1h0M105.9 450.9h0M113.6 450.9h0M121.3 450.9h0M128.9 450.9h0M151.9 450.9h0M159.6 450.9h0M102.1 454.7h0M109.7 454.7h0M117.4 454.7h0M125.1 454.7h0M98.2 458.5h0M105.9 458.5h0M113.6 458.5h0M121.3 458.5h0M128.9 458.5h0M102.1 462.3h0M109.7 462.3h0M117.4 462.3h0M125.1 462.3h0M36.9 466.1h0M44.6 466.1h0M52.2 466.1h0M213.3 466.1h0M221.0 466.1h0M40.7 469.9h0M48.4 469.9h0M56.1 469.9h0M209.5 469.9h0M217.1 469.9h0M224.8 469.9h0M36.9 473.7h0M44.6 473.7h0M52.2 473.7h0M59.9 473.7h0M205.6 473.7h0M213.3 473.7h0M221.0 473.7h0M40.7 477.5h0M48.4 477.5h0M56.1 477.5h0M63.7 477.5h0M36.9 481.3h0M44.6 481.3h0M52.2 481.3h0M59.9 481.3h0M67.6 481.3h0M75.2 481.3h0M113.6 481.3h0M121.3 481.3h0M128.9 481.3h0M136.6 481.3h0M144.3 481.3h0M151.9 481.3h0M159.6 481.3h0M167.3 481.3h0M174.9 481.3h0M182.6 481.3h0M259.3 481.3h0M267.0 481.3h0M40.7 485.1h0M48.4 485.1h0M56.1 485.1h0M63.7 485.1h0M71.4 485.1h0M79.1 485.1h0M109.7 485.1h0M117.4 485.1h0M125.1 485.1h0M132.8 485.1h0M140.4 485.1h0M148.1 485.1h0M155.8 485.1h0M163.4 485.1h0M171.1 485.1h0M178.8 485.1h0M186.4 485.1h0M255.5 485.1h0M263.1 485.1h0M270.8 485.1h0M36.9 488.9h0M44.6 488.9h0M52.2 488.9h0M59.9 488.9h0M67.6 488.9h0M75.2 488.9h0M82.9 488.9h0M105.9 488.9h0M113.6 488.9h0M121.3 488.9h0M128.9 488.9h0M136.6 488.9h0M144.3 488.9h0M151.9 488.9h0M159.6 488.9h0M167.3 488.9h0M174.9 488.9h0M182.6 488.9h0M190.3 488.9h0M259.3 488.9h0M267.0 488.9h0M274.7 488.9h0M40.7 492.7h0M48.4 492.7h0M56.1 492.7h0M63.7 492.7h0M71.4 492.7h0M79.1 492.7h0M86.7 492.7h0M94.4 492.7h0M102.1 492.7h0M109.7 492.7h0M117.4 492.7h0M125.1 492.7h0M132.8 492.7h0M140.4 492.7h0M148.1 492.7h0M155.8 492.7h0M163.4 492.7h0M171.1 492.7h0M178.8 492.7h0M186.4 492.7h0M194.1 492.7h0M201.8 492.7h0M209.5 492.7h0M217.1 492.7h0M224.8 492.7h0M263.1 492.7h0M270.8 492.7h0M278.5 492.7h0M286.2 492.7h0M293.8 492.7h0M301.5 492.7h0M309.2 492.7h0M316.8 492.7h0M36.9 496.5h0M44.6 496.5h0M52.2 496.5h0M59.9 496.5h0M67.6 496.5h0M75.2 496.5h0M82.9 496.5h0M90.6 496.5h0M98.2 496.5h0M105.9 496.5h0M113.6 496.5h0M121.3 496.5h0M128.9 496.5h0M136.6 496.5h0M144.3 496.5h0M151.9 496.5h0M159.6 496.5h0M167.3 496.5h0M174.9 496.5h0M182.6 496.5h0M190.3 496.5h0M198.0 496.5h0M205.6 496.5h0M213.3 496.5h0M221.0 496.5h0M267.0 496.5h0M274.7 496.5h0M282.3 496.5h0M290.0 496.5h0M297.7 496.5h0M305.3 496.5h0M313.0 496.5h0M320.7 496.5h0M40.7 500.3h0M48.4 500.3h0M56.1 500.3h0M63.7 500.3h0M71.4 500.3h0M79.1 500.3h0M86.7 500.3h0M94.4 500.3h0M102.1 500.3h0M109.7 500.3h0M117.4 500.3h0M125.1 500.3h0M132.8 500.3h0M140.4 500.3h0M148.1 500.3h0M155.8 500.3h0M163.4 500.3h0M171.1 500.3h0M178.8 500.3h0M186.4 500.3h0M194.1 500.3h0M201.8 500.3h0M209.5 500.3h0M217.1 500.3h0M224.8 500.3h0M270.8 500.3h0M278.5 500.3h0M286.2 500.3h0M293.8 500.3h0M301.5 500.3h0M309.2 500.3h0M316.8 500.3h0M59.9 504.1h0M67.6 504.1h0M75.2 504.1h0M82.9 504.1h0M90.6 504.1h0M98.2 504.1h0M105.9 504.1h0M121.3 504.1h0M128.9 504.1h0M136.6 504.1h0M144.3 504.1h0M151.9 504.1h0M159.6 504.1h0M167.3 504.1h0M174.9 504.1h0M182.6 504.1h0M190.3 504.1h0M198.0 504.1h0M205.6 504.1h0M213.3 504.1h0M221.0 504.1h0M267.0 504.1h0M274.7 504.1h0M282.3 504.1h0M290.0 504.1h0M297.7 504.1h0M305.3 504.1h0M313.0 504.1h0M63.7 507.9h0M71.4 507.9h0M79.1 507.9h0M86.7 507.9h0M94.4 507.9h0M102.1 507.9h0M125.1 507.9h0M132.8 507.9h0M140.4 507.9h0M148.1 507.9h0M155.8 507.9h0M163.4 507.9h0M171.1 507.9h0M178.8 507.9h0M186.4 507.9h0M194.1 507.9h0M201.8 507.9h0M209.5 507.9h0M217.1 507.9h0M224.8 507.9h0M270.8 507.9h0M278.5 507.9h0M286.2 507.9h0M293.8 507.9h0M301.5 507.9h0M309.2 507.9h0M59.9 511.7h0M67.6 511.7h0M75.2 511.7h0M82.9 511.7h0M90.6 511.7h0M98.2 511.7h0M105.9 511.7h0M128.9 511.7h0M136.6 511.7h0M144.3 511.7h0M151.9 511.7h0M159.6 511.7h0M167.3 511.7h0M174.9 511.7h0M182.6 511.7h0M190.3 511.7h0M198.0 511.7h0M205.6 511.7h0M213.3 511.7h0M221.0 511.7h0M267.0 511.7h0M274.7 511.7h0M282.3 511.7h0M290.0 511.7h0M297.7 511.7h0M305.3 511.7h0M63.7 515.5h0M71.4 515.5h0M79.1 515.5h0M86.7 515.5h0M94.4 515.5h0M102.1 515.5h0M178.8 515.5h0M186.4 515.5h0M194.1 515.5h0M201.8 515.5h0M209.5 515.5h0M217.1 515.5h0M224.8 515.5h0M59.9 519.3h0M67.6 519.3h0M75.2 519.3h0M82.9 519.3h0M90.6 519.3h0M98.2 519.3h0M105.9 519.3h0M182.6 519.3h0M190.3 519.3h0M198.0 519.3h0M205.6 519.3h0M213.3 519.3h0M221.0 519.3h0M63.7 523.1h0M71.4 523.1h0M79.1 523.1h0M86.7 523.1h0M94.4 523.1h0M102.1 523.1h0M186.4 523.1h0M194.1 523.1h0M201.8 523.1h0M209.5 523.1h0M217.1 523.1h0M224.8 523.1h0M67.6 526.9h0M75.2 526.9h0M82.9 526.9h0M90.6 526.9h0M98.2 526.9h0M105.9 526.9h0M113.6 526.9h0M182.6 526.9h0M190.3 526.9h0M198.0 526.9h0M205.6 526.9h0M213.3 526.9h0M221.0 526.9h0M71.4 530.7h0M79.1 530.7h0M86.7 530.7h0M94.4 530.7h0M102.1 530.7h0M109.7 530.7h0M117.4 530.7h0M186.4 530.7h0M194.1 530.7h0M201.8 530.7h0M209.5 530.7h0M217.1 530.7h0M224.8 530.7h0M75.2 534.5h0M82.9 534.5h0M90.6 534.5h0M98.2 534.5h0M105.9 534.5h0M113.6 534.5h0M182.6 534.5h0M190.3 534.5h0M198.0 534.5h0M205.6 534.5h0M213.3 534.5h0M221.0 534.5h0" stroke="#8866ee" stroke-width="2.50" stroke-linecap="round" fill="none"/>
<path transform="scale(0.25)" d="M126 1658l349 0 0 23-3 6-8 6-24 1-6 3-12 15-5 5-172 2-9 8-2 6 0 93-3 6-10 6-95 0 0-180zM499 1658l482 0 0 46 5 9 13 8 11 15 17 14 2 6 0 18-2 7-6 6-6 3-48 1-7 6-8 11-14 10-9 14-14 10-9 13-9 7-71 0-6 3-7 7-1 23 2 6 6 6 6 3 71 0 10 9 2 6 0 33 83 0 6 3 12 16 5 4 24 1 6 3 18 20 24 1 6 2 5 6 6 9 18 14 3 9 0 18-2 6-19 15-9 14-14 10-9 13-16 11-3 6 0 23-120 0 0-92-2-6-5-6-11-8-6-9 0-82-36-1-7-4-11-15-6-4-71-1-6-2-6-7-2-6-1-47-4-6-16-11-8-12-15-11-8-12-15-12-5-5 0-47-2-6-5-5-8-3-23-1-6-5-11-15-7-3-119 0-9-8-3-6 0-46zM843 1697l-6 7-1 23 2 6 5 6 6 3 24-1 4-2 14-18 15-11 2-6-11-10-48 0-6 3zM1029 1658l145 0 0 23-4 7-6 4-48 2-9 4-14 18-6 2-18 0-7-2-14-18-16-11-3-6 0-23zM1252 1721l7-3 47 0 0 264-47 0-9-5-9-14-12-8-6-7 0-76 6-7 12-8 5-8 1-48 6-8 11-8 5-6-4-9-12-8-6-6-1-23 1-6 5-6zM126 1959l0-1 24 0 9 7 3 6-6 8-6 3-24 0 0-23zM191 2012l6-5 24-1 9 6 9 13 17 14 2 7 0 41 2 6 20 17 8 12 15 11 4 6 0 23-181 0 0-108 71 0 6-3 5-5 1-5-4-6-16-12-2-6 4-5z" fill="#cbcbcb"/>
<use href="#land" transform="translate(-110.000 501.540) scale(0.120417 -0.120200)" fill="#cbcbcb" stroke="#777" stroke-width="0.45"/>
<path d="M154.6 423.2L156.6 420.9M182.6 423.3L179.4 423.3M255.9 421.0L259.8 424.7M269.3 420.0L273.3 423.2M282.9 421.9L286.5 423.5M299.9 420.3L299.8 422.5M52.9 431.6L60.1 433.2M104.6 431.6L111.9 433.5M119.2 435.0L125.0 429.9M134.5 436.3L136.6 428.5M250.9 432.6L253.1 434.5M263.5 430.9L266.4 435.3M277.1 429.7L280.8 434.8M289.1 431.0L294.0 436.5M38.4 443.2L38.4 445.7M48.9 442.2L53.0 445.2M59.4 443.2L67.6 444.8M86.2 441.1L92.9 446.2M102.1 441.1L104.8 446.4M114.7 441.5L117.4 447.1M126.1 443.0L131.8 445.9M160.3 444.4L153.7 444.0M171.7 444.8L163.6 444.3M183.6 442.6L180.5 442.8M196.8 442.6L194.3 444.7M208.8 443.8L204.0 444.4M218.1 443.5L223.5 445.3M232.3 441.5L236.1 443.2M245.5 442.0L248.1 443.5M257.5 440.8L258.5 444.5M272.4 440.1L274.0 445.3M284.5 441.8L288.5 446.1M294.8 442.8L299.5 444.8M326.8 443.7L323.3 443.8M44.1 452.2L44.9 454.2M83.7 451.8L82.9 453.8M120.3 452.9L122.0 453.2M136.1 452.6L135.5 455.3M178.8 453.8L170.5 453.9M190.1 453.7L188.2 454.9M203.0 453.4L198.0 456.0M223.5 453.5L228.1 456.6M237.5 451.5L240.5 455.0M250.8 451.4L251.9 454.9M265.6 452.3L265.5 455.2M278.6 454.1L279.4 455.4M289.3 452.2L294.0 454.1M319.8 453.3L314.7 453.3M39.6 462.6L39.6 464.1M53.1 465.1L50.7 466.2M104.8 466.0L102.5 465.7M117.1 466.1L115.3 465.6M131.8 465.6L130.3 465.8M146.3 465.7L139.9 465.5M183.4 464.6L179.8 464.7M196.0 462.7L192.6 464.6M209.9 464.6L203.6 464.8M234.6 462.9L235.0 468.0M247.4 462.1L247.1 465.8M259.3 461.4L259.0 466.1M311.8 464.6L309.1 465.4M325.8 464.7L323.1 464.8M32.0 471.6L33.1 477.1M43.6 472.3L43.5 476.4M59.4 475.2L56.7 475.8M73.0 475.0L68.1 474.8M88.4 474.0L81.8 474.2M100.9 474.9L95.2 476.6M113.0 473.6L106.5 476.9M124.0 472.2L121.4 476.2M136.1 475.6L133.6 476.0M153.2 474.6L145.3 474.7M190.8 474.8L186.7 474.5M202.8 476.2L199.0 476.3M226.8 474.4L226.8 477.1M240.4 472.6L240.7 476.6M253.5 473.2L253.4 477.5M266.2 473.8L267.0 476.5M304.4 474.8L305.6 476.7M35.5 482.6L41.6 487.8M102.5 486.5L106.4 486.5M118.0 485.0L114.4 485.0M130.9 484.5L125.7 484.5M143.5 485.2L139.3 485.0M157.4 485.0L152.5 484.6M168.6 485.8L166.5 486.0M186.0 485.6L180.3 485.3M197.6 485.4L192.6 485.8M206.8 485.5L205.8 486.7M220.2 484.5L219.3 487.0M234.3 484.1L233.7 486.7M246.8 483.4L246.4 486.3M259.0 483.9L259.2 486.1M271.6 484.6L275.1 484.6M283.2 486.9L286.2 486.1M298.0 486.8L301.1 486.5M311.8 485.0L313.4 485.1M192.6 497.2L184.3 497.0M217.4 495.5L210.4 495.6M228.8 495.8L224.5 495.9M242.6 495.6L239.3 495.9M255.9 495.1L252.7 495.1M264.4 495.9L266.6 494.7M277.1 497.5L281.6 495.9M288.7 496.9L295.8 494.2M301.3 497.1L308.9 497.0M314.4 495.1L319.5 494.9M32.8 506.1L40.9 506.7M46.7 508.1L54.5 505.9M190.2 507.7L198.1 507.6M204.5 507.8L212.2 507.2M220.6 503.7L222.5 506.9M233.1 504.7L233.0 510.1M245.4 504.6L245.4 510.0M259.6 503.9L261.4 507.3M270.8 504.6L273.1 506.3M283.5 504.5L285.3 506.2M294.1 507.7L299.5 507.5M311.3 507.1L313.3 507.1M70.0 515.3L72.3 516.6M81.5 517.4L85.6 516.0M93.6 517.8L99.7 516.0M106.2 518.9L112.0 517.8M118.6 515.8L124.2 517.5M133.3 515.5L138.9 518.1M145.1 517.7L151.3 517.7M159.6 518.5L165.5 518.1M172.1 517.5L178.7 517.7M182.6 515.9L190.5 516.3M196.7 516.6L204.1 517.7M213.5 513.6L216.7 518.3M226.4 514.9L227.8 520.0M239.6 515.9L242.5 520.2M250.7 514.0L254.0 518.1M264.5 515.8L267.9 519.8M276.6 516.5L280.6 517.9M287.1 517.7L294.1 518.3M301.8 516.2L307.3 516.2M38.1 526.6L38.1 528.9M64.0 524.6L64.1 529.8M76.1 526.4L76.1 529.9M90.4 526.3L91.5 528.6M102.1 526.4L103.7 528.0M141.1 527.8L144.3 528.1M151.5 529.0L156.4 528.1M165.7 527.9L170.7 527.0M176.6 526.6L184.8 527.2M217.6 523.7L221.2 529.2M230.2 524.3L233.6 528.5M244.6 525.8L245.9 529.2M258.4 524.8L259.9 528.3M270.5 526.2L273.4 528.8M284.6 527.8L287.3 528.6M295.6 528.6L297.8 528.6M173.1 470.1L165.3 470.1M204.5 532.1L211.9 535.6" stroke="#000" stroke-width="1.7" stroke-linecap="round" fill="none"/><path d="M58.9 421.8L67.0 424.5M73.1 419.4L79.1 425.4M111.4 427.9L116.8 421.1M127.7 428.6L132.0 421.2M138.5 426.7L144.3 421.5M66.6 430.0L74.6 433.4M77.7 432.1L85.3 435.5M93.8 431.7L100.8 434.3M146.8 437.3L150.3 430.1M73.5 441.3L80.1 444.7M155.4 453.3L147.7 453.5M166.2 452.8L158.5 453.1M68.9 464.0L60.8 463.5M84.3 464.8L75.7 465.2M94.3 465.2L87.3 464.7M161.4 465.3L153.8 464.7M172.7 463.4L165.3 464.0M168.5 475.9L160.5 475.3M179.6 475.1L172.1 475.2M46.8 483.8L53.6 485.8M56.4 486.4L66.4 486.9M72.3 484.3L79.5 484.6M83.9 486.3L93.3 486.9M39.4 496.9L48.8 497.1M49.1 496.3L61.7 495.6M60.2 495.3L75.0 495.4M72.4 496.8L88.6 497.1M85.0 497.8L102.8 496.9M99.0 497.7L117.0 496.9M111.6 498.2L129.4 496.8M126.0 494.8L140.6 495.3M138.0 495.4L152.7 496.2M152.4 496.5L167.0 495.6M170.7 496.1L179.3 496.4M206.3 495.6L198.3 495.6M58.6 509.1L66.1 504.0M72.6 509.6L80.8 505.8M83.3 509.2L91.9 505.9M98.2 509.0L106.6 507.1M111.2 507.4L120.1 507.4M123.1 507.0L132.0 507.5M136.2 506.9L145.4 506.6M147.9 505.9L157.4 506.0M163.0 507.7L171.8 507.5M175.5 508.1L182.9 507.6M189.1 528.4L197.3 528.5M202.2 524.3L208.9 527.9M67.6 413.8L73.5 418.5M119.5 423.1L122.8 415.7M132.7 420.8L137.7 414.8M72.5 425.4L78.3 429.5M154.2 459.0L147.0 459.2M70.1 470.7L61.8 471.0M82.6 470.6L74.9 471.1M47.3 490.6L55.7 491.5M57.3 490.5L69.2 489.8M70.9 490.3L81.3 489.6M83.4 490.8L94.1 490.4M98.6 489.5L107.7 490.2M111.8 491.0L120.9 491.3M137.8 492.1L146.3 492.1M52.9 501.2L61.8 500.1M64.7 501.3L74.9 500.0M75.7 501.3L88.0 500.9M89.5 501.9L101.2 500.2M102.0 500.5L115.8 501.2M116.1 501.9L127.0 502.0M130.8 500.5L140.3 500.4M141.2 501.9L152.5 502.2M154.5 501.9L165.2 501.1M170.5 501.5L178.2 500.9M188.2 532.0L195.6 531.6M54.2 494.7L66.0 493.9M65.7 494.1L76.8 494.7M78.2 492.5L92.4 492.6M89.7 495.1L106.2 494.2M103.4 493.0L115.9 493.1M116.1 492.8L129.9 493.2M86.6 504.8L96.6 502.4M100.3 503.6L111.9 503.2M113.2 502.7L124.7 503.5" stroke="#000" stroke-width="2.0" stroke-linecap="round" fill="none"/><path d="M69.5 425.3L66.1 425.6L67.0 423.1ZM81.0 427.3L77.8 426.0L79.7 424.1ZM118.5 419.0L117.6 422.3L115.4 420.6ZM133.3 419.0L132.9 422.3L130.6 421.0ZM146.1 420.0L144.8 422.8L143.1 420.9ZM77.1 434.4L73.6 434.4L74.7 431.9ZM87.7 436.5L84.4 436.5L85.4 434.1ZM102.8 435.1L99.9 435.2L100.7 433.1ZM151.4 427.9L151.3 431.1L149.0 430.0ZM82.0 445.6L79.1 445.4L80.1 443.4ZM145.4 453.6L148.1 452.3L148.2 454.7ZM156.1 453.2L158.9 451.9L159.0 454.3ZM58.3 463.4L61.4 462.3L61.2 464.8ZM73.1 465.3L76.2 463.8L76.3 466.5ZM85.2 464.5L87.8 463.6L87.7 465.8ZM151.5 464.5L154.4 463.6L154.2 466.0ZM163.2 464.2L165.8 462.8L165.9 465.1ZM158.0 475.1L161.1 474.1L160.9 476.6ZM169.8 475.2L172.5 474.0L172.6 476.4ZM55.5 486.4L52.8 486.7L53.4 484.6ZM69.6 487.1L65.8 488.5L66.0 485.3ZM81.7 484.7L79.0 485.7L79.1 483.5ZM96.3 487.1L92.7 488.3L92.9 485.4ZM51.8 497.2L48.3 498.6L48.3 495.6ZM65.9 495.4L61.3 497.7L61.1 493.7ZM80.0 495.4L74.5 497.8L74.5 493.0ZM94.2 497.2L88.1 499.7L88.2 494.4ZM108.8 496.6L102.5 499.7L102.2 494.3ZM123.0 496.7L116.6 499.7L116.4 494.3ZM135.4 496.3L129.1 499.5L128.7 494.2ZM145.5 495.4L140.0 497.6L140.1 492.9ZM157.7 496.5L152.0 498.6L152.3 493.8ZM172.1 495.2L166.7 498.0L166.4 493.2ZM181.9 496.5L178.7 497.7L178.8 495.0ZM195.9 495.6L198.8 494.3L198.8 496.8ZM68.4 502.4L66.5 505.4L64.9 503.1ZM83.3 504.6L80.9 507.2L79.7 504.7ZM94.5 504.8L91.9 507.4L90.9 504.7ZM109.2 506.5L106.4 508.5L105.8 505.9ZM122.8 507.4L119.6 508.8L119.6 506.0ZM134.7 507.7L131.4 508.9L131.6 506.1ZM148.3 506.5L144.9 508.1L144.8 505.2ZM160.5 506.1L156.9 507.5L157.0 504.5ZM174.5 507.5L171.3 508.9L171.3 506.2ZM185.1 507.5L182.5 508.8L182.3 506.5ZM199.8 528.6L196.8 529.8L196.8 527.2ZM211.0 528.9L207.9 528.7L209.0 526.6ZM75.3 420.0L72.4 419.2L73.9 417.3ZM123.8 413.5L123.7 416.7L121.4 415.7ZM139.1 413.0L138.3 416.0L136.4 414.4ZM80.0 430.7L77.2 430.1L78.5 428.3ZM144.9 459.3L147.4 458.1L147.5 460.3ZM59.2 471.1L62.2 469.7L62.3 472.3ZM72.6 471.2L75.3 469.8L75.4 472.2ZM58.3 491.8L55.1 492.8L55.4 490.2ZM73.2 489.6L68.8 491.7L68.6 487.9ZM84.6 489.4L80.9 491.2L80.7 488.0ZM97.6 490.3L93.7 492.1L93.5 488.7ZM110.5 490.4L107.1 491.6L107.3 488.7ZM123.8 491.4L120.4 492.7L120.5 489.8ZM149.0 492.0L145.8 493.4L145.8 490.7ZM64.6 499.7L61.5 501.5L61.2 498.7ZM78.2 499.6L74.6 501.7L74.2 498.5ZM92.2 500.7L87.6 502.9L87.5 498.9ZM105.1 499.6L101.0 502.1L100.5 498.4ZM120.5 501.4L115.2 503.4L115.5 498.9ZM130.5 502.1L126.4 503.8L126.5 500.3ZM143.3 500.4L139.8 501.9L139.8 498.9ZM156.2 502.4L152.0 504.0L152.1 500.4ZM168.7 500.8L164.8 502.8L164.6 499.4ZM180.5 500.8L177.8 502.2L177.6 499.8ZM197.8 531.5L195.2 532.8L195.1 530.5ZM70.0 493.6L65.7 495.8L65.4 492.0ZM80.5 494.9L76.3 496.4L76.4 492.9ZM97.3 492.7L91.9 494.9L92.0 490.4ZM112.0 493.9L105.9 496.9L105.6 491.5ZM120.1 493.2L115.4 495.1L115.5 491.1ZM134.6 493.4L129.3 495.4L129.5 491.0ZM99.8 501.6L96.5 504.1L95.7 500.9ZM115.8 503.1L111.5 505.1L111.4 501.3ZM128.5 503.7L124.1 505.3L124.3 501.6Z" fill="#000" stroke="#000" stroke-width="0.6" stroke-linejoin="round"/><path d="M156.2 421.4L156.3 421.2M180.1 423.3L179.8 423.3M258.7 423.7L259.5 424.4M272.2 422.3L273.0 422.9M285.6 423.1L286.2 423.3M299.8 422.1L299.8 422.1M58.6 432.8L59.8 433.1M110.3 433.1L111.5 433.4M123.8 430.9L124.7 430.1M136.2 430.0L136.5 428.9M252.6 434.1L252.8 434.2M265.6 434.1L266.2 434.9M279.9 433.5L280.6 434.4M292.9 435.3L293.7 436.2M38.4 445.2L38.4 445.3M51.9 444.4L52.7 445.0M66.0 444.5L67.2 444.7M91.6 445.2L92.5 445.9M104.1 445.0L104.7 446.0M116.7 445.7L117.2 446.8M130.4 445.2L131.4 445.7M155.2 444.1L154.0 444.0M165.2 444.4L164.0 444.4M181.2 442.8L180.9 442.8M194.9 444.2L194.6 444.4M205.3 444.2L204.4 444.4M222.0 444.8L223.1 445.2M235.1 442.8L235.8 443.0M247.6 443.1L247.8 443.3M258.2 443.6L258.4 444.1M273.5 443.9L273.9 444.9M287.4 444.9L288.2 445.8M298.2 444.3L299.1 444.7M324.1 443.7L323.7 443.8M44.8 453.8L44.7 453.8M83.0 453.5L83.0 453.4M121.8 453.2L121.6 453.1M135.7 454.7L135.6 454.9M172.1 453.9L170.9 453.9M188.5 454.7L188.5 454.7M199.4 455.3L198.4 455.8M226.8 455.7L227.7 456.4M239.7 454.0L240.2 454.6M251.7 454.1L251.8 454.6M265.5 454.6L265.5 454.8M279.3 455.3L279.2 455.1M292.7 453.6L293.6 453.9M316.1 453.3L315.1 453.3M39.6 464.0L39.6 463.7M51.2 466.0L51.1 466.0M102.9 465.7L102.9 465.7M115.6 465.7L115.7 465.7M130.4 465.7L130.7 465.7M141.5 465.5L140.3 465.5M180.7 464.7L180.2 464.7M193.4 464.1L192.9 464.4M205.2 464.7L204.0 464.8M234.9 466.6L234.9 467.6M247.2 464.9L247.1 465.4M259.1 464.8L259.0 465.7M309.7 465.2L309.5 465.3M323.7 464.8L323.5 464.8M32.8 475.5L33.0 476.7M43.6 475.4L43.6 476.0M57.3 475.7L57.1 475.7M69.4 474.8L68.5 474.8M83.4 474.1L82.2 474.2M96.7 476.1L95.6 476.5M108.0 476.1L106.9 476.7M122.1 475.1L121.6 475.8M134.1 475.9L134.0 476.0M146.9 474.7L145.7 474.7M187.7 474.6L187.1 474.5M199.9 476.3L199.4 476.3M226.8 476.6L226.8 476.7M240.6 475.6L240.7 476.2M253.4 476.4L253.4 477.1M266.8 476.0L266.9 476.2M305.4 476.4L305.4 476.4M40.4 486.7L41.3 487.5M105.4 486.5L106.0 486.5M115.3 485.0L114.8 485.0M127.1 484.5L126.1 484.5M140.4 485.0L139.7 485.0M153.8 484.7L152.9 484.6M166.8 486.0L166.9 486.0M181.9 485.4L180.7 485.3M194.0 485.7L193.0 485.8M205.9 486.6L206.1 486.4M219.4 486.5L219.4 486.6M233.8 486.2L233.7 486.4M246.5 485.7L246.5 485.9M259.2 485.7L259.2 485.7M274.3 484.6L274.7 484.6M285.5 486.3L285.8 486.2M300.4 486.6L300.7 486.6M313.2 485.1L313.0 485.1M185.9 497.1L184.7 497.1M212.0 495.5L210.8 495.5M225.6 495.9L224.9 495.9M240.1 495.8L239.7 495.8M253.4 495.1L253.1 495.1M266.2 495.0L266.2 494.9M280.4 496.3L281.2 496.0M294.3 494.7L295.5 494.3M307.3 497.0L308.5 497.0M318.1 495.0L319.1 495.0M39.4 506.6L40.5 506.7M53.0 506.4L54.1 506.0M196.5 507.7L197.7 507.6M210.6 507.3L211.8 507.2M222.0 506.1L222.2 506.5M233.1 508.6L233.0 509.7M245.4 508.5L245.4 509.6M260.9 506.4L261.2 506.9M272.6 506.0L272.8 506.1M285.0 505.9L285.0 505.9M298.0 507.6L299.1 507.6M313.0 507.1L312.9 507.1M71.9 516.4L72.0 516.4M84.5 516.4L85.2 516.2M98.2 516.5L99.3 516.1M110.4 518.1L111.6 517.9M122.7 517.1L123.8 517.4M137.4 517.4L138.5 517.9M149.7 517.7L150.9 517.7M163.9 518.2L165.1 518.2M177.1 517.7L178.3 517.7M188.9 516.2L190.1 516.2M202.5 517.5L203.7 517.6M215.8 517.0L216.5 518.0M227.4 518.6L227.7 519.6M241.7 519.0L242.2 519.9M253.1 517.0L253.7 517.8M266.9 518.7L267.6 519.5M279.6 517.6L280.3 517.8M292.5 518.1L293.7 518.2M305.7 516.2L306.9 516.2M38.1 528.5L38.1 528.5M64.1 528.3L64.1 529.4M76.1 529.0L76.1 529.5M91.3 528.2L91.3 528.2M103.4 527.7L103.4 527.7M143.6 528.0L143.9 528.1M155.0 528.4L156.0 528.2M169.3 527.3L170.3 527.1M183.2 527.1L184.4 527.2M220.4 527.9L221.0 528.9M232.7 527.3L233.3 528.2M245.6 528.4L245.8 528.9M259.5 527.4L259.8 527.9M272.7 528.2L273.1 528.6M286.7 528.4L286.9 528.5M297.4 528.6L297.4 528.6M166.9 470.1L165.7 470.1M210.5 535.0L211.6 535.5" stroke="#000" stroke-width="2.8" stroke-linecap="round" fill="none"/>
</g>
<rect x="308.8" y="417.70" width="14.7" height="16.30" fill="#fff" stroke="#777" stroke-width="0.5"/>
<text x="316.2" y="424.20" text-anchor="middle" font-size="7.2">1</text>
<path d="M310.1 428.50H319.0" stroke="#000" stroke-width="1.5"/>
<path d="M322.0 428.50L318.0 426.80L318.0 430.20Z" fill="#000"/>
<text x="34.10" y="410.60" font-size="16.6">(c) SOND 850hPa uv &amp; SST</text>
<rect x="34.50" y="417.40" width="289.00" height="120.20" fill="none" stroke="#000" stroke-width="1.2"/>
<path d="M30.20 537.60H34.50M323.50 537.60H327.80M32.30 525.58H34.50M323.50 525.58H325.70M32.30 513.56H34.50M323.50 513.56H325.70M30.20 501.54H34.50M323.50 501.54H327.80M32.30 489.52H34.50M323.50 489.52H325.70M32.30 477.50H34.50M323.50 477.50H325.70M30.20 465.48H34.50M323.50 465.48H327.80M32.30 453.46H34.50M323.50 453.46H325.70M32.30 441.44H34.50M323.50 441.44H325.70M30.20 429.42H34.50M323.50 429.42H327.80M32.30 417.40H34.50M323.50 417.40H325.70M34.50 537.60V541.90M46.54 537.60V539.80M58.58 537.60V539.80M70.62 537.60V541.90M82.67 537.60V539.80M94.71 537.60V539.80M106.75 537.60V541.90M118.79 537.60V539.80M130.83 537.60V539.80M142.88 537.60V541.90M154.92 537.60V539.80M166.96 537.60V539.80M179.00 537.60V541.90M191.04 537.60V539.80M203.08 537.60V539.80M215.12 537.60V541.90M227.17 537.60V539.80M239.21 537.60V539.80M251.25 537.60V541.90M263.29 537.60V539.80M275.33 537.60V539.80M287.38 537.60V541.90M299.42 537.60V539.80M311.46 537.60V539.80M323.50 537.60V541.90" stroke="#000" stroke-width="1" fill="none"/>
<text x="22.90" y="433.92" text-anchor="end" font-size="12.4">60N</text>
<text x="22.90" y="469.98" text-anchor="end" font-size="12.4">30N</text>
<text x="22.90" y="506.04" text-anchor="end" font-size="12.4">0</text>
<text x="22.90" y="542.10" text-anchor="end" font-size="12.4">30S</text>
<text x="34.50" y="559.60" text-anchor="middle" font-size="12.4">120E</text>
<text x="70.62" y="559.60" text-anchor="middle" font-size="12.4">150E</text>
<text x="106.75" y="559.60" text-anchor="middle" font-size="12.4">180</text>
<text x="142.88" y="559.60" text-anchor="middle" font-size="12.4">150W</text>
<text x="179.00" y="559.60" text-anchor="middle" font-size="12.4">120W</text>
<text x="215.12" y="559.60" text-anchor="middle" font-size="12.4">90W</text>
<text x="251.25" y="559.60" text-anchor="middle" font-size="12.4">60W</text>
<text x="287.38" y="559.60" text-anchor="middle" font-size="12.4">30W</text>
<text x="323.50" y="559.60" text-anchor="middle" font-size="12.4">0</text>
<g clip-path="url(#cd)">
<rect x="397.1" y="48.5" width="283.30" height="118.30" fill="#b2e2dc"/>
<rect x="397.1" y="48.5" width="283.30" height="118.30" fill="#b4e4dc"/>
<g transform="scale(0.25)">
<path d="M1688 222l5-3 6-1 64 0 5 1 8 9-2 6-14 11-15 18-6 2-17 0-8-3-14-17-15-11-1-6 4-6zM2656 222l8-4 10 10-2 6-8 7-6-3-5-4-1-6 4-6zM2047 314l24-2 5 7 2 6-7 11-7 6-7 12-10 5-5-4-5-7 0-23 3-6 7-5zM2238 336l19 0 6 2 4 10 6 23-3 5-7 7-35 0-2 5 0 28-2 6-29 23-25 3-11-3-2-6 1-1 19-16 0-6-2-2-5-6-6-1-18 0-8 4-5 5-2 6 0 17-4 6-10 4-23 5-26-9-6-6 19-17 9-11 15-12 8-11 15-12 7-10 5-5 6-1 47 1 17 20 6 2 10-1 0-34 4-6 8-6zM2451 336l21 0 6 4 11 14 19 17-1 4-16 13-10 11-9 8-47-1-10-13 1-22 27-30 8-5zM1897 382l11-5 17 0 6 0 10 5 7 11 3 29 3 8 5-8 5-23 4-6 4-2 29-8 23 0 6 3 6 7 7 23-1 7-6 9-35 17-28 7-19 22-23 0-23 3-47 11-9-1-14-6-23-1-18 7-29 5-23 0-17-5-12-6-74-17-24-17-5-6 10-8 23 0 47-23 23-1 11 3 10 12 26 19 5 1 70-1 23-16 18 0 6-2 4-13 1-23 7-11zM2095 508l69 2 99 1 10 2 42 20 17 2 24-2 10 3-2 6-8 7-47 0-15 4-14 2-23-1-18-4-11-1-2 10-10 12-6 3-27 8-13 13-6-2-9-11-1-23-8-13-6-3-23 1-8 4-7 11 14 34 7 8 1 9-7 10-6 0-3 2-2 13-6 6-6 3-23-1-10-10 10-7 23-5 12-1 2-4 0-6-3-5-11-4-14-13-1-6 4-23-6-8-6-2-24 0-46-5-23 5-29-6-41 0-23 5-24 1-23-6-52-1-2 0-3-6 11-1 162-1 12-6 12-17 117-3zM2210 528l-7 8 7 9 6 4 10-1-1-12-3-5-6-5-6 2zM2438 513l11-3 7 3-7 6-11-6zM2534 536l8-4 5 2 3 2 0 12-3 1-14-1 1-12zM1751 553l12-3 5 1 2 2 7 35 0 5-3 3-29-5-6-3-3-6 3-23 6-5 6-1zM2488 553l42-4 3 4 0 6-6 6-19 6-30 2-6-2-6-6 0-6 22-6zM2550 553l3-4 18 1 13 9 1 6-3 6-6 4-5 3-6 0-6-3-6-7-3-15zM2350 576l6-3 5 3 5 6-3 6-7 2-6-2-5-6 5-6zM2631 582l9-4 24 1 6 3 0 6-6 2-24 0-7-2-2-6zM1875 593l10-3 23-1 46 7 24 0 11 6 6 7 0 24-11 12-6 4-53 2-17-1-23-6-12-11-6-23 0-5 2-6 6-6zM1777 599l3-3 6 0 30 9 2 5-3 6-23 25-6 1-8-9-1-34zM2393 599l9-3 12 5 24 32-1 11-12 1-10 11 0 23-24 0 0-23-6-23 0-23 2-5 6-6zM1644 605l2-2 24 2 14 5 18 18 3 5-12 11-23-1-24-25-4-8 2-5zM2307 645l2-1 6 4 5 8 0 23-23 0 0-23 3-6 7-5zM2438 645l34-1 6 3 8 9 0 23-48 0 0-34zM1620 650l9 1 7 5 0 23-24 0 0-23 8-6zM2612 650l28 0 11 6 0 23-47 0 0-23 8-6z" fill="#88d4c4"/>
<path d="M2445 365l4-4 5 1 6 6 1 3-1 3-6 7-5 1-8-6-2-5 6-6zM1903 393l5-4 23 1 4 3 7 23 2 29 10 9 4 8-1 6-3 2-23 0-70 13-23-10-29-1-22 7-14 12-28 1-7-1-16-12-56-11-7-6 0-17 11-8 23-6 6 2 12 12 5 3 23 0 29 12 64 0 6-1 23-11 24 0 6-3 6-6 4-17 2-29zM1994 393l7-2 6 2 10 6 7 7 6 10-2 6-45 23-5 1-8-1-2-6 5-23 5-9 16-14zM2093 433l7 0 6 6-5 6-9 0-5-6 6-6zM1975 531l3-5 6-1 63 0 6 3 7 8-13 5-46-2-23 2-10-5 7-5zM2159 531l5-4 6 0 5 5 7 10 19 17-8 7-23 5-6-7-3-16-6-12 4-5zM2254 531l9-5 23 6 9 4-9 7-23 0-13-7 4-5zM2492 559l12 0-9 4-3-4zM2564 559l8 0-1 5-6-3-1-2zM2094 576l7 6-1 4-6 2-3-6 3-6zM1893 599l15-3 46 8 24 0 6 6-2 23-4 5-24 0-23 5-23-5-23-2-3-3-3-5-1-18 3-5 4-3 8-3zM2402 605l7 5 4 23-11 9-4-9-1-5 0-18 5-5z" fill="#5cb4a6"/>
<path d="M1925 411l6-3 3 8-3 14-6-3-4-5-1-6 5-5zM1998 411l3-3 10 8-4 6-6 3-7-3-2-6 6-5zM1691 456l8 0 17 4 23 0 7 2 7 6-8 8-6 0-17-6-29-1-4-1-4-6 6-6zM1902 456l6-1 8 7-3 6-5 1-47 3-10-4 5-6 5-2 24 0 17-4zM1905 605l26 1 12 4 0 18-5 5-7 3-8-3-26-23 8-5z" fill="#30958a"/>
<path d="M1577 182l82 0 0 23-7 10-6 3-23 0-6 4-11 16-6 3-23 0 0-59zM1895 182l71 0 0 23 3 6 9 7 69 0 6 2 12 16 13 9 5 6-1 5-17 14-12 16-6 3-46 1-17 18-6 4-24 0-23 6-13 7-10 11-47 0-13 12 0 11-33 1-23 5-13 6-11 11-5 1-18 0-6 3-11 11-6 3-29 2-47 23-23 0-23 12-23 0 0-77 46 0 18-5 29-3 13-4 4-6 19-17 0-23 3-6 6-5 7-2 41 0 5-2 16-19 13-10 10-13 8-4 93 0 8-7 2-6-4-6-12-8-6-7-1-25zM2249 182l24 0 0 23-3 6-7 6-6-2-8-10 0-23zM2509 182l71 0 0 23-4 6-29 29-5 1-24-1-6-6-3-6 0-46zM2302 222l7-4 47 0 6 4 5 6 0 6 0 40-1 5-5 6-15 11-2 6 1 23 11 5 23 0 17 3 12 6 7 9-34 34-25 1-6 4-5 6-1 12-12 2-10 9 0 6 4 5 6 3 9-8 3-6 0-9 58 0 18 15 5 2 12 1 35 0 8-3 15-13 6-2 17 0 9 4 15 18 5 2 29 0 4-3 1-12 7-7 6-2 23 1 9 8-1 6-5 6-9 3-29 0-2 2 1 12 7 7 6 2 70 1 8 7 2 6 1 10 58 0 0 95-46 0-12-4-17-2-23 0-18 5-4-1-13-12-35-20-6-10-6-6-6-3-11 1-13 4-5 4-3 7-8 7-29 5-29 2-6 4-4 5 2 6 31 30 11 1 3-3 0-5 6-6 9-2 23-1 6 3 3 6 0 5-3 3-41 0-3 3 0 17-3 4-29 0-5-2-18-19-8-6-24-5-8-6 0-46-6-7-6-4-23 0-24 5-16-5-19-12-34-8-24 0-23-3-23 2-29 0-47-8-17 0-29 6-47 0-23 3-23 0-6 4-12 15-6 4-168 2-23 4-18 8-8 6-6 11-6 29 3 5 6 6 14 6 6 5 0 69-48 0 0-23 23-23-1-5-24-21-40-9-18-7-7 2-6 6-3 11 4 23-11 4-9-4-2-5 0-18-2-5-4-5-6-4-23 0 0-23 23 0 10-8-4-6-6-1-23 0 0-89 46 0 111 29 29 3 52-8 23 0 23 4 47-10 46-1 24-24 23-2 23-13 23-1 47 15 6 1 23-2 17-5 24 5 6-1 46-10 23 4 29-8 27-23 2-6 1-23 5-6 12-8 5-8-11-11-23 0-7-12-6-23 3-6 7-5 26-2 10-10-1-6-9-7-23 0-6-3-6-7-1-5 1-23 6-7 12-7 10-15zM2431 502l-6 0-6 5-4 6 4 7 12 7 18 4 9-6 10-12-4-5-10-6-23 0zM2565 480l-6 5-2 6 8 9 15 2 0 11 2 2 12 4 33-6-10-10-35-1-5-17-6-6-6 1zM2664 478l-10 7-3 6 7 8 6 2 10-10 0-12-10-1zM2185 245l8-2 8 8-1 5-7 8-6-1-7-7 0-5 5-6zM2422 268l9-3 18 0 5 3 6 6 2 5-1 23-7 8-5 2-18 0-6 0-6-5-3-5-1-23 2-5 5-6zM2540 268l7-3 140 0 23 24 23 0 0 71-139 0-10 5-7 11-6 6-6-1-18-20-5-1-18 0-6-3-13-15-19-17 0-23 3-7 6-5 6-1 17 0 6-4 16-17zM1577 291l0-2 69 0 11 7 1 6-6 7-6 3-69 0 0-21zM2093 291l7-2 40 0 6 1 6 6 2 6-4 6-15 11-8 12-15 11-8 12-4 3-6 2-10-11 6-23-5-23 2-6 6-5zM1848 365l2-5 6 0 5 0 6 5 4 6 1 22-3 6-8 7-11 1-2 9-3 6-7 7-6-1-6-6 1-7 5-6 16-4 0-40zM1971 365l7-5 23 0 6 3 6 8-12 4-23 2-11-6 4-6zM1985 553l16-4 6 0 27 4 23 6 4 6 0 17 1 6 18 17 0 5-27 8-8 4-6 6-2 5 0 46-47 0 0-23 22-23 1-37-12 0-12-6-11-2-47-1-13-5-20-17 0-6 10-4 46 0 24 2 7-4zM2018 582l-5 6 0 5 5 3 6 0 11-8-1-6-4-2-6-1-6 3zM1784 559l8-4 40 0 13 4 3 6 1 45 12 14 4 9 8 12 22 11 0 23-94 0 0-23 25-28 4-18-1-5-2-6-6-6-14-5-15-14-6-7-2-8zM2115 559l8-4 17 0 6 4 0 6-6 8-17 0-6-5-2-9zM2234 576l5-3 4 3 5 6 3 14 6 0 9-3 13-17 7-3 23 0 10 9 1 11-16 6-14 17-4 3-6 1-29 0-2-4 0-17-4-3-17 0-2 3 1 11 6 7 16 5 0 11-10 10-23 1-6-3-7-8-1-23 2-5 6-7 12-2 4-3 2-11 6-6zM2320 599l1-3 11 0 24 6 7 3 3 5-10 10-24 0-10-10-2-11zM2533 599l3-3 75 0 24 6 29 0 6 3 11 11 12 8 4 9-10 10-23 1-24-6-29-2-6-3-10-11-7-2-52 0-3 2-1 11-8 9-6 2-17 0-6-3-8-8-1-11 3-2 41 0 3-4 0-17zM2138 605l2-5 6-1 14 11 15 7 6 6 3 10-5 23 0 23-24 0 0-23-20-7-7-4-4-12 1-5 13-23z" fill="#f2e2b4"/>
<path d="M2527 182l35 0 0 23-3 6-12 11-7 0-10-8-3-9 0-23zM1938 262l16-3 24 0 11 6 6 9-1 5-16 16-24 0-23 11-40 11-12 1-19-4-4 1-18 19-6 4-23 5-41 21-29 2-8 5-15 13-23 6-47 23-23 2-23 10-23 0 0-50 46 0 29-11 44-10 8-5 18-15 29-8 12-12 5-3 18-4 29-1 8-4 9-11 6-2 23-1 24-6 7-3 10-11 6-3 23 0 7-3zM2543 291l4-2 134 0 6 0 10 13-4 6-12 8-11 15-6 4-93 1-10-5-8-12-15-11-4-6 3-6 6-5zM2355 342l24 0 12 6-12 12-23 0-6-4-6-8 11-6zM2353 433l3-2 46 0 23 5 47 1 23-5 6 1 6 6 2 6-1 23-7 8-6 2-23 1-11 12-7 2-5 0-9-2-9-10-6-3-23 0-8 7-7 11-20 17-29 11-6 1-6-2-7-4-10-9-29-9-41-2-23-5-23 4-23 1-37-8 1-6 7-6 11-4 18-4 17-8 29-2 17 10 6 0 18-9 38-11 14-3 23 0 9-3 12-12zM2021 456l9-2 17 0 37 14 0 17-2 6-11 3-47 0-23 5-29 0-6 3-3 11-9 9-46 0-23 3-122 1-31 10-4 4-7 25-10 23-6 5-6 2-29-2-12-5-12-16-15-13-31-7-23 0 0-77 46 0 105 26 40 5 47-7 46 2 47-5 46 0 24-24 23 0 20-16zM2709 502l24 0 0 47-46 0-35 8-35 0-11-5-25-16 24-11 35-9 29 4 18 5 7-6 8-11 7-6zM2470 531l8-6 17 0 6 5 2 6-8 4-23 0-9-4 7-5zM1987 559l14-5 6 0 24 5 0 6-30 13-6-2-7-5-3-6 2-6zM2144 616l2 0 23 12 3 5-3 6-5 5-18 0-9-5-5-6 2-5 6-11 4-1zM1835 639l3-1 18 4 16 14 0 23-53 0 0-23 8-11 8-6z" fill="#e5c88a"/>
<path d="M2539 182l11 0 0 23-3 4-5 0-3-4 0-23zM1948 274l6-3 24 0 3 3 1 5-4 4-24 0-8-4 2-5zM1879 296l6-1 4 1 4 6-8 4-6-2-5-2 5-6zM1787 319l28 0 8 6-8 4-35 7-3-5 0-6 10-6zM1767 336l10 0 0 12-9 4-25 2-13-6 9-5 28-7zM1661 371l9-3 23-2 13 5-13 7-29 5-5-1 2-11zM1577 388l0-5 81 0 1 10-13 8-11 4-35 8-23 0 0-25zM2304 462l5-2 23 0 29 14 8 5 4 12-4 5-19 17-12 6-6 1-3-1-9-6-11-11-23-8-47-1-10-2 5-6 29-7 23-1 9-9 9-6zM2019 468l5-5 6-1 17 0 13 6-7 7-6 3-23-1-5-9zM1577 485l0-4 46 0 75 21 65 9 52-6 46 1 24-1 23 2 46 1 3 5-3 3-46 0-29 5-87 0-29-3-41 12-14 6-2 23-5 23-8 6-18-1-5-1-5-4-4-17-4-6-5-3-36-8-39-2 0-61zM1977 485l30 0 3 6-9 2-23 0-5-2 4-6zM2165 485l28-6 6 6 0 6-12 2-23-1-6-1 7-6zM2629 525l11-2 6 1 27 12-15 10-12 4-11 1-18-2-13-7-5-6 12-6 18-5zM2000 559l5 0 0 6-4 1-2-1 1-6zM2146 628l5 5-5 2-5-2 5-5zM1838 650l10 6 0 23-18 0 0-23 8-6z" fill="#d2a45a"/>
<path d="M1577 393l0-2 46 0 9 2-11 6-44 2 0-8zM2323 473l9-1 24 12 5 7-14 11-9 11-6 3-4-3-7-11-6-5-16-6 3-6 7-7 14-5zM1577 491l0-4 46 0 70 22 61 4-15 4-35 5-17 6-17 4-18 9-6 2-69-3 0-49zM1777 513l15-2 23-1 70 1 10 2-16 3-87 0-15-3zM2630 531l10-2 16 7-7 6-9 3-17-2-6-2-6-5 19-5z" fill="#bc7e30"/>
<path d="M2330 485l2-1 11 7-11 10-10-10 8-6zM1577 502l46 0 18 4 29 3 13 4-13 7-24 5-69 0 0-23zM2630 536l10-1 3 1-3 2-10-2z" fill="#9e5e1a"/>
</g>
<path d="M424.2 51.9h0M431.9 51.9h0M439.6 51.9h0M447.2 51.9h0M577.6 51.9h0M585.3 51.9h0M593.0 51.9h0M600.6 51.9h0M608.3 51.9h0M616.0 51.9h0M623.6 51.9h0M662.0 51.9h0M669.7 51.9h0M428.1 55.7h0M435.7 55.7h0M443.4 55.7h0M527.8 55.7h0M535.4 55.7h0M543.1 55.7h0M550.8 55.7h0M558.4 55.7h0M566.1 55.7h0M604.5 55.7h0M612.1 55.7h0M665.8 55.7h0M673.5 55.7h0M424.2 59.5h0M431.9 59.5h0M439.6 59.5h0M447.2 59.5h0M523.9 59.5h0M531.6 59.5h0M539.3 59.5h0M546.9 59.5h0M554.6 59.5h0M562.3 59.5h0M569.9 59.5h0M662.0 59.5h0M669.7 59.5h0M428.1 63.3h0M435.7 63.3h0M443.4 63.3h0M527.8 63.3h0M535.4 63.3h0M401.2 67.1h0M408.9 67.1h0M431.9 67.1h0M439.6 67.1h0M485.6 67.1h0M493.2 67.1h0M474.1 70.9h0M481.7 70.9h0M489.4 70.9h0M627.5 70.9h0M462.6 74.7h0M470.2 74.7h0M477.9 74.7h0M485.6 74.7h0M646.6 74.7h0M654.3 74.7h0M662.0 74.7h0M669.7 74.7h0M677.3 74.7h0M451.1 78.5h0M458.7 78.5h0M466.4 78.5h0M474.1 78.5h0M481.7 78.5h0M642.8 78.5h0M650.5 78.5h0M658.2 78.5h0M665.8 78.5h0M673.5 78.5h0M439.6 82.3h0M447.2 82.3h0M454.9 82.3h0M462.6 82.3h0M470.2 82.3h0M516.3 82.3h0M646.6 82.3h0M654.3 82.3h0M662.0 82.3h0M669.7 82.3h0M677.3 82.3h0M428.1 86.1h0M435.7 86.1h0M443.4 86.1h0M451.1 86.1h0M458.7 86.1h0M512.4 86.1h0M520.1 86.1h0M589.1 86.1h0M596.8 86.1h0M612.1 86.1h0M619.8 86.1h0M416.5 89.9h0M424.2 89.9h0M431.9 89.9h0M439.6 89.9h0M447.2 89.9h0M562.3 89.9h0M593.0 89.9h0M608.3 89.9h0M616.0 89.9h0M623.6 89.9h0M405.0 93.7h0M412.7 93.7h0M420.4 93.7h0M428.1 93.7h0M527.8 93.7h0M535.4 93.7h0M543.1 93.7h0M558.4 93.7h0M612.1 93.7h0M619.8 93.7h0M627.5 93.7h0M401.2 97.5h0M408.9 97.5h0M416.5 97.5h0M477.9 97.5h0M516.3 97.5h0M523.9 97.5h0M531.6 97.5h0M539.3 97.5h0M546.9 97.5h0M608.3 97.5h0M616.0 97.5h0M623.6 97.5h0M662.0 97.5h0M669.7 97.5h0M677.3 97.5h0M405.0 101.3h0M412.7 101.3h0M474.1 101.3h0M481.7 101.3h0M489.4 101.3h0M497.1 101.3h0M504.8 101.3h0M520.1 101.3h0M527.8 101.3h0M535.4 101.3h0M543.1 101.3h0M550.8 101.3h0M665.8 101.3h0M673.5 101.3h0M424.2 105.1h0M477.9 105.1h0M485.6 105.1h0M493.2 105.1h0M500.9 105.1h0M516.3 105.1h0M523.9 105.1h0M531.6 105.1h0M539.3 105.1h0M546.9 105.1h0M662.0 105.1h0M669.7 105.1h0M677.3 105.1h0M412.7 108.9h0M420.4 108.9h0M428.1 108.9h0M435.7 108.9h0M474.1 108.9h0M481.7 108.9h0M489.4 108.9h0M497.1 108.9h0M520.1 108.9h0M527.8 108.9h0M535.4 108.9h0M543.1 108.9h0M550.8 108.9h0M573.8 108.9h0M581.5 108.9h0M589.1 108.9h0M596.8 108.9h0M604.5 108.9h0M612.1 108.9h0M619.8 108.9h0M627.5 108.9h0M665.8 108.9h0M673.5 108.9h0M416.5 112.7h0M424.2 112.7h0M431.9 112.7h0M439.6 112.7h0M447.2 112.7h0M470.2 112.7h0M477.9 112.7h0M485.6 112.7h0M493.2 112.7h0M516.3 112.7h0M523.9 112.7h0M531.6 112.7h0M539.3 112.7h0M562.3 112.7h0M569.9 112.7h0M577.6 112.7h0M585.3 112.7h0M593.0 112.7h0M600.6 112.7h0M608.3 112.7h0M616.0 112.7h0M623.6 112.7h0M639.0 112.7h0M662.0 112.7h0M669.7 112.7h0M677.3 112.7h0M420.4 116.5h0M428.1 116.5h0M435.7 116.5h0M443.4 116.5h0M451.1 116.5h0M466.4 116.5h0M474.1 116.5h0M481.7 116.5h0M543.1 116.5h0M550.8 116.5h0M558.4 116.5h0M566.1 116.5h0M573.8 116.5h0M581.5 116.5h0M589.1 116.5h0M596.8 116.5h0M604.5 116.5h0M612.1 116.5h0M619.8 116.5h0M627.5 116.5h0M431.9 120.3h0M439.6 120.3h0M447.2 120.3h0M454.9 120.3h0M470.2 120.3h0M477.9 120.3h0M539.3 120.3h0M546.9 120.3h0M554.6 120.3h0M562.3 120.3h0M569.9 120.3h0M577.6 120.3h0M585.3 120.3h0M593.0 120.3h0M600.6 120.3h0M608.3 120.3h0M616.0 120.3h0M623.6 120.3h0M405.0 124.1h0M412.7 124.1h0M420.4 124.1h0M428.1 124.1h0M435.7 124.1h0M550.8 124.1h0M558.4 124.1h0M566.1 124.1h0M573.8 124.1h0M581.5 124.1h0M589.1 124.1h0M596.8 124.1h0M604.5 124.1h0M612.1 124.1h0M401.2 127.9h0M408.9 127.9h0M416.5 127.9h0M424.2 127.9h0M431.9 127.9h0M577.6 127.9h0M585.3 127.9h0M593.0 127.9h0M405.0 131.7h0M412.7 131.7h0M420.4 131.7h0M428.1 131.7h0M497.1 131.7h0M504.8 131.7h0M512.4 131.7h0M520.1 131.7h0M401.2 135.5h0M408.9 135.5h0M654.3 135.5h0M662.0 135.5h0M658.2 139.3h0M439.6 143.1h0M546.9 143.1h0M589.1 146.9h0M593.0 150.7h0M600.6 150.7h0M481.7 154.5h0M489.4 154.5h0M596.8 154.5h0M604.5 154.5h0M477.9 158.3h0M485.6 158.3h0M493.2 158.3h0M600.6 158.3h0M489.4 162.1h0M581.5 162.1h0M589.1 162.1h0M596.8 162.1h0M604.5 162.1h0M612.1 162.1h0M619.8 162.1h0M658.2 162.1h0" stroke="#000" stroke-width="2.40" stroke-linecap="round" fill="none"/>

<use href="#land" transform="translate(255.450 131.310) scale(0.118042 -0.118300)" fill="none" stroke="#777" stroke-width="0.45"/>

</g>
<text x="395.90" y="41.70" font-size="16.4">(d) MAM precipitation</text>
<rect x="397.10" y="48.50" width="283.30" height="118.30" fill="none" stroke="#000" stroke-width="1.2"/>
<path d="M392.80 166.80H397.10M680.40 166.80H684.70M394.90 154.97H397.10M680.40 154.97H682.60M394.90 143.14H397.10M680.40 143.14H682.60M392.80 131.31H397.10M680.40 131.31H684.70M394.90 119.48H397.10M680.40 119.48H682.60M394.90 107.65H397.10M680.40 107.65H682.60M392.80 95.82H397.10M680.40 95.82H684.70M394.90 83.99H397.10M680.40 83.99H682.60M394.90 72.16H397.10M680.40 72.16H682.60M392.80 60.33H397.10M680.40 60.33H684.70M394.90 48.50H397.10M680.40 48.50H682.60M397.10 166.80V171.10M408.90 166.80V169.00M420.71 166.80V169.00M432.51 166.80V171.10M444.32 166.80V169.00M456.12 166.80V169.00M467.93 166.80V171.10M479.73 166.80V169.00M491.53 166.80V169.00M503.34 166.80V171.10M515.14 166.80V169.00M526.95 166.80V169.00M538.75 166.80V171.10M550.55 166.80V169.00M562.36 166.80V169.00M574.16 166.80V171.10M585.97 166.80V169.00M597.77 166.80V169.00M609.58 166.80V171.10M621.38 166.80V169.00M633.18 166.80V169.00M644.99 166.80V171.10M656.79 166.80V169.00M668.60 166.80V169.00M680.40 166.80V171.10" stroke="#000" stroke-width="1" fill="none"/>
<text x="386.30" y="64.83" text-anchor="end" font-size="12.4">60N</text>
<text x="386.30" y="100.32" text-anchor="end" font-size="12.4">30N</text>
<text x="386.30" y="135.81" text-anchor="end" font-size="12.4">0</text>
<text x="386.30" y="171.30" text-anchor="end" font-size="12.4">30S</text>
<text x="397.10" y="188.80" text-anchor="middle" font-size="12.4">120E</text>
<text x="432.51" y="188.80" text-anchor="middle" font-size="12.4">150E</text>
<text x="467.93" y="188.80" text-anchor="middle" font-size="12.4">180</text>
<text x="503.34" y="188.80" text-anchor="middle" font-size="12.4">150W</text>
<text x="538.75" y="188.80" text-anchor="middle" font-size="12.4">120W</text>
<text x="574.16" y="188.80" text-anchor="middle" font-size="12.4">90W</text>
<text x="609.58" y="188.80" text-anchor="middle" font-size="12.4">60W</text>
<text x="644.99" y="188.80" text-anchor="middle" font-size="12.4">30W</text>
<text x="680.40" y="188.80" text-anchor="middle" font-size="12.4">0</text>
<g clip-path="url(#ce)">
<rect x="397.1" y="233.2" width="283.30" height="118.30" fill="#b2e2dc"/>
<rect x="397.1" y="233.2" width="283.30" height="118.30" fill="#b4e4dc"/>
<g transform="scale(0.25)">
<path d="M1577 921l35 0 0 23-12 7-23 0 0-30zM1667 984l3-2 5 1 28 29 3 6 0 23-36 34-24-1-10-10 0-46 5-9 26-25zM2397 1012l5-2 6 1 2 1 1 6-9 3-7-3 2-6zM1976 1029l2-1 6 3 3 4 2 6-5 6-6 4-12 1 0 12-4 5-8 6-69 0-6-3-7-8 13-13 81 0 0-10 10-12zM2218 1058l21-4 10 4 6 6-6 23-10 11-6-2-30-32 15-6zM2443 1058l6-5 5 1 5 4 2 6-7 4-5 0-9-4 3-6zM2301 1104l8-6 23 1 11 10-11 5-23 0-12-5 4-5zM2369 1109l10-4 11 4-11 7-10-7zM1751 1127l12-4 5 3 11 35 7 7 29 8 23 11 18 4 5 0 4-7-1-6-3-6-11-11-1-6 6-23 6-10 47 1 9 15 14 8 23 0 24-6 17 3 12 6 13 12 27 8 12 9-6 6-23 5-52 2-7 4-11 15-6 5-23 0-52-6-18-1-5 2-11 8-5 11 6 6 10 4 29 0 93 3 46-2 47 3 116 0 29 2 70-2 23 4 11 5 4 12 11 11 0 6-3 6-6 1-63 0-24-6-23 5-52 4-93 2-24 4-23-1-23-3-14 5-9 12-4-12-8-6-12-6-46 6-93-11-11-6-7-19-5-7-6-3-116-12-24-1-14-4-5-5-8-17 4-13 12-12 11-6 47-12 11-11 24-13 11-10 12-3zM2208 1127l8-4 9 9-9 7-6 0-7-7 5-5zM2372 1178l13-3 17 0 6 2 7 7-1 9-35 0-9-9 2-6zM2415 1195l10-2 6 3 5 5 0 6-11 3-7-3-3-6 0-6zM2017 1309l7-3 7 3 6 12-7 7-6 2-17-3-15-6 25-12zM2113 1344l10-3 41 0 29 10 70 2 23-2 40 5 6 3 13 13 5 23 0 23-201 0 0-23-5-6-21-11-8-6-6-23 4-5zM2399 1361l3-2 6 3 7 10 0 46-48 0 0-23 4-6 15-11 13-17z" fill="#88d4c4"/>
<path d="M1668 1007l2-2 5 3 8 10 0 17-2 6-11 9-10-9-1-6 0-17 9-11zM2227 1064l12-3 4 3-4 8-6-1-6-7zM1737 1144l8-4 18 4 13 28 29 12 36 17 4 6-20 22 25 13 11 2 24-2 93 3 46-2 53 3 110 0 29 2 64-2 32 6-3 11-12 5-11 2-47 0-23 9-23 1-29 5-41 0-76 6-23 0-23-3-23 7-12-9-12-4-46 6-93-11-5-2-3-23-4-9-6-5-5-3-29 2-117-7-7-6-8-17 1-6 9-9 5-4 24-1 9-3 20-12 17-17 21-11zM1878 1149l7-3 23 1 12 5 16 3 18 8 24-11 53 26-4 6-3 0-23 3-23 0-6 2-8 6-5 12-5 4-23 0-28-4-12-6-12-16-6-24 0-6 5-6zM2018 1321l6-3 3 3-3 3-6-3zM2140 1361l6-2 87 0 30 5 23-5 17 4 12 5 18 16 5 11 0 23-177 0 0-23-3-9-6-6-17-8-1-6 6-5z" fill="#5cb4a6"/>
<path d="M1736 1155l9-2 5 2 4 6 0 17 2 6 7 6 5 3 18 0 29 7 8 7-8 7-6 3-21 1-13 11-12 2-74-2-19-12-18 0-6-2-4-8 4-7 29-2 18-4 7-5 36-34zM1903 1172l5-3 23 1 23 5 24-5 29 8-6 4-23 0-12 3-6 4-6 18-23 0-15-6-18-17-1-6 6-6zM1838 1246l140 2 46-2 53 2 203 2 17 2-11 6-58 2-64 19-41 0-29 4-47 2-46-2-23 5-12-7-12-4-23 5-23 1-47-3-37-5 0-23 8-5 6-1zM2179 1372l14-5 40 0 17 5 7 8 6 2 9-10 14-5 11 5 0 46-118 0 0-46z" fill="#30958a"/>
<path d="M1738 1195l7 1 8 11-8 8-6 0-8-8 2-6 5-6zM1848 1252l31-2 99 1 29-3 70 3 125 1-9 5-29 7-47 1-9 10-14 3-93 0-23 2-12-5-4-6-8-5-5 4-6 7-12 2-70 0-13-2 0-23zM2215 1384l7 4 4 7 0 23-24 0 0-23 8-10 5-1z" fill="#137a70"/>
<path d="M1990 1252l17-1 54 1-8 9-6 3-46 0-6-4-5-8z" fill="#04594e"/>
<path d="M1777 921l95 0 0 23 13 7 73-1 8-6 0-23 283 0 0 23-4 7-17 14 0 7 15 12 14 17 11 8 11 15 7 3 93 0 17 5 12 1 17-5 12-1 3-15 9-7 58-1 2 3-1 11-7 7-6 2-52 0-5 2-1 12-12 10-69 0-9 7-3 6 0 5 0 6 81 0 29 7 6 3 6 8 17 14 2 2 1 23 2 6 19 16 0 7-6 6-6 2-70 0-23-6-23 0-7-2-11-11-5-4-10 21-8 6-6 2-23 0-23-5-11-9-2-6 1-23 6-7 6-3 70 0 23 6 23-6 8-7 4-7-6-6-6-4-17-5-12 0-17 5-12-11 0-12-35 0-8-6-7-11-8-6-23-1-24-3-23 3-15-4-8-16-13-13-2-51-8-9-6-2-134 0-6 1-10 10 2 5 8 8 47 0 7 4 10 14 6 5 23 1 6 2 7 6 1 6 0 46-4 5-15 12-8 11-10 6-23 0-10-11 0-69-2-6-6-5-6-3-69 0-24 23-46 0-23-17-8 2-5 6 0 17-2 6-9 9-5 3-18 4-17-3-12-5-17-19-6-3-41 0-6-1-16-19-13-12-4-5 1-23 9-9 47-2 5-1 6-5 3-6 0-23zM2462 921l47 0 0 23-2 5-16 12-13 17-6 2-47 1-15 14-31 9-6-5-12-15-5-4-6 4-12 16-6 4-6-4-11-15-16-13-1-5 5-7 6-4 140 0 5-2 8-10 0-23zM2533 921l200 0 0 59-46 0-6 4-12 15-5 4-58 1-2 3-2 11-2 3-18 14-7 12-4 3-6-1-8-8-1-6 0-17 2-6 6-5 7-3 29 0 4-3 0-17 2-4 34-1 8-7 2-5-10-10-23-1-6 3-5 6-2 13-4 2-64 0-3-2 0-57zM1609 961l14-4 23-1 6 3 6 8-3 5-9 8-69 0 0-18 32-1zM2515 984l9-4 6 0 3 4 0 6-3 6-6 6-6 2-5 0-4-3 1-11 5-6zM2706 1029l4-2 23 0 0 48-34 0-1-34 2-6 6-6zM1577 1052l0-1 25 1 39 42 5 4 6 0 18 0 5-2 18-19 6-2 17 0 6-2 17-21 6 1 9 11 0 45-23 12-6 11-9 6-12 2-11 6-23 0-18 16-29 7-6 0-5-2 0-29-1-6-4-5-7-5-23 0 0-70zM2663 1075l35 0 0 12-5 7-14 10-10 13-13 10-10 14-13 8-4 6-2 23 2 6 4 5 9 6 12 12 10 4 23 0 23 6 23 0 0 118-23 0-10 9-1 5 11 10 23 0 0 23-69 0-6 3-7 10 0 23-165 0 0-23 3-7 18-13 2-9-1-45-7-8-6-2-116 1-10 9-3 28-10 10-18-20-16-13 0-5 4-6 12-8 6-9-1-23-15-23-19-9-29-5-64 4-145-2-47-2-46 1-24-2-46 0-23-2-24 2-6-2-9-6 4-7 11-8 24 3 69 2 9-7 8-11 7-6 56 0 13-2 30-9 7-6 1-46 9-9 6-1 64 0 6 2 8 8-3 7-14 10-5 6 1 6 7 7 6 1 23-1 12-13 34-15 12 7 4 8-1 6-3 7-5 4-16 6 3 6 30 3 46-3 29 2 12 3 22 18 7 2 23 2 23 11 29-5 41 0 23-6 47 0 12-4 25-23-2-9-18-14-2-12 2-3 13-2 14-17 14-11 9-12 14-11 9-12 8-6zM2629 1252l-2 0 2 1 11 5 24 0 10-6-10-5-24 1-11 4zM2565 1337l-7 7 0 5 7 8 6 0 8-8-1-5-7-8-6 1zM2611 1295l-5 3 0 6 5 5 6 2 47 0 8-7 0-6-8-4-47 0-6 1zM1805 1104l10-6 17 0 6 1 10 10-6 23-4 11-11 13-12 7-23-1-7-7-1-23 2-5 19-23zM1923 1104l8-5 6 4 5 6 1 23-12 6-6-6-6-23 4-5zM2561 1104l4-4 6 0 9 9 0 35-4 2-11-2-6-6-3-6 1-23 4-5zM1577 1172l0-3 34 0 1 9-6 29 4 17 7 5 29 8 24 0 58 6 46 8 12 6 6 5 6 13 7 6 10 4 46 4 47 8 46-7 13 8 10 28 12 4 35 5 11-3 8-6 4-12 11-10 13-7 162-3 6 0 8 4 10 11 10 6 5 6-1 5-8 8-6 1-64 0-23-6-47 0-17 3-12 4-8 8 1 5 7 7 10 16 13 14 14 9 0 23-141 0 0-23-5-6-41-40-13-8-23-6-17 5-32 4-11 5 0 6 2 4 11 1 6 4 5 8 1 10 35 1 6 4 5 8 0 23-47 0 0-34-11-2-8-4-4-6-1-11-4-2-29 0-6 2-13 17-19 17 0 23-200 0 0-36 69 0 6-3 6-7-1-6-16-12-12-16-12-7-17-20-23 0 0-139zM2000 1298l5 0 0 6-4 1-2-1 1-6z" fill="#f2e2b4"/>
<path d="M1830 961l8-5 18 0 29 6 69 0 10 5 2 5 0 18-12 14-46 0-23-6-24 5-11 9-2 6 0 17-3 6-7 3-6 0-5-3-24-23 0-6 20-17 1-5 1-23 5-6zM2209 1007l7-2 6 5 10 14 15 11-3 6-28 2-6-2-7-23 1-6 5-5zM1808 1127l7-4 9 9-9 11-6 1-6-6 0-6 5-5zM2422 1127l3-4 6 2 6 7-1 6-5 5-6 2-8-7-1-6 6-5zM2300 1132l9-2 23 0 8 2 2 6-4 17-3 6-3 2-6 0-17 0-7-2-5-6 0-17 3-6zM2231 1155l8-2 2 2 0 6-8 1-3-1 1-6zM2083 1189l17-4 110 0 53 13 17-4 29-4 23 3 12 6 12 10 49 15 10 5 10 11 25 1 8 5 4 6-8 9-11 8-12 16-6 3-64 0-5-1-5-12-15-23-6-6-15-6-29-5-23-1-47 5-145-1-47-3-46 1-24-2-46 0-23-3-24 2-9-4 3-5 6-4 24 5 23-3 46 1 12-8 12-16 23 0 23 3 23-1 36-12zM2589 1212l22-3 24 1 29 13 23 0 11 6-11 11-23-5-47 13-29-1-8 5 14 12 17 0 29 6 18 0 17-2 12-4 46 0 0 24-46 0-23-6-47 0-17 3-29 8-18-2-11-5-29-28-4-6 0-23 9-5 6-1 41 0 24-11zM1577 1235l0-4 23 0 46 9 29 1 79 11 32 16 11 12 12 6 52 6 25 6 9 6 0 17-10 8-47 13-52 0-9 7 0 17-1 6-8 7-5 2-8-9-1-23-9-11-6-3-23-1-8-8-15-6-47-1-23-2-23-20-23 0 0-62zM1929 1298l25-4 7 4 3 6 6 22 3 6 5 3 46 5 18-2 5-2 6 2 12 11 17 12 32 34 0 23-77 0 0-23-13-7-23-6-10-10-19-12-16-16-13-6-18-12-5-5-1-17 10-6z" fill="#e5c88a"/>
<path d="M2090 1195l10-2 116 1 35 12 12 10 9-9 13-6 24-5 6 1 17 4 18 13 41 15 0 23-4 6-8 6-23 6-16-24-7-5-12-4-35-6-23 0-53 5-139-1-170-6 7-1 46 0 16-10 8-14 23 0 15 3 8 3 23-1 43-14zM2609 1218l8-1 18 4 14 8-32 11-17-3-19-8 13-7 15-4zM1860 1229l1-2 5 2-6 0zM1577 1241l0-5 23 0 23 2 23 6 24 0 60 8 79 38 47 5 16 3 5 6-2 11-2 6-11 5-24 8-23 1-29-5-18 4-5-2-6-6-14-5-21-2-52-8-24 0-11-2-12-4-12-10-11-4-23 0 0-50zM2536 1246l6-4 5 0 9 10 0 12-9 0-5-3-9-9 3-6zM2556 1269l3-5 6 0 6 3 8 8-8 6-6-1-9-5 0-6zM1953 1298l2 0 3 6 5 17-3 10-6 4-13-9-4-5 4-17 12-6zM1976 1344l54 2 41 18 8 8 7 12 8 4 8 7 0 23-41 0 0-23-2-2-43-21-9-10-6-4-23-5-4-4 2-5z" fill="#d2a45a"/>
<path d="M2082 1207l18-6 110 0 17 6 18 17-1 5-34 4-139-1-99-3 6-11 23-1 23 6 41-10 17-6zM2297 1207l12-4 6 1 6 3 5 6 12 8 29 8 0 23-11 6-4-6-4-11-7-6-9-2-30-4-5-5 0-17zM2606 1229l11-3 8 3-8 3-11-3zM1577 1241l46 1 23 5 24 0 36 5 57 27 23 5 23 10 49 4 6 6-13 17-13 5-23 1-23-7-29-2-93-15-24 0-38-17-8-1-23 0 0-44zM1952 1315l2-3 3 9-3 6-5-6 3-6zM2043 1366l4-1 5 1 7 6-12 4-7-4 3-6z" fill="#bc7e30"/>
<path d="M2093 1218l117-1 6 2 5 5-1 5-10 1-163 0-2-1 2-2 6-1 40-8zM1577 1246l0-1 46 1 23 4 37 2 16 14 23 6 12 7 11 4 41 7 23 7 23 2 12 5-6 5-6 2-69 0-47-8-23-1-23-8-24-1-23-11-6-2-40-1 0-33z" fill="#9e5e1a"/>
<path d="M1577 1252l0-2 46 0 13 2 0 12 34 0 12 11-7 5-5 2-24-1-10-6-1-11-58 0 0-12zM1732 1298l7-4 6 0 48 4-1 3-6 2-18 0-23-1-13-4z" fill="#7a4410"/>
</g>
<path d="M543.1 238.1h0M550.8 238.1h0M558.4 238.1h0M642.8 238.1h0M665.8 238.1h0M673.5 238.1h0M454.9 241.9h0M462.6 241.9h0M470.2 241.9h0M477.9 241.9h0M485.6 241.9h0M493.2 241.9h0M546.9 241.9h0M554.6 241.9h0M585.3 241.9h0M662.0 241.9h0M669.7 241.9h0M458.7 245.7h0M466.4 245.7h0M474.1 245.7h0M481.7 245.7h0M489.4 245.7h0M665.8 245.7h0M673.5 245.7h0M462.6 249.5h0M470.2 249.5h0M477.9 249.5h0M485.6 249.5h0M493.2 249.5h0M531.6 249.5h0M458.7 253.3h0M466.4 253.3h0M474.1 253.3h0M481.7 253.3h0M589.1 253.3h0M596.8 253.3h0M604.5 253.3h0M416.5 257.1h0M424.2 257.1h0M546.9 257.1h0M554.6 257.1h0M412.7 260.9h0M420.4 260.9h0M481.7 260.9h0M489.4 260.9h0M497.1 260.9h0M550.8 260.9h0M558.4 260.9h0M596.8 260.9h0M627.5 260.9h0M635.1 260.9h0M642.8 260.9h0M650.5 260.9h0M658.2 260.9h0M416.5 264.7h0M424.2 264.7h0M485.6 264.7h0M493.2 264.7h0M500.9 264.7h0M523.9 264.7h0M539.3 264.7h0M546.9 264.7h0M616.0 264.7h0M623.6 264.7h0M631.3 264.7h0M639.0 264.7h0M646.6 264.7h0M654.3 264.7h0M412.7 268.5h0M420.4 268.5h0M481.7 268.5h0M489.4 268.5h0M497.1 268.5h0M543.1 268.5h0M650.5 268.5h0M531.6 272.3h0M539.3 272.3h0M546.9 272.3h0M527.8 276.1h0M577.6 279.9h0M669.7 279.9h0M677.3 279.9h0M535.4 283.7h0M543.1 283.7h0M573.8 283.7h0M581.5 283.7h0M604.5 283.7h0M658.2 283.7h0M665.8 283.7h0M673.5 283.7h0M439.6 287.5h0M531.6 287.5h0M539.3 287.5h0M546.9 287.5h0M577.6 287.5h0M654.3 287.5h0M662.0 287.5h0M669.7 287.5h0M677.3 287.5h0M428.1 291.3h0M435.7 291.3h0M443.4 291.3h0M474.1 291.3h0M481.7 291.3h0M489.4 291.3h0M497.1 291.3h0M504.8 291.3h0M550.8 291.3h0M573.8 291.3h0M581.5 291.3h0M658.2 291.3h0M665.8 291.3h0M673.5 291.3h0M424.2 295.1h0M431.9 295.1h0M439.6 295.1h0M447.2 295.1h0M454.9 295.1h0M477.9 295.1h0M485.6 295.1h0M493.2 295.1h0M500.9 295.1h0M508.6 295.1h0M593.0 295.1h0M600.6 295.1h0M608.3 295.1h0M631.3 295.1h0M654.3 295.1h0M662.0 295.1h0M669.7 295.1h0M677.3 295.1h0M412.7 298.9h0M420.4 298.9h0M428.1 298.9h0M435.7 298.9h0M443.4 298.9h0M451.1 298.9h0M458.7 298.9h0M481.7 298.9h0M489.4 298.9h0M497.1 298.9h0M504.8 298.9h0M596.8 298.9h0M604.5 298.9h0M612.1 298.9h0M416.5 302.7h0M424.2 302.7h0M431.9 302.7h0M439.6 302.7h0M447.2 302.7h0M454.9 302.7h0M516.3 302.7h0M523.9 302.7h0M531.6 302.7h0M539.3 302.7h0M546.9 302.7h0M554.6 302.7h0M562.3 302.7h0M569.9 302.7h0M577.6 302.7h0M600.6 302.7h0M608.3 302.7h0M616.0 302.7h0M662.0 302.7h0M669.7 302.7h0M420.4 306.5h0M428.1 306.5h0M435.7 306.5h0M443.4 306.5h0M451.1 306.5h0M497.1 306.5h0M504.8 306.5h0M512.4 306.5h0M520.1 306.5h0M527.8 306.5h0M535.4 306.5h0M543.1 306.5h0M550.8 306.5h0M558.4 306.5h0M566.1 306.5h0M573.8 306.5h0M581.5 306.5h0M589.1 306.5h0M658.2 306.5h0M665.8 306.5h0M673.5 306.5h0M401.2 310.3h0M477.9 310.3h0M485.6 310.3h0M493.2 310.3h0M500.9 310.3h0M508.6 310.3h0M516.3 310.3h0M523.9 310.3h0M531.6 310.3h0M539.3 310.3h0M546.9 310.3h0M554.6 310.3h0M562.3 310.3h0M569.9 310.3h0M577.6 310.3h0M585.3 310.3h0M593.0 310.3h0M600.6 310.3h0M608.3 310.3h0M639.0 310.3h0M646.6 310.3h0M405.0 314.1h0M412.7 314.1h0M420.4 314.1h0M466.4 314.1h0M474.1 314.1h0M481.7 314.1h0M489.4 314.1h0M497.1 314.1h0M504.8 314.1h0M512.4 314.1h0M520.1 314.1h0M527.8 314.1h0M535.4 314.1h0M543.1 314.1h0M550.8 314.1h0M558.4 314.1h0M566.1 314.1h0M573.8 314.1h0M581.5 314.1h0M589.1 314.1h0M596.8 314.1h0M604.5 314.1h0M612.1 314.1h0M635.1 314.1h0M642.8 314.1h0M401.2 317.9h0M408.9 317.9h0M416.5 317.9h0M424.2 317.9h0M431.9 317.9h0M470.2 317.9h0M477.9 317.9h0M485.6 317.9h0M493.2 317.9h0M500.9 317.9h0M508.6 317.9h0M516.3 317.9h0M523.9 317.9h0M531.6 317.9h0M539.3 317.9h0M546.9 317.9h0M554.6 317.9h0M562.3 317.9h0M569.9 317.9h0M577.6 317.9h0M585.3 317.9h0M593.0 317.9h0M639.0 317.9h0M646.6 317.9h0M420.4 321.7h0M428.1 321.7h0M435.7 321.7h0M443.4 321.7h0M451.1 321.7h0M520.1 321.7h0M527.8 321.7h0M535.4 321.7h0M573.8 321.7h0M581.5 321.7h0M589.1 321.7h0M635.1 321.7h0M642.8 321.7h0M431.9 325.5h0M439.6 325.5h0M447.2 325.5h0M454.9 325.5h0M462.6 325.5h0M608.3 325.5h0M639.0 325.5h0M451.1 329.3h0M458.7 329.3h0M612.1 329.3h0M401.2 333.1h0M493.2 333.1h0M608.3 333.1h0M616.0 333.1h0M428.1 336.9h0M489.4 336.9h0M497.1 336.9h0M504.8 336.9h0M612.1 336.9h0M619.8 336.9h0M658.2 336.9h0M431.9 340.7h0M439.6 340.7h0M500.9 340.7h0M508.6 340.7h0M516.3 340.7h0M546.9 340.7h0M554.6 340.7h0M562.3 340.7h0M569.9 340.7h0M577.6 340.7h0M585.3 340.7h0M593.0 340.7h0M600.6 340.7h0M608.3 340.7h0M616.0 340.7h0M623.6 340.7h0M435.7 344.5h0M443.4 344.5h0M512.4 344.5h0M520.1 344.5h0M527.8 344.5h0M550.8 344.5h0M558.4 344.5h0M566.1 344.5h0M573.8 344.5h0M581.5 344.5h0M589.1 344.5h0M596.8 344.5h0M604.5 344.5h0M612.1 344.5h0M619.8 344.5h0M416.5 348.3h0M523.9 348.3h0M546.9 348.3h0M554.6 348.3h0M562.3 348.3h0M569.9 348.3h0M577.6 348.3h0M585.3 348.3h0M593.0 348.3h0M600.6 348.3h0M608.3 348.3h0M616.0 348.3h0M623.6 348.3h0" stroke="#000" stroke-width="2.40" stroke-linecap="round" fill="none"/>

<use href="#land" transform="translate(255.450 316.010) scale(0.118042 -0.118300)" fill="none" stroke="#777" stroke-width="0.45"/>

</g>
<text x="395.90" y="226.40" font-size="16.4">(e) JJA precipitation</text>
<rect x="397.10" y="233.20" width="283.30" height="118.30" fill="none" stroke="#000" stroke-width="1.2"/>
<path d="M392.80 351.50H397.10M680.40 351.50H684.70M394.90 339.67H397.10M680.40 339.67H682.60M394.90 327.84H397.10M680.40 327.84H682.60M392.80 316.01H397.10M680.40 316.01H684.70M394.90 304.18H397.10M680.40 304.18H682.60M394.90 292.35H397.10M680.40 292.35H682.60M392.80 280.52H397.10M680.40 280.52H684.70M394.90 268.69H397.10M680.40 268.69H682.60M394.90 256.86H397.10M680.40 256.86H682.60M392.80 245.03H397.10M680.40 245.03H684.70M394.90 233.20H397.10M680.40 233.20H682.60M397.10 351.50V355.80M408.90 351.50V353.70M420.71 351.50V353.70M432.51 351.50V355.80M444.32 351.50V353.70M456.12 351.50V353.70M467.93 351.50V355.80M479.73 351.50V353.70M491.53 351.50V353.70M503.34 351.50V355.80M515.14 351.50V353.70M526.95 351.50V353.70M538.75 351.50V355.80M550.55 351.50V353.70M562.36 351.50V353.70M574.16 351.50V355.80M585.97 351.50V353.70M597.77 351.50V353.70M609.58 351.50V355.80M621.38 351.50V353.70M633.18 351.50V353.70M644.99 351.50V355.80M656.79 351.50V353.70M668.60 351.50V353.70M680.40 351.50V355.80" stroke="#000" stroke-width="1" fill="none"/>
<text x="386.30" y="249.53" text-anchor="end" font-size="12.4">60N</text>
<text x="386.30" y="285.02" text-anchor="end" font-size="12.4">30N</text>
<text x="386.30" y="320.51" text-anchor="end" font-size="12.4">0</text>
<text x="386.30" y="356.00" text-anchor="end" font-size="12.4">30S</text>
<text x="397.10" y="373.50" text-anchor="middle" font-size="12.4">120E</text>
<text x="432.51" y="373.50" text-anchor="middle" font-size="12.4">150E</text>
<text x="467.93" y="373.50" text-anchor="middle" font-size="12.4">180</text>
<text x="503.34" y="373.50" text-anchor="middle" font-size="12.4">150W</text>
<text x="538.75" y="373.50" text-anchor="middle" font-size="12.4">120W</text>
<text x="574.16" y="373.50" text-anchor="middle" font-size="12.4">90W</text>
<text x="609.58" y="373.50" text-anchor="middle" font-size="12.4">60W</text>
<text x="644.99" y="373.50" text-anchor="middle" font-size="12.4">30W</text>
<text x="680.40" y="373.50" text-anchor="middle" font-size="12.4">0</text>
<g clip-path="url(#cf)">
<rect x="397.1" y="417.3" width="283.30" height="118.90" fill="#b2e2dc"/>
<rect x="397.1" y="417.3" width="283.30" height="118.90" fill="#b4e4dc"/>
<g transform="scale(0.25)">
<path d="M2609 1697l8-4 70 0 10 10-4 9-12 8-14 18-3 2-24 1-6-3-11-16-17-13-2-6 5-6zM2376 1766l3-1 23-1 10 8 1 6-17 15-5 8 0 23-4 6-8 6-18 20-5 3-6-4-7-8-23-12-6-11 2-12 5-13 5-7 6-4 24 0 6-4 14-18zM2683 1766l4-2 46 0 0 24-23 0-6 4-11 15-6 5-6-3-6-8-1-23 3-6 6-6zM2285 1789l7 4 4 8-10 10-6-2-7-8 12-12zM2426 1818l23-5 5 2 8 9-13 12-24-1-6-4-4-7 11-6zM1996 1841l5-5 23 0 6 3 6 6 1 25 22 23-4 23-2 1-6 4-46 0-15-5-8-9-35 0 0-32 3-5 8-5 24-5 18-19zM2230 1841l3-3 6 0 4 9 6 23-2 5-8 7-6-1-5-6-2-5 0-23 4-6zM1843 1887l18-4 24 1 11 6 12 11 29 6 6 3 0 6-5 5-30 15-23-5-24 6-23 8-46 1-29 4-41-1-28-5-13-15-12-8 1-5 5-2 53-10 6-4 5-9 6-2 23 1 18 10 23 5 6 0 14-12 14-6zM2374 1887l5-4 6 0 17 0 6 3 5 7 2 11 16 6 5 6-1 5-10 3-6-3-4-5-1-9-35 0-10-9 0-5 5-6zM2262 1933l1-2 5 5 5 8 0 18 3 5 27 8 29 4 6 5 2 6 2 23-3 17-7 13-23-9-116 0-10 2-13 12-24 2-6 3-2 12 2 6 6 1 18-4 29 1 40 20 24 6 8 4 6 6 2 6 0 46-118 0 0-23-8-29-7-11-11-12-6-2-76-10-46-1-17-3-6-2-24-23-23 3-23-12-23 0-29-5-41-1-29 2-41-6-6-3-17-15-33-14 27-8 47-5 191 1 99-3 111 0 52 3 17-1 12-3 11-7 2-23 4-11zM2424 2082l25-1 5 2 8 5 1 23 4 6 15 11 4 6 0 23-71 0 0-23 2-23-1-23 8-6z" fill="#88d4c4"/>
<path d="M2332 1812l24 0 5 4 6 8-11 12-24-6-6-6 6-12zM1997 1864l4-4 6 3 11 15 17 15 0 5-5 6-6 3-23-1-8-8-3-5 0-18 1-5 6-6zM1855 1893l6-2 24 1 4 6-2 6-19 17-7 3-23 6-6-2-6-7 2-5 18-18 9-5zM1761 1910l7-2 24 6 3 2 5 5-20 18-12 5-52 0-12-5-17-18 6-4 6-1 23 0 9 5 8 8 6 0 16-19zM1898 1916l10-3 5 3 1 5-6 3-6-1-3-2-1-5zM2258 1973l5-2 36 8 33 4 5 7 2 23-7 20-23-7-116 0-29 8-47 1-5 1 0 6 11 13 2 4-2 6-6 3-17 2-29-2-24-4-46-1-17-4-6-2-24-23-23 5-23-11-93-5-29 1-23-3-24-7-12-12-26-12 21-5 41-5 29 1 23-1 139 1 99-3 111 0 52 4 23-2 19-7zM2161 2082l9-3 23 2 49 24 7 6 0 46-70 0 0-23-17-23-6-23 5-6zM2424 2105l1-4 6-1 7 11 0 46-15 0 1-52z" fill="#5cb4a6"/>
<path d="M2262 1979l70 9 4 25-4 12-23-7-116 0-29 8-47 0-17 5-13 5 1 8 17 15-11 5-23-1-12-4-6-7-6-2-17 5-23 1-29-7-17-19-7-4-23 8-11-7-12-3-93-5-29 1-18-3-16-4-7-3-11-11-22-9 51-7 29 2 23-2 139 1 210-2 52 3 23-1 23-5zM2208 2105l8-1 10 7 0 46-24 0 0-46 6-6z" fill="#30958a"/>
<path d="M1730 1990l33-4 29 2 23-2 349-1 52 4 47-3 57 4 0 12-104 0-29 7-23 9-53 0-23 3-17 5-24 1-18 15-5 2-23 0-23-3-9-16-3-3-12-4-23 8-23-6-70-2-23-2-29-1-10-2-46-23zM2320 2007l1-5 11 2 0 13-12-4 0-6z" fill="#137a70"/>
<path d="M1754 1990l23 0-9 5-5 0-9-5zM1801 1990l14-1 238 0 134 0 15 1-9 5-29 7-210 0-7 5-4 6-12 5-107-5-4-6-15-11-4-6z" fill="#04594e"/>
<path d="M1577 1657l106 0 0 23-3 6-15 11-5 6 2 6 8 7 23 1 6-3 11-15 6-5 6 1 16 20 13 2 3 3-3 13-19 16-1 6 8 8 24 1 5-3 16-18 8-2 162 0 6 4 12 15 12 8 5 9 1 47-19 17-4 6-46 23-13 13-12-5-17-3-41 2-29 6-17 0-24-5-29 0-6 3-14 17-15 4-34 5-14 9 0 5 18 12 11 11 8 5 52 6 47-3 46-1 23-4 47-2 19-6 27-14 12-2 12-1 23 4 46 0 15-5 6-5 3-6 6-3 17 0 32-9 5-5 1-23 8-9 24-2 9 5 28 29 1 23 8 5 29 5 6 4 4 14 0 18-1 5-9 5-23 3-52-3-111 0-99 4-191-2-53 6-20 4-13 6 16 8 25 9 16 14 11 6 23 4 88-1 29 6 23 0 12 7 11 5 23-1 24 23 93 8 24 4 11 4 4 2 21 23 0 46-495 0 0-23-3-6-7-6-49-1 0-315 23 0 6-2 5-3 1-12 58-1 5-3 7-7-2-6-16-13-12-15-11-8-12-16-6-3-46 0 0-60zM1861 2082l-5 2-5 4 10 8 9-8-9-6zM1908 2097l-10 8-2 6 6 7 6 3 23 0 11-10-2-6-9-8-23 0zM1623 1861l-3 9 3 11 6-3 7-8-1-11-12 2zM1641 1841l-5 6 0 11 10 1 13-12-7-8-6-3-5 5zM1990 1657l212 0 0 23 2 5 17 12 12 17 6 3 24 0 9 9 1 12-16 5-6 6-2 6 2 9 17 0 5 2-2 12-8 9-6-2-7-7-1-12-4-2-10 2-7 6-2 6-1 23-9 10-23 1-23 5-15 7-9 10-6 2-23-2-9-10-14-6-23-6-24-1-10-10 0-23 5-9 12-8 5-6 3-29 20-17 1-6-6-7-6-3-70 0-8-7-3-6 0-23zM2117 1718l-8 8 1 6 7 7 47 2 6-2 7-7 0-6-2-2-5-6-6-1-47 1zM2344 1657l71 0 0 23 3 6 6 6 7 1 18 0 10-7 3-6 0-23 118 0 0 23-4 7-14 10-5 6-1 23-2 6-7 7-5 2-70-1-6-5-10-15-7-3-70 0-6 4-12 16-11 8-12 15-6 4-58 0 0-23 12-1 3-2 14-18 12-8 11-15 15-11 3-6 0-23zM1759 1697l4-2 5 0 8 8-1 6-7 6-11 2-3-2 1-12 4-6zM1577 1766l0-2 23 0 4 2 6 6 2 6-1 10-34 0 0-22zM2447 1766l2-1 5 2 5 5 2 6-4 6-8 4-11 1-1 12-6 3-6 2-9-5 9-12 12-1 4-16 6-6zM2494 1766l7-2 93 2 7 6 3 6-1 23-4 6-15 11-8 11-5 5-6 2-56-1 0-11-2-4-17-13-4-6 0-23 2-6 6-6zM2258 1841l5-5 23 0 6 5 4 6 1 23 2 5 20 18-1 5-3 5-6 4-6 0-17 0-6-3-5-6-2-5-1-23-9-10-6-9-1-4 2-6zM2468 1841l4-3 6-2 29 0 2 5 0 6 4 6 5 5 6 1 64 0 6 2 9 9-2 5-7 7-47 1-5 2-16 19-13 10-12 15-6 2-23-1-9-9-2-28-5-6-13-9-4-8 5-6 15-12 9-11zM2679 1841l8-5 46 0 0 71-69 0-6-3-5-6-2-5 1-23 6-8 11-7 10-14zM2296 1927l13-4 47-1 17 3 6 5 23 1 29 7 18 16 23-5 29 6 64 0 6 1 17 19 6 3 70 0 6-5 11-15 6-3 46 0 0 95-46 0-10 9-3 6-1 23-9 9-93 0-6 2-6 6-3 6 0 46-47 0 0-23 4-6 14-11 5-6 1-23-2-6-7-7-6-2-116 1-5 8 2 6 9 10 3 13-4 23 0 23-63 0 0-46-3-6-9-8-23 0-6-3-5-6-1-6 0-21 6-8 6-3 23 6 6-7 7-30-1-29-6-11-6-5-23-2-16-5-3-5-1-18 3-11 4-6zM2379 2058l-5 1-2 6 7 2 9-2-4-6-5-1zM2613 1933l6 0 6 6 1 5-9 10-6-2-7-8 2-5 7-6zM2208 2053l8-2 4 2 4 6-3 6-5 2-7-2-5-6 4-6z" fill="#f2e2b4"/>
<path d="M2510 1692l8-4 6 0 7 4 5 5 2 6-1 6-7 10-6 3-6 0-11-7-3-12 6-11zM1788 1766l4-2 40 0 6 1 6 5 3 8-4 6-5 3-23 1-6 2-8 11 0 6 2 5 35-6 23 6 11 0 0 35-5 7-11 7-18 4-17-3-11-4-6-6-3-5 0-35-9 0-6 2-12 16-11 9-18 18-6 1-29-28-4-6 4-6 29-28 29-4 20-20zM2140 1766l7 0 17 19 11 10 2 6-31 15-6 1-46-12-9-4 2-6 7-6 23-1 6-3 17-19zM1882 1789l49-1 6 4 6 9 0 46-12 6-6-1-26-22-8-13-6-4-12-1-1-11 3-6 7-6zM1577 1818l23 0 12 6 1 51 4 18 6 13 12 1 1 9 4 5 30 17 14 12 9 4 46 5 24 0 75-2 41-5 29-1 29-6 24-12 17-5 23 3 46 0 24-7 29-2 17-8 19-4 10-5 18-20 6 1 6 7 3 5 0 18 6 5 48 14 6 4 3 5 0 18-3 6-23 3-52-3-111 0-29 3-46 0-24 2-191-2-24 1-40 6-18 4-22 8 34 14 23 7 15 14 8 5 29 5 18 1 29-3 46 1 11 2 13 8 23-2 17 8 29 3 7 6 5 14 6 3 52 2 29 5 18 0 16 5 17 17 3 6-5 6-8 5-23 5-24-6-23 0-11-11-12-7-23 0-6-2-6-4-7-15-5-3-52 2-17-1-24-6-23 5-23 0-8 3-6 6 0 6 2 3 29-5 6 1 6 4 7 8 6 12 12 11 3 6 0 23-71 0 0-58-4-2-29 0-17 5-12 0-6-3-5-5-6-11-6-3-10 8 0 69-23 0 0-46-3-6-5-5-10-6-9-12-10-8-23 5-12-6-7-14-4-3-23 0 0-238zM1763 2053l-7 6 1 6 6 6 5-2 3-10-3-5-5-1zM1667 1864l3-3 5-2 18 0 6 3 7 8 0 23-13 5-35 3-12 6-5 0-5-3 2-11 14-13 15-16zM2305 1933l4-2 23-3 24 0 5 2 12 9 6 15 14 13 9 3 29 3 18 5 5-2 7-9 11-6 11 5 12 11 6 1 64 0 6 3 17 19 6 2 70 1 10 10 0 23-10 13-6 1-157 0-29 7-23 9-24-1-46-15-23 6-6-6-3-8 0-52-3-11-4-6-8-4-27-2-4-5-4-18 2-5 6-6zM2372 2082l7-2 3 2 3 7-2 5-4 3-10-9 3-6zM2395 2105l7-2 1 2 2 6-3 10-10-10 3-6z" fill="#e5c88a"/>
<path d="M2516 1703l2-2 8 2-2 4-6 1-2-5zM2136 1795l4-4 6 0 7 10-7 3-6 1-7-4 3-6zM1736 1818l3-4 6 0 9 10-9 8-6 1-9-9 6-6zM1824 1824l8-5 6 0 10 5 0 23-10 6-6-1-8-5 0-23zM1577 1864l0-5 23 0 4 11 3 28 4 18 12 14 23 7 35 19 12 3 29 2 23 4 111-1 23-6 29-1 35-5 11-3 12-10 12-5 69 2 24-5 29-1 23-5 41 0 29 7 33 12 0 18-6 5-10 1-25-1-21-6-111 0-29 7-46 0-24 2-69 0-29-2-111 0-52 6-23 4-21 1-3 0-10 11 11 6 23 6 46 17 13 11 17 6 4 6-23 23-34 8-23-1-14-13-10-3-23 11-12-14-11-9-23 0 0-180zM2309 1939l23-5 24 0 7 5 4 5 2 23 10 5 46 12 24 11 29 2 23 5 41 0 5 2 9 9-3 6-6 5-5 2-41 0-6 2-12 11-34 17-24-1-46-13-23 2-3-8-4-63-4-6-7-4-29-8-4-11 4-5zM1814 2036l42 1 5 1 6 4 6 9 6 3 6 1 23-5 17 5 29 4 2 6-2 2-5 2-18 4-23 0-23-5-24-2-52 2-17 4-6-3-2-4 2-11 12-12 16-6zM1739 2076l6 1 5 5 0 6-5 2-7-2-2-6 3-6zM1974 2088l4-5 46 1 12 4-6 6-6 3-23-6-23 0-4-3zM2069 2099l2-1 6 3 3 4 2 6-11 3-8-3 0-6 6-6zM1832 2105l6 0 4 6-4 8-6 0-7-8 7-6z" fill="#d2a45a"/>
<path d="M1577 1933l0-2 23 0 17 19 16 12 2 5-18 16-5 7 5 8 6 4 12 4 35 4 10 3 3 6 0 6 33 7 9 4 1 6-10 8-23-1-8-7-4-16-6 0-5 1-17 15-30 7-16-19-7-4-23 0 0-93zM2098 1939l25-2 64 2 14 5-8 9-29-4-111 0-13 1-16 5-46-1-4-4-2-6 6-4 69 1 51-2zM2323 1944l9-3 24-1 3 4-3 11-24-6-9-5zM1668 1962l56 5-54 3-9-3 7-5zM1944 1962l16 0-1 5-5 1-75-1 6-2 35 0 24-3zM2355 1984l1-5 17 4 29 3 13 4 34 17 23 1 12 5-3 6-18 17-14 8-47-3-23-9-18-4-5-3-1-41zM1902 2059l6-1 14 1 11 6-25 1-3-1-3-6z" fill="#bc7e30"/>
<path d="M2372 2007l7-5 23 0 23 6 12 5-2 6-10 7-23-1-29-8-5-4 4-6z" fill="#9e5e1a"/>
</g>
<path d="M412.7 420.5h0M458.7 420.5h0M466.4 420.5h0M474.1 420.5h0M481.7 420.5h0M654.3 424.3h0M662.0 424.3h0M669.7 424.3h0M497.1 428.1h0M504.8 428.1h0M627.5 428.1h0M658.2 428.1h0M665.8 428.1h0M673.5 428.1h0M431.9 431.9h0M654.3 431.9h0M662.0 431.9h0M669.7 431.9h0M493.2 439.5h0M500.9 439.5h0M669.7 439.5h0M451.1 443.3h0M458.7 443.3h0M466.4 443.3h0M497.1 443.3h0M504.8 443.3h0M673.5 443.3h0M447.2 447.1h0M454.9 447.1h0M462.6 447.1h0M470.2 447.1h0M593.0 447.1h0M600.6 447.1h0M669.7 447.1h0M435.7 450.9h0M443.4 450.9h0M451.1 450.9h0M458.7 450.9h0M466.4 450.9h0M474.1 450.9h0M573.8 450.9h0M581.5 450.9h0M589.1 450.9h0M596.8 450.9h0M604.5 450.9h0M673.5 450.9h0M439.6 454.7h0M447.2 454.7h0M454.9 454.7h0M462.6 454.7h0M470.2 454.7h0M477.9 454.7h0M577.6 454.7h0M585.3 454.7h0M593.0 454.7h0M600.6 454.7h0M435.7 458.5h0M443.4 458.5h0M451.1 458.5h0M458.7 458.5h0M466.4 458.5h0M474.1 458.5h0M481.7 458.5h0M581.5 458.5h0M589.1 458.5h0M596.8 458.5h0M604.5 458.5h0M447.2 462.3h0M454.9 462.3h0M462.6 462.3h0M470.2 462.3h0M477.9 462.3h0M531.6 462.3h0M474.1 466.1h0M481.7 466.1h0M504.8 466.1h0M512.4 466.1h0M424.2 469.9h0M500.9 469.9h0M508.6 469.9h0M516.3 469.9h0M435.7 473.7h0M458.7 473.7h0M466.4 473.7h0M474.1 473.7h0M497.1 473.7h0M504.8 473.7h0M512.4 473.7h0M520.1 473.7h0M604.5 473.7h0M424.2 477.5h0M431.9 477.5h0M439.6 477.5h0M447.2 477.5h0M462.6 477.5h0M470.2 477.5h0M477.9 477.5h0M500.9 477.5h0M508.6 477.5h0M516.3 477.5h0M600.6 477.5h0M405.0 481.3h0M420.4 481.3h0M428.1 481.3h0M435.7 481.3h0M443.4 481.3h0M451.1 481.3h0M520.1 481.3h0M527.8 481.3h0M535.4 481.3h0M543.1 481.3h0M573.8 481.3h0M581.5 481.3h0M401.2 485.1h0M408.9 485.1h0M416.5 485.1h0M431.9 485.1h0M439.6 485.1h0M447.2 485.1h0M454.9 485.1h0M493.2 485.1h0M500.9 485.1h0M508.6 485.1h0M516.3 485.1h0M523.9 485.1h0M531.6 485.1h0M539.3 485.1h0M546.9 485.1h0M554.6 485.1h0M569.9 485.1h0M577.6 485.1h0M585.3 485.1h0M405.0 488.9h0M412.7 488.9h0M420.4 488.9h0M428.1 488.9h0M474.1 488.9h0M481.7 488.9h0M489.4 488.9h0M497.1 488.9h0M504.8 488.9h0M512.4 488.9h0M520.1 488.9h0M527.8 488.9h0M535.4 488.9h0M543.1 488.9h0M550.8 488.9h0M573.8 488.9h0M581.5 488.9h0M589.1 488.9h0M596.8 488.9h0M604.5 488.9h0M401.2 492.7h0M408.9 492.7h0M416.5 492.7h0M424.2 492.7h0M431.9 492.7h0M470.2 492.7h0M477.9 492.7h0M485.6 492.7h0M493.2 492.7h0M500.9 492.7h0M508.6 492.7h0M516.3 492.7h0M523.9 492.7h0M531.6 492.7h0M539.3 492.7h0M546.9 492.7h0M554.6 492.7h0M562.3 492.7h0M569.9 492.7h0M577.6 492.7h0M585.3 492.7h0M593.0 492.7h0M600.6 492.7h0M608.3 492.7h0M616.0 492.7h0M405.0 496.5h0M412.7 496.5h0M420.4 496.5h0M428.1 496.5h0M435.7 496.5h0M443.4 496.5h0M451.1 496.5h0M458.7 496.5h0M466.4 496.5h0M474.1 496.5h0M481.7 496.5h0M489.4 496.5h0M497.1 496.5h0M504.8 496.5h0M512.4 496.5h0M520.1 496.5h0M527.8 496.5h0M535.4 496.5h0M543.1 496.5h0M550.8 496.5h0M558.4 496.5h0M566.1 496.5h0M573.8 496.5h0M581.5 496.5h0M589.1 496.5h0M596.8 496.5h0M604.5 496.5h0M612.1 496.5h0M619.8 496.5h0M627.5 496.5h0M401.2 500.3h0M408.9 500.3h0M416.5 500.3h0M424.2 500.3h0M431.9 500.3h0M439.6 500.3h0M447.2 500.3h0M454.9 500.3h0M462.6 500.3h0M470.2 500.3h0M477.9 500.3h0M485.6 500.3h0M493.2 500.3h0M500.9 500.3h0M508.6 500.3h0M516.3 500.3h0M523.9 500.3h0M531.6 500.3h0M539.3 500.3h0M546.9 500.3h0M554.6 500.3h0M562.3 500.3h0M569.9 500.3h0M577.6 500.3h0M585.3 500.3h0M593.0 500.3h0M600.6 500.3h0M608.3 500.3h0M616.0 500.3h0M623.6 500.3h0M631.3 500.3h0M639.0 500.3h0M646.6 500.3h0M654.3 500.3h0M662.0 500.3h0M405.0 504.1h0M412.7 504.1h0M420.4 504.1h0M428.1 504.1h0M443.4 504.1h0M451.1 504.1h0M458.7 504.1h0M466.4 504.1h0M474.1 504.1h0M481.7 504.1h0M489.4 504.1h0M497.1 504.1h0M504.8 504.1h0M512.4 504.1h0M520.1 504.1h0M527.8 504.1h0M535.4 504.1h0M543.1 504.1h0M550.8 504.1h0M558.4 504.1h0M566.1 504.1h0M573.8 504.1h0M581.5 504.1h0M589.1 504.1h0M596.8 504.1h0M604.5 504.1h0M612.1 504.1h0M619.8 504.1h0M627.5 504.1h0M635.1 504.1h0M642.8 504.1h0M650.5 504.1h0M658.2 504.1h0M665.8 504.1h0M401.2 507.9h0M408.9 507.9h0M416.5 507.9h0M424.2 507.9h0M470.2 507.9h0M477.9 507.9h0M485.6 507.9h0M493.2 507.9h0M500.9 507.9h0M508.6 507.9h0M516.3 507.9h0M523.9 507.9h0M531.6 507.9h0M539.3 507.9h0M562.3 507.9h0M569.9 507.9h0M577.6 507.9h0M585.3 507.9h0M593.0 507.9h0M600.6 507.9h0M608.3 507.9h0M616.0 507.9h0M623.6 507.9h0M631.3 507.9h0M639.0 507.9h0M646.6 507.9h0M654.3 507.9h0M662.0 507.9h0M405.0 511.7h0M412.7 511.7h0M420.4 511.7h0M428.1 511.7h0M458.7 511.7h0M504.8 511.7h0M512.4 511.7h0M520.1 511.7h0M527.8 511.7h0M558.4 511.7h0M566.1 511.7h0M573.8 511.7h0M604.5 511.7h0M612.1 511.7h0M619.8 511.7h0M627.5 511.7h0M635.1 511.7h0M642.8 511.7h0M650.5 511.7h0M658.2 511.7h0M424.2 515.5h0M462.6 515.5h0M470.2 515.5h0M477.9 515.5h0M485.6 515.5h0M562.3 515.5h0M569.9 515.5h0M577.6 515.5h0M639.0 515.5h0M646.6 515.5h0M654.3 515.5h0M420.4 519.3h0M428.1 519.3h0M435.7 519.3h0M481.7 519.3h0M489.4 519.3h0M497.1 519.3h0M504.8 519.3h0M581.5 519.3h0M424.2 523.1h0M431.9 523.1h0M439.6 523.1h0M447.2 523.1h0M493.2 523.1h0M500.9 523.1h0M508.6 523.1h0M516.3 523.1h0M546.9 523.1h0M554.6 523.1h0M562.3 523.1h0M585.3 523.1h0M593.0 523.1h0M600.6 523.1h0M608.3 523.1h0M616.0 523.1h0M662.0 523.1h0M669.7 523.1h0M420.4 526.9h0M428.1 526.9h0M435.7 526.9h0M443.4 526.9h0M451.1 526.9h0M458.7 526.9h0M504.8 526.9h0M512.4 526.9h0M520.1 526.9h0M527.8 526.9h0M543.1 526.9h0M550.8 526.9h0M558.4 526.9h0M566.1 526.9h0M581.5 526.9h0M589.1 526.9h0M596.8 526.9h0M604.5 526.9h0M612.1 526.9h0M619.8 526.9h0M424.2 530.7h0M431.9 530.7h0M439.6 530.7h0M447.2 530.7h0M454.9 530.7h0M462.6 530.7h0M546.9 530.7h0M554.6 530.7h0M562.3 530.7h0M585.3 530.7h0M593.0 530.7h0M600.6 530.7h0M608.3 530.7h0M616.0 530.7h0" stroke="#000" stroke-width="2.40" stroke-linecap="round" fill="none"/>

<use href="#land" transform="translate(255.450 500.530) scale(0.118042 -0.118900)" fill="none" stroke="#777" stroke-width="0.45"/>

</g>
<text x="395.90" y="410.50" font-size="16.4">(f) SOND precipitation</text>
<rect x="397.10" y="417.30" width="283.30" height="118.90" fill="none" stroke="#000" stroke-width="1.2"/>
<path d="M392.80 536.20H397.10M680.40 536.20H684.70M394.90 524.31H397.10M680.40 524.31H682.60M394.90 512.42H397.10M680.40 512.42H682.60M392.80 500.53H397.10M680.40 500.53H684.70M394.90 488.64H397.10M680.40 488.64H682.60M394.90 476.75H397.10M680.40 476.75H682.60M392.80 464.86H397.10M680.40 464.86H684.70M394.90 452.97H397.10M680.40 452.97H682.60M394.90 441.08H397.10M680.40 441.08H682.60M392.80 429.19H397.10M680.40 429.19H684.70M394.90 417.30H397.10M680.40 417.30H682.60M397.10 536.20V540.50M408.90 536.20V538.40M420.71 536.20V538.40M432.51 536.20V540.50M444.32 536.20V538.40M456.12 536.20V538.40M467.93 536.20V540.50M479.73 536.20V538.40M491.53 536.20V538.40M503.34 536.20V540.50M515.14 536.20V538.40M526.95 536.20V538.40M538.75 536.20V540.50M550.55 536.20V538.40M562.36 536.20V538.40M574.16 536.20V540.50M585.97 536.20V538.40M597.77 536.20V538.40M609.58 536.20V540.50M621.38 536.20V538.40M633.18 536.20V538.40M644.99 536.20V540.50M656.79 536.20V538.40M668.60 536.20V538.40M680.40 536.20V540.50" stroke="#000" stroke-width="1" fill="none"/>
<text x="386.30" y="433.69" text-anchor="end" font-size="12.4">60N</text>
<text x="386.30" y="469.36" text-anchor="end" font-size="12.4">30N</text>
<text x="386.30" y="505.03" text-anchor="end" font-size="12.4">0</text>
<text x="386.30" y="540.70" text-anchor="end" font-size="12.4">30S</text>
<text x="397.10" y="558.20" text-anchor="middle" font-size="12.4">120E</text>
<text x="432.51" y="558.20" text-anchor="middle" font-size="12.4">150E</text>
<text x="467.93" y="558.20" text-anchor="middle" font-size="12.4">180</text>
<text x="503.34" y="558.20" text-anchor="middle" font-size="12.4">150W</text>
<text x="538.75" y="558.20" text-anchor="middle" font-size="12.4">120W</text>
<text x="574.16" y="558.20" text-anchor="middle" font-size="12.4">90W</text>
<text x="609.58" y="558.20" text-anchor="middle" font-size="12.4">60W</text>
<text x="644.99" y="558.20" text-anchor="middle" font-size="12.4">30W</text>
<text x="680.40" y="558.20" text-anchor="middle" font-size="12.4">0</text>
<rect x="1.40" y="571.4" width="8.52" height="11.0" fill="#7b55d8" stroke="#000" stroke-width="0.8"/>
<rect x="9.92" y="571.4" width="8.52" height="11.0" fill="#6a48d8" stroke="#000" stroke-width="0.8"/>
<rect x="18.44" y="571.4" width="8.52" height="11.0" fill="#4a30d0" stroke="#000" stroke-width="0.8"/>
<rect x="26.96" y="571.4" width="8.52" height="11.0" fill="#2a18d0" stroke="#000" stroke-width="0.8"/>
<rect x="35.47" y="571.4" width="8.52" height="11.0" fill="#0808d8" stroke="#000" stroke-width="0.8"/>
<rect x="43.99" y="571.4" width="8.52" height="11.0" fill="#1020d8" stroke="#000" stroke-width="0.8"/>
<rect x="52.51" y="571.4" width="8.52" height="11.0" fill="#1a35d8" stroke="#000" stroke-width="0.8"/>
<rect x="61.03" y="571.4" width="8.52" height="11.0" fill="#2a40e0" stroke="#000" stroke-width="0.8"/>
<rect x="69.55" y="571.4" width="8.52" height="11.0" fill="#3858e4" stroke="#000" stroke-width="0.8"/>
<rect x="78.07" y="571.4" width="8.52" height="11.0" fill="#4a6ae8" stroke="#000" stroke-width="0.8"/>
<rect x="86.58" y="571.4" width="8.52" height="11.0" fill="#5278ea" stroke="#000" stroke-width="0.8"/>
<rect x="95.10" y="571.4" width="8.52" height="11.0" fill="#5e86ee" stroke="#000" stroke-width="0.8"/>
<rect x="103.62" y="571.4" width="8.52" height="11.0" fill="#6a92f0" stroke="#000" stroke-width="0.8"/>
<rect x="112.14" y="571.4" width="8.52" height="11.0" fill="#78a4f2" stroke="#000" stroke-width="0.8"/>
<rect x="120.66" y="571.4" width="8.52" height="11.0" fill="#88b8f0" stroke="#000" stroke-width="0.8"/>
<rect x="129.18" y="571.4" width="8.52" height="11.0" fill="#98d0ea" stroke="#000" stroke-width="0.8"/>
<rect x="137.69" y="571.4" width="8.52" height="11.0" fill="#a4d8e6" stroke="#000" stroke-width="0.8"/>
<rect x="146.21" y="571.4" width="8.52" height="11.0" fill="#b2e4e2" stroke="#000" stroke-width="0.8"/>
<rect x="154.73" y="571.4" width="8.52" height="11.0" fill="#ffffff" stroke="#000" stroke-width="0.8"/>
<rect x="163.25" y="571.4" width="8.52" height="11.0" fill="#ffffff" stroke="#000" stroke-width="0.8"/>
<rect x="171.77" y="571.4" width="8.52" height="11.0" fill="#f2d8a8" stroke="#000" stroke-width="0.8"/>
<rect x="180.29" y="571.4" width="8.52" height="11.0" fill="#e0b47c" stroke="#000" stroke-width="0.8"/>
<rect x="188.81" y="571.4" width="8.52" height="11.0" fill="#f0c040" stroke="#000" stroke-width="0.8"/>
<rect x="197.32" y="571.4" width="8.52" height="11.0" fill="#ffe000" stroke="#000" stroke-width="0.8"/>
<rect x="205.84" y="571.4" width="8.52" height="11.0" fill="#ffc000" stroke="#000" stroke-width="0.8"/>
<rect x="214.36" y="571.4" width="8.52" height="11.0" fill="#ffa800" stroke="#000" stroke-width="0.8"/>
<rect x="222.88" y="571.4" width="8.52" height="11.0" fill="#ff8c00" stroke="#000" stroke-width="0.8"/>
<rect x="231.40" y="571.4" width="8.52" height="11.0" fill="#ff7400" stroke="#000" stroke-width="0.8"/>
<rect x="239.92" y="571.4" width="8.52" height="11.0" fill="#ff5c00" stroke="#000" stroke-width="0.8"/>
<rect x="248.43" y="571.4" width="8.52" height="11.0" fill="#ff4000" stroke="#000" stroke-width="0.8"/>
<rect x="256.95" y="571.4" width="8.52" height="11.0" fill="#ee3a10" stroke="#000" stroke-width="0.8"/>
<rect x="265.47" y="571.4" width="8.52" height="11.0" fill="#dd3018" stroke="#000" stroke-width="0.8"/>
<rect x="273.99" y="571.4" width="8.52" height="11.0" fill="#cc2a20" stroke="#000" stroke-width="0.8"/>
<rect x="282.51" y="571.4" width="8.52" height="11.0" fill="#b82028" stroke="#000" stroke-width="0.8"/>
<rect x="291.03" y="571.4" width="8.52" height="11.0" fill="#c83840" stroke="#000" stroke-width="0.8"/>
<rect x="299.54" y="571.4" width="8.52" height="11.0" fill="#d45560" stroke="#000" stroke-width="0.8"/>
<rect x="308.06" y="571.4" width="8.52" height="11.0" fill="#e27080" stroke="#000" stroke-width="0.8"/>
<rect x="316.58" y="571.4" width="8.52" height="11.0" fill="#f0a0a4" stroke="#000" stroke-width="0.8"/>
<text x="26.96" y="596.3" text-anchor="middle" font-size="14.6">-0.8</text>
<text x="61.03" y="596.3" text-anchor="middle" font-size="14.6">-0.6</text>
<text x="95.10" y="596.3" text-anchor="middle" font-size="14.6">-0.4</text>
<text x="129.18" y="596.3" text-anchor="middle" font-size="14.6">-0.2</text>
<text x="163.25" y="596.3" text-anchor="middle" font-size="14.6">0</text>
<text x="197.32" y="596.3" text-anchor="middle" font-size="14.6">0.2</text>
<text x="231.40" y="596.3" text-anchor="middle" font-size="14.6">0.4</text>
<text x="265.47" y="596.3" text-anchor="middle" font-size="14.6">0.6</text>
<text x="299.54" y="596.3" text-anchor="middle" font-size="14.6">0.8</text>
<rect x="364.90" y="570.6" width="26.47" height="11.70" fill="#7a4410" stroke="#000" stroke-width="0.8"/>
<rect x="391.37" y="570.6" width="26.47" height="11.70" fill="#9e5e1a" stroke="#000" stroke-width="0.8"/>
<rect x="417.83" y="570.6" width="26.47" height="11.70" fill="#bc7e30" stroke="#000" stroke-width="0.8"/>
<rect x="444.30" y="570.6" width="26.47" height="11.70" fill="#d2a45a" stroke="#000" stroke-width="0.8"/>
<rect x="470.77" y="570.6" width="26.47" height="11.70" fill="#e5c88a" stroke="#000" stroke-width="0.8"/>
<rect x="497.23" y="570.6" width="26.47" height="11.70" fill="#f2e2b4" stroke="#000" stroke-width="0.8"/>
<rect x="523.70" y="570.6" width="26.47" height="11.70" fill="#b4e4dc" stroke="#000" stroke-width="0.8"/>
<rect x="550.17" y="570.6" width="26.47" height="11.70" fill="#88d4c4" stroke="#000" stroke-width="0.8"/>
<rect x="576.63" y="570.6" width="26.47" height="11.70" fill="#5cb4a6" stroke="#000" stroke-width="0.8"/>
<rect x="603.10" y="570.6" width="26.47" height="11.70" fill="#30958a" stroke="#000" stroke-width="0.8"/>
<rect x="629.57" y="570.6" width="26.47" height="11.70" fill="#137a70" stroke="#000" stroke-width="0.8"/>
<rect x="656.03" y="570.6" width="26.47" height="11.70" fill="#04594e" stroke="#000" stroke-width="0.8"/>
<text x="417.83" y="596.3" text-anchor="middle" font-size="14.6">-1</text>
<text x="470.77" y="596.3" text-anchor="middle" font-size="14.6">-0.5</text>
<text x="523.70" y="596.3" text-anchor="middle" font-size="14.6">0</text>
<text x="576.63" y="596.3" text-anchor="middle" font-size="14.6">0.5</text>
<text x="629.57" y="596.3" text-anchor="middle" font-size="14.6">1</text>
</svg></body></html>
